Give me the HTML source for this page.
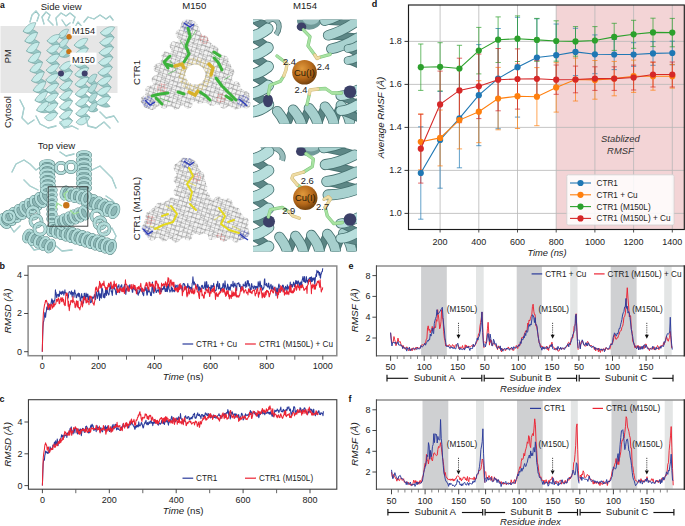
<!DOCTYPE html>
<html><head><meta charset="utf-8"><style>html,body{margin:0;padding:0;background:#fff;width:685px;height:526px;overflow:hidden}svg text{font-family:'Liberation Sans',sans-serif}</style></head>
<body><svg width="685" height="526" viewBox="0 0 685 526" style="display:block;font-family:'Liberation Sans',sans-serif">
<defs><pattern id="meshA" width="4.2" height="4.2" patternUnits="userSpaceOnUse" patternTransform="rotate(16)">
<path d="M0,0 L4.2,0 M0,0 L0,4.2" stroke="#767676" stroke-width="0.65" fill="none"/></pattern>
<pattern id="meshB" width="7.5" height="6.5" patternUnits="userSpaceOnUse" patternTransform="rotate(-34)">
<path d="M0,0 L7.5,0 M0,0 L3.75,6.5" stroke="#8a8a8a" stroke-width="0.55" fill="none"/></pattern>
<pattern id="meshY" width="3.6" height="3.6" patternUnits="userSpaceOnUse" patternTransform="rotate(20)">
<path d="M0,0 L3.6,0 M0,0 L0,3.6" stroke="#d9b63a" stroke-width="0.6" fill="none"/></pattern>
<pattern id="meshBl" width="3" height="3" patternUnits="userSpaceOnUse" patternTransform="rotate(30)">
<path d="M0,0 L3,0 M0,0 L0,3" stroke="#2936b0" stroke-width="0.7" fill="none"/></pattern>
<pattern id="meshR" width="3.4" height="3.4" patternUnits="userSpaceOnUse" patternTransform="rotate(10)">
<path d="M0,0 L3.4,0 M0,0 L0,3.4" stroke="#d04040" stroke-width="0.5" fill="none"/></pattern>
<radialGradient id="cu" cx="0.4" cy="0.35" r="0.68">
<stop offset="0" stop-color="#e0993c"/><stop offset="0.6" stop-color="#b5681a"/><stop offset="1" stop-color="#6e3e0c"/></radialGradient></defs>
<rect width="685" height="526" fill="#fff"/>
<rect x="0.5" y="26" width="117" height="67" fill="#e6e6e6"/>
<path d="M30.0,22.0 32.0,15.0 36.0,11.0 39.0,15.0 37.0,21.0" fill="none" stroke="#8fbcbb" stroke-width="1.3" stroke-linejoin="round" stroke-linecap="round"/><path d="M30.0,22.0 32.0,15.0 36.0,11.0 39.0,15.0 37.0,21.0" fill="none" stroke="#b2dbd9" stroke-width="0.8" stroke-linejoin="round" stroke-linecap="round"/>
<path d="M44.0,24.0 42.0,17.0 46.0,12.0 50.0,15.0 48.0,20.0 53.0,25.0" fill="none" stroke="#8fbcbb" stroke-width="1.3" stroke-linejoin="round" stroke-linecap="round"/><path d="M44.0,24.0 42.0,17.0 46.0,12.0 50.0,15.0 48.0,20.0 53.0,25.0" fill="none" stroke="#b2dbd9" stroke-width="0.8" stroke-linejoin="round" stroke-linecap="round"/>
<path d="M57.0,25.0 56.0,18.0 61.0,13.0 66.0,16.0 70.0,13.0 75.0,17.0 73.0,23.0" fill="none" stroke="#8fbcbb" stroke-width="1.3" stroke-linejoin="round" stroke-linecap="round"/><path d="M57.0,25.0 56.0,18.0 61.0,13.0 66.0,16.0 70.0,13.0 75.0,17.0 73.0,23.0" fill="none" stroke="#b2dbd9" stroke-width="0.8" stroke-linejoin="round" stroke-linecap="round"/>
<path d="M84.0,22.0 88.0,17.0 94.0,19.0 100.0,15.0 106.0,19.0 110.0,16.0 113.0,20.0" fill="none" stroke="#8fbcbb" stroke-width="1.3" stroke-linejoin="round" stroke-linecap="round"/><path d="M84.0,22.0 88.0,17.0 94.0,19.0 100.0,15.0 106.0,19.0 110.0,16.0 113.0,20.0" fill="none" stroke="#b2dbd9" stroke-width="0.8" stroke-linejoin="round" stroke-linecap="round"/>
<path d="M75.0,27.0 78.0,22.0 83.0,28.0" fill="none" stroke="#8fbcbb" stroke-width="1.3" stroke-linejoin="round" stroke-linecap="round"/><path d="M75.0,27.0 78.0,22.0 83.0,28.0" fill="none" stroke="#b2dbd9" stroke-width="0.8" stroke-linejoin="round" stroke-linecap="round"/>
<path d="M62.0,20.0 66.0,26.0 70.0,23.0" fill="none" stroke="#8fbcbb" stroke-width="1.3" stroke-linejoin="round" stroke-linecap="round"/><path d="M62.0,20.0 66.0,26.0 70.0,23.0" fill="none" stroke="#b2dbd9" stroke-width="0.8" stroke-linejoin="round" stroke-linecap="round"/>
<path d="M87.2,80.9C90.2,77.9 94.2,79.2 97.3,84.2C94.4,86.3 90.3,84.9 87.2,80.9Z" fill="#98c8c6" stroke="#6e9f9e" stroke-width="0.6"/>
<path d="M87.5,90.4C90.4,87.3 94.4,88.7 97.6,93.7C94.6,95.8 90.6,94.4 87.5,90.4Z" fill="#98c8c6" stroke="#6e9f9e" stroke-width="0.6"/>
<path d="M87.7,99.9C90.7,96.8 94.7,98.2 97.8,103.2C94.9,105.3 90.8,103.9 87.7,99.9Z" fill="#98c8c6" stroke="#6e9f9e" stroke-width="0.6"/>
<path d="M88.0,109.4C90.9,105.5 94.9,105.7 98.0,109.9C95.1,112.8 91.1,112.6 88.0,109.4Z" fill="#98c8c6" stroke="#6e9f9e" stroke-width="0.6"/>
<path d="M97.1,74.7C94.0,72.9 90.1,75.4 87.2,80.9C90.4,85.5 94.3,83.1 97.1,74.7Z" fill="#b5dedc" stroke="#6e9f9e" stroke-width="0.6"/>
<path d="M97.3,84.2C94.3,82.4 90.3,84.9 87.5,90.4C90.6,95.0 94.5,92.5 97.3,84.2Z" fill="#b5dedc" stroke="#6e9f9e" stroke-width="0.6"/>
<path d="M97.6,93.7C94.5,91.9 90.6,94.4 87.7,99.9C90.9,104.5 94.8,102.0 97.6,93.7Z" fill="#b5dedc" stroke="#6e9f9e" stroke-width="0.6"/>
<path d="M97.8,103.2C94.8,101.4 90.8,103.9 88.0,109.4C91.1,114.0 95.0,111.5 97.8,103.2Z" fill="#b5dedc" stroke="#6e9f9e" stroke-width="0.6"/>
<path d="M57.9,35.8C61.1,33.0 65.5,34.3 69.0,39.0C65.7,40.8 61.3,39.5 57.9,35.8Z" fill="#98c8c6" stroke="#6e9f9e" stroke-width="0.6"/>
<path d="M58.2,45.3C61.4,42.5 65.8,43.8 69.3,48.5C66.0,50.3 61.6,49.0 58.2,45.3Z" fill="#98c8c6" stroke="#6e9f9e" stroke-width="0.6"/>
<path d="M58.5,54.7C61.7,51.3 66.1,51.8 69.5,55.8C66.3,58.3 61.9,57.9 58.5,54.7Z" fill="#98c8c6" stroke="#6e9f9e" stroke-width="0.6"/>
<path d="M68.7,29.5C65.3,28.2 61.0,30.6 57.9,35.8C61.3,40.0 65.6,37.5 68.7,29.5Z" fill="#bfe6e4" stroke="#6e9f9e" stroke-width="0.6"/>
<path d="M69.0,39.0C65.6,37.6 61.3,40.1 58.2,45.3C61.6,49.5 65.9,47.0 69.0,39.0Z" fill="#bfe6e4" stroke="#6e9f9e" stroke-width="0.6"/>
<path d="M69.3,48.5C65.9,47.1 61.6,49.6 58.5,54.7C61.9,59.0 66.2,56.5 69.3,48.5Z" fill="#bfe6e4" stroke="#6e9f9e" stroke-width="0.6"/>
<path d="M23.1,31.3C26.8,27.7 32.6,28.3 37.6,32.7C33.8,35.3 28.0,34.7 23.1,31.3Z" fill="#98c8c6" stroke="#6e9f9e" stroke-width="0.6"/>
<path d="M24.8,41.1C28.5,37.6 34.2,38.1 39.3,42.5C35.4,45.1 29.7,44.6 24.8,41.1Z" fill="#98c8c6" stroke="#6e9f9e" stroke-width="0.6"/>
<path d="M26.5,51.0C30.2,47.4 35.9,48.0 40.9,52.4C37.1,55.0 31.3,54.4 26.5,51.0Z" fill="#98c8c6" stroke="#6e9f9e" stroke-width="0.6"/>
<path d="M28.2,60.9C31.8,57.3 37.6,57.8 42.6,62.3C38.8,64.8 33.0,64.3 28.2,60.9Z" fill="#98c8c6" stroke="#6e9f9e" stroke-width="0.6"/>
<path d="M29.9,70.7C33.5,67.1 39.3,67.7 44.3,72.1C40.5,74.7 34.7,74.1 29.9,70.7Z" fill="#98c8c6" stroke="#6e9f9e" stroke-width="0.6"/>
<path d="M31.5,80.6C35.2,77.0 41.0,77.6 46.0,82.0C42.2,84.6 36.4,84.0 31.5,80.6Z" fill="#98c8c6" stroke="#6e9f9e" stroke-width="0.6"/>
<path d="M33.2,90.4C36.9,86.9 42.7,87.4 47.7,91.8C43.8,94.4 38.1,93.9 33.2,90.4Z" fill="#98c8c6" stroke="#6e9f9e" stroke-width="0.6"/>
<path d="M34.9,100.3C38.6,96.7 44.3,97.3 49.3,101.7C45.5,104.3 39.7,103.7 34.9,100.3Z" fill="#98c8c6" stroke="#6e9f9e" stroke-width="0.6"/>
<path d="M36.6,110.2C40.2,106.4 45.9,106.6 50.9,110.8C47.1,113.6 41.4,113.4 36.6,110.2Z" fill="#98c8c6" stroke="#6e9f9e" stroke-width="0.6"/>
<path d="M35.9,22.8C31.5,21.8 26.4,25.2 23.1,31.3C28.1,35.2 33.2,31.8 35.9,22.8Z" fill="#c6ecea" stroke="#6e9f9e" stroke-width="0.6"/>
<path d="M37.6,32.7C33.2,31.7 28.1,35.1 24.8,41.1C29.8,45.1 34.9,41.7 37.6,32.7Z" fill="#c6ecea" stroke="#6e9f9e" stroke-width="0.6"/>
<path d="M39.3,42.5C34.8,41.6 29.7,44.9 26.5,51.0C31.4,54.9 36.5,51.6 39.3,42.5Z" fill="#c6ecea" stroke="#6e9f9e" stroke-width="0.6"/>
<path d="M40.9,52.4C36.5,51.4 31.4,54.8 28.2,60.9C33.1,64.8 38.2,61.4 40.9,52.4Z" fill="#c6ecea" stroke="#6e9f9e" stroke-width="0.6"/>
<path d="M42.6,62.3C38.2,61.3 33.1,64.7 29.9,70.7C34.8,74.7 39.9,71.3 42.6,62.3Z" fill="#c6ecea" stroke="#6e9f9e" stroke-width="0.6"/>
<path d="M44.3,72.1C39.9,71.1 34.8,74.5 31.5,80.6C36.5,84.5 41.6,81.1 44.3,72.1Z" fill="#c6ecea" stroke="#6e9f9e" stroke-width="0.6"/>
<path d="M46.0,82.0C41.6,81.0 36.5,84.4 33.2,90.4C38.2,94.4 43.3,91.0 46.0,82.0Z" fill="#c6ecea" stroke="#6e9f9e" stroke-width="0.6"/>
<path d="M47.7,91.8C43.2,90.9 38.1,94.2 34.9,100.3C39.8,104.2 44.9,100.8 47.7,91.8Z" fill="#c6ecea" stroke="#6e9f9e" stroke-width="0.6"/>
<path d="M49.3,101.7C44.9,100.7 39.8,104.1 36.6,110.2C41.5,114.1 46.6,110.7 49.3,101.7Z" fill="#c6ecea" stroke="#6e9f9e" stroke-width="0.6"/>
<path d="M47.2,40.8C51.2,38.0 56.4,39.7 60.1,45.0C56.1,46.8 51.0,45.1 47.2,40.8Z" fill="#98c8c6" stroke="#6e9f9e" stroke-width="0.6"/>
<path d="M46.9,50.6C50.9,47.8 56.0,49.5 59.7,54.8C55.8,56.6 50.6,54.9 46.9,50.6Z" fill="#98c8c6" stroke="#6e9f9e" stroke-width="0.6"/>
<path d="M46.5,60.4C50.5,57.6 55.7,59.3 59.4,64.6C55.4,66.4 50.3,64.7 46.5,60.4Z" fill="#98c8c6" stroke="#6e9f9e" stroke-width="0.6"/>
<path d="M46.2,70.2C50.2,67.4 55.3,69.1 59.0,74.4C55.1,76.2 49.9,74.5 46.2,70.2Z" fill="#98c8c6" stroke="#6e9f9e" stroke-width="0.6"/>
<path d="M45.8,80.0C49.8,77.2 55.0,78.9 58.7,84.2C54.7,86.0 49.6,84.3 45.8,80.0Z" fill="#98c8c6" stroke="#6e9f9e" stroke-width="0.6"/>
<path d="M45.5,89.8C49.5,87.0 54.6,88.7 58.4,94.0C54.4,95.8 49.2,94.1 45.5,89.8Z" fill="#98c8c6" stroke="#6e9f9e" stroke-width="0.6"/>
<path d="M45.1,99.6C49.1,96.8 54.3,98.5 58.0,103.7C54.0,105.5 48.9,103.9 45.1,99.6Z" fill="#98c8c6" stroke="#6e9f9e" stroke-width="0.6"/>
<path d="M44.8,109.4C48.8,106.6 53.9,108.3 57.7,113.5C53.7,115.3 48.6,113.7 44.8,109.4Z" fill="#98c8c6" stroke="#6e9f9e" stroke-width="0.6"/>
<path d="M60.4,35.2C56.6,33.3 51.3,35.5 47.2,40.8C51.0,45.7 56.2,43.4 60.4,35.2Z" fill="#c6ecea" stroke="#6e9f9e" stroke-width="0.6"/>
<path d="M60.1,45.0C56.2,43.1 51.0,45.3 46.9,50.6C50.6,55.4 55.9,53.2 60.1,45.0Z" fill="#c6ecea" stroke="#6e9f9e" stroke-width="0.6"/>
<path d="M59.7,54.8C55.9,52.9 50.6,55.1 46.5,60.4C50.3,65.2 55.5,63.0 59.7,54.8Z" fill="#c6ecea" stroke="#6e9f9e" stroke-width="0.6"/>
<path d="M59.4,64.6C55.6,62.7 50.3,64.9 46.2,70.2C49.9,75.0 55.2,72.8 59.4,64.6Z" fill="#c6ecea" stroke="#6e9f9e" stroke-width="0.6"/>
<path d="M59.0,74.4C55.2,72.5 49.9,74.7 45.8,80.0C49.6,84.8 54.9,82.6 59.0,74.4Z" fill="#c6ecea" stroke="#6e9f9e" stroke-width="0.6"/>
<path d="M58.7,84.2C54.9,82.2 49.6,84.5 45.5,89.8C49.2,94.6 54.5,92.4 58.7,84.2Z" fill="#c6ecea" stroke="#6e9f9e" stroke-width="0.6"/>
<path d="M58.4,94.0C54.5,92.0 49.2,94.3 45.1,99.6C48.9,104.4 54.2,102.2 58.4,94.0Z" fill="#c6ecea" stroke="#6e9f9e" stroke-width="0.6"/>
<path d="M58.0,103.7C54.2,101.8 48.9,104.1 44.8,109.4C48.5,114.2 53.8,112.0 58.0,103.7Z" fill="#c6ecea" stroke="#6e9f9e" stroke-width="0.6"/>
<path d="M57.7,113.5C53.8,111.2 48.6,112.9 44.5,117.8C48.2,123.0 53.5,121.3 57.7,113.5Z" fill="#c6ecea" stroke="#6e9f9e" stroke-width="0.6"/>
<path d="M59.5,68.0C63.4,65.1 68.6,66.5 72.5,71.7C68.6,73.6 63.4,72.1 59.5,68.0Z" fill="#98c8c6" stroke="#6e9f9e" stroke-width="0.6"/>
<path d="M59.5,77.8C63.4,74.9 68.6,76.3 72.5,81.5C68.6,83.4 63.4,81.9 59.5,77.8Z" fill="#98c8c6" stroke="#6e9f9e" stroke-width="0.6"/>
<path d="M59.5,87.6C63.4,84.7 68.6,86.1 72.5,91.3C68.6,93.2 63.4,91.7 59.5,87.6Z" fill="#98c8c6" stroke="#6e9f9e" stroke-width="0.6"/>
<path d="M59.5,97.4C63.4,94.5 68.6,95.9 72.5,101.1C68.6,103.0 63.4,101.5 59.5,97.4Z" fill="#98c8c6" stroke="#6e9f9e" stroke-width="0.6"/>
<path d="M59.5,107.2C63.4,104.3 68.6,105.7 72.5,110.9C68.6,112.8 63.4,111.3 59.5,107.2Z" fill="#98c8c6" stroke="#6e9f9e" stroke-width="0.6"/>
<path d="M59.5,117.0C63.4,114.1 68.6,115.5 72.5,120.7C68.6,122.6 63.4,121.1 59.5,117.0Z" fill="#98c8c6" stroke="#6e9f9e" stroke-width="0.6"/>
<path d="M72.5,61.9C68.6,60.1 63.4,62.6 59.5,68.0C63.4,72.7 68.6,70.3 72.5,61.9Z" fill="#c6ecea" stroke="#6e9f9e" stroke-width="0.6"/>
<path d="M72.5,71.7C68.6,69.9 63.4,72.4 59.5,77.8C63.4,82.5 68.6,80.1 72.5,71.7Z" fill="#c6ecea" stroke="#6e9f9e" stroke-width="0.6"/>
<path d="M72.5,81.5C68.6,79.7 63.4,82.2 59.5,87.6C63.4,92.3 68.6,89.9 72.5,81.5Z" fill="#c6ecea" stroke="#6e9f9e" stroke-width="0.6"/>
<path d="M72.5,91.3C68.6,89.5 63.4,92.0 59.5,97.4C63.4,102.1 68.6,99.7 72.5,91.3Z" fill="#c6ecea" stroke="#6e9f9e" stroke-width="0.6"/>
<path d="M72.5,101.1C68.6,99.3 63.4,101.8 59.5,107.2C63.4,111.9 68.6,109.5 72.5,101.1Z" fill="#c6ecea" stroke="#6e9f9e" stroke-width="0.6"/>
<path d="M72.5,110.9C68.6,109.1 63.4,111.6 59.5,117.0C63.4,121.7 68.6,119.3 72.5,110.9Z" fill="#c6ecea" stroke="#6e9f9e" stroke-width="0.6"/>
<path d="M72.5,120.7C68.6,117.8 63.4,118.7 59.5,123.0C63.4,128.8 68.6,127.9 72.5,120.7Z" fill="#c6ecea" stroke="#6e9f9e" stroke-width="0.6"/>
<path d="M74.2,45.2C78.3,42.2 83.9,43.6 88.3,48.6C84.1,50.6 78.5,49.3 74.2,45.2Z" fill="#98c8c6" stroke="#6e9f9e" stroke-width="0.6"/>
<path d="M74.4,55.0C78.5,52.0 84.2,53.4 88.5,58.4C84.3,60.4 78.7,59.1 74.4,55.0Z" fill="#98c8c6" stroke="#6e9f9e" stroke-width="0.6"/>
<path d="M74.6,64.8C78.8,61.8 84.4,63.2 88.7,68.2C84.6,70.2 78.9,68.9 74.6,64.8Z" fill="#98c8c6" stroke="#6e9f9e" stroke-width="0.6"/>
<path d="M74.9,74.6C79.0,71.6 84.6,72.9 89.0,78.0C84.8,80.0 79.2,78.7 74.9,74.6Z" fill="#98c8c6" stroke="#6e9f9e" stroke-width="0.6"/>
<path d="M75.1,84.4C79.2,81.4 84.9,82.7 89.2,87.8C85.0,89.8 79.4,88.5 75.1,84.4Z" fill="#98c8c6" stroke="#6e9f9e" stroke-width="0.6"/>
<path d="M75.3,94.2C79.5,91.2 85.1,92.5 89.4,97.6C85.3,99.6 79.6,98.3 75.3,94.2Z" fill="#98c8c6" stroke="#6e9f9e" stroke-width="0.6"/>
<path d="M75.6,104.0C79.7,101.0 85.3,102.3 89.7,107.4C85.5,109.4 79.9,108.1 75.6,104.0Z" fill="#98c8c6" stroke="#6e9f9e" stroke-width="0.6"/>
<path d="M75.8,113.8C79.9,110.8 85.6,112.1 89.9,117.2C85.7,119.2 80.1,117.9 75.8,113.8Z" fill="#98c8c6" stroke="#6e9f9e" stroke-width="0.6"/>
<path d="M88.0,38.8C83.8,37.1 78.2,39.7 74.2,45.2C78.5,49.8 84.0,47.3 88.0,38.8Z" fill="#c6ecea" stroke="#6e9f9e" stroke-width="0.6"/>
<path d="M88.3,48.6C84.0,46.9 78.5,49.5 74.4,55.0C78.7,59.6 84.3,57.1 88.3,48.6Z" fill="#c6ecea" stroke="#6e9f9e" stroke-width="0.6"/>
<path d="M88.5,58.4C84.2,56.7 78.7,59.3 74.6,64.8C78.9,69.4 84.5,66.9 88.5,58.4Z" fill="#c6ecea" stroke="#6e9f9e" stroke-width="0.6"/>
<path d="M88.7,68.2C84.5,66.5 78.9,69.1 74.9,74.6C79.2,79.2 84.7,76.7 88.7,68.2Z" fill="#c6ecea" stroke="#6e9f9e" stroke-width="0.6"/>
<path d="M89.0,78.0C84.7,76.3 79.2,78.9 75.1,84.4C79.4,89.0 85.0,86.5 89.0,78.0Z" fill="#c6ecea" stroke="#6e9f9e" stroke-width="0.6"/>
<path d="M89.2,87.8C84.9,86.1 79.4,88.7 75.3,94.2C79.6,98.8 85.2,96.3 89.2,87.8Z" fill="#c6ecea" stroke="#6e9f9e" stroke-width="0.6"/>
<path d="M89.4,97.6C85.2,95.9 79.6,98.5 75.6,104.0C79.9,108.6 85.4,106.1 89.4,97.6Z" fill="#c6ecea" stroke="#6e9f9e" stroke-width="0.6"/>
<path d="M89.7,107.4C85.4,105.7 79.9,108.3 75.8,113.8C80.1,118.4 85.7,115.9 89.7,107.4Z" fill="#c6ecea" stroke="#6e9f9e" stroke-width="0.6"/>
<path d="M89.9,117.2C85.6,115.1 80.1,117.1 76.0,122.2C80.3,127.2 85.9,125.2 89.9,117.2Z" fill="#c6ecea" stroke="#6e9f9e" stroke-width="0.6"/>
<path d="M100.4,32.8C104.8,30.1 110.3,32.0 114.1,37.4C109.8,39.0 104.3,37.2 100.4,32.8Z" fill="#98c8c6" stroke="#6e9f9e" stroke-width="0.6"/>
<path d="M99.8,42.7C104.2,40.1 109.7,41.9 113.5,47.4C109.2,49.0 103.7,47.2 99.8,42.7Z" fill="#98c8c6" stroke="#6e9f9e" stroke-width="0.6"/>
<path d="M99.2,52.7C103.6,50.1 109.1,51.9 112.9,57.4C108.6,59.0 103.1,57.2 99.2,52.7Z" fill="#98c8c6" stroke="#6e9f9e" stroke-width="0.6"/>
<path d="M98.6,62.7C103.0,60.1 108.5,61.9 112.3,67.3C108.0,69.0 102.5,67.1 98.6,62.7Z" fill="#98c8c6" stroke="#6e9f9e" stroke-width="0.6"/>
<path d="M98.0,72.7C102.4,70.0 107.9,71.9 111.7,77.3C107.4,79.0 101.9,77.1 98.0,72.7Z" fill="#98c8c6" stroke="#6e9f9e" stroke-width="0.6"/>
<path d="M97.4,82.7C101.8,80.0 107.3,81.9 111.1,87.3C106.8,89.0 101.3,87.1 97.4,82.7Z" fill="#98c8c6" stroke="#6e9f9e" stroke-width="0.6"/>
<path d="M96.8,92.7C101.2,90.0 106.7,91.9 110.5,97.3C106.2,98.9 100.7,97.1 96.8,92.7Z" fill="#98c8c6" stroke="#6e9f9e" stroke-width="0.6"/>
<path d="M96.2,102.6C100.6,99.7 106.1,101.2 110.0,106.4C105.7,108.3 100.1,106.8 96.2,102.6Z" fill="#98c8c6" stroke="#6e9f9e" stroke-width="0.6"/>
<path d="M114.7,27.4C110.7,25.5 104.9,27.6 100.4,32.8C104.3,37.7 110.0,35.6 114.7,27.4Z" fill="#c6ecea" stroke="#6e9f9e" stroke-width="0.6"/>
<path d="M114.1,37.4C110.1,35.4 104.3,37.6 99.8,42.7C103.7,47.7 109.4,45.6 114.1,37.4Z" fill="#c6ecea" stroke="#6e9f9e" stroke-width="0.6"/>
<path d="M113.5,47.4C109.5,45.4 103.7,47.6 99.2,52.7C103.1,57.7 108.8,55.5 113.5,47.4Z" fill="#c6ecea" stroke="#6e9f9e" stroke-width="0.6"/>
<path d="M112.9,57.4C108.9,55.4 103.1,57.5 98.6,62.7C102.5,67.7 108.2,65.5 112.9,57.4Z" fill="#c6ecea" stroke="#6e9f9e" stroke-width="0.6"/>
<path d="M112.3,67.3C108.3,65.4 102.5,67.5 98.0,72.7C101.9,77.6 107.6,75.5 112.3,67.3Z" fill="#c6ecea" stroke="#6e9f9e" stroke-width="0.6"/>
<path d="M111.7,77.3C107.7,75.4 101.9,77.5 97.4,82.7C101.3,87.6 107.0,85.5 111.7,77.3Z" fill="#c6ecea" stroke="#6e9f9e" stroke-width="0.6"/>
<path d="M111.1,87.3C107.0,85.3 101.3,87.5 96.8,92.7C100.7,97.6 106.4,95.5 111.1,87.3Z" fill="#c6ecea" stroke="#6e9f9e" stroke-width="0.6"/>
<path d="M110.5,97.3C106.4,95.3 100.7,97.5 96.2,102.6C100.1,107.6 105.8,105.4 110.5,97.3Z" fill="#c6ecea" stroke="#6e9f9e" stroke-width="0.6"/>
<path d="M20.0,100.0 24.0,108.0 22.0,118.0 28.0,124.0 34.0,120.0" fill="none" stroke="#8fbcbb" stroke-width="1.3" stroke-linejoin="round" stroke-linecap="round"/><path d="M20.0,100.0 24.0,108.0 22.0,118.0 28.0,124.0 34.0,120.0" fill="none" stroke="#b2dbd9" stroke-width="0.8" stroke-linejoin="round" stroke-linecap="round"/>
<path d="M36.0,116.0 40.0,124.0 48.0,128.0 56.0,126.0" fill="none" stroke="#8fbcbb" stroke-width="1.3" stroke-linejoin="round" stroke-linecap="round"/><path d="M36.0,116.0 40.0,124.0 48.0,128.0 56.0,126.0" fill="none" stroke="#b2dbd9" stroke-width="0.8" stroke-linejoin="round" stroke-linecap="round"/>
<path d="M60.0,122.0 64.0,128.0 72.0,126.0 78.0,129.0" fill="none" stroke="#8fbcbb" stroke-width="1.3" stroke-linejoin="round" stroke-linecap="round"/><path d="M60.0,122.0 64.0,128.0 72.0,126.0 78.0,129.0" fill="none" stroke="#b2dbd9" stroke-width="0.8" stroke-linejoin="round" stroke-linecap="round"/>
<path d="M86.0,118.0 88.0,126.0 96.0,128.0 104.0,122.0 110.0,128.0" fill="none" stroke="#8fbcbb" stroke-width="1.3" stroke-linejoin="round" stroke-linecap="round"/><path d="M86.0,118.0 88.0,126.0 96.0,128.0 104.0,122.0 110.0,128.0" fill="none" stroke="#b2dbd9" stroke-width="0.8" stroke-linejoin="round" stroke-linecap="round"/>
<path d="M100.0,112.0 106.0,118.0 114.0,116.0 118.0,122.0" fill="none" stroke="#8fbcbb" stroke-width="1.3" stroke-linejoin="round" stroke-linecap="round"/><path d="M100.0,112.0 106.0,118.0 114.0,116.0 118.0,122.0" fill="none" stroke="#b2dbd9" stroke-width="0.8" stroke-linejoin="round" stroke-linecap="round"/>
<circle cx="61" cy="73.6" r="3.0" fill="#3f3f6b"/>
<circle cx="84.7" cy="73.6" r="3.0" fill="#3f3f6b"/>
<circle cx="69.1" cy="36.8" r="2.7" fill="#c97516"/>
<circle cx="68.9" cy="51.6" r="2.7" fill="#c97516"/>
<rect x="70.8" y="25.8" width="25.7" height="9.6" fill="#fff"/>
<rect x="70.3" y="52.6" width="26.2" height="12" fill="#fff"/>
<text x="83.6" y="33.6" font-size="9.2" text-anchor="middle" fill="#222">M154</text>
<text x="83.4" y="62.9" font-size="9.2" text-anchor="middle" fill="#222">M150</text>
<text x="61.2" y="10.2" font-size="9.6" text-anchor="middle" fill="#222">Side view</text>
<text x="11.2" y="56.3" font-size="9.3" text-anchor="middle" fill="#222" transform="rotate(-90 11.2 56.3)">PM</text>
<text x="11.2" y="112.0" font-size="9.6" text-anchor="middle" fill="#222" transform="rotate(-90 11.2 112.0)">Cytosol</text>
<text x="0.0" y="7.5" font-size="8.5" text-anchor="start" fill="#111" font-weight="bold">a</text>
<text x="56.5" y="148.5" font-size="9.6" text-anchor="middle" fill="#222">Top view</text>
<path d="M12.0,172.0 16.0,164.0 24.0,160.0 30.0,164.0 36.0,170.0 42.0,166.0" fill="none" stroke="#8fbcbb" stroke-width="1.3" stroke-linejoin="round" stroke-linecap="round"/><path d="M12.0,172.0 16.0,164.0 24.0,160.0 30.0,164.0 36.0,170.0 42.0,166.0" fill="none" stroke="#b2dbd9" stroke-width="0.8" stroke-linejoin="round" stroke-linecap="round"/>
<path d="M92.0,170.0 100.0,166.0 106.0,172.0 112.0,178.0 116.0,188.0" fill="none" stroke="#8fbcbb" stroke-width="1.3" stroke-linejoin="round" stroke-linecap="round"/><path d="M92.0,170.0 100.0,166.0 106.0,172.0 112.0,178.0 116.0,188.0" fill="none" stroke="#b2dbd9" stroke-width="0.8" stroke-linejoin="round" stroke-linecap="round"/>
<path d="M20.0,226.0 14.0,232.0 10.0,226.0" fill="none" stroke="#8fbcbb" stroke-width="1.3" stroke-linejoin="round" stroke-linecap="round"/><path d="M20.0,226.0 14.0,232.0 10.0,226.0" fill="none" stroke="#b2dbd9" stroke-width="0.8" stroke-linejoin="round" stroke-linecap="round"/>
<path d="M104.0,232.0 112.0,228.0 116.0,236.0 112.0,246.0" fill="none" stroke="#8fbcbb" stroke-width="1.3" stroke-linejoin="round" stroke-linecap="round"/><path d="M104.0,232.0 112.0,228.0 116.0,236.0 112.0,246.0" fill="none" stroke="#b2dbd9" stroke-width="0.8" stroke-linejoin="round" stroke-linecap="round"/>
<path d="M28.0,242.0 34.0,250.0 44.0,248.0" fill="none" stroke="#8fbcbb" stroke-width="1.3" stroke-linejoin="round" stroke-linecap="round"/><path d="M28.0,242.0 34.0,250.0 44.0,248.0" fill="none" stroke="#b2dbd9" stroke-width="0.8" stroke-linejoin="round" stroke-linecap="round"/>
<path d="M56.0,246.0 62.0,251.0 72.0,250.0" fill="none" stroke="#8fbcbb" stroke-width="1.3" stroke-linejoin="round" stroke-linecap="round"/><path d="M56.0,246.0 62.0,251.0 72.0,250.0" fill="none" stroke="#b2dbd9" stroke-width="0.8" stroke-linejoin="round" stroke-linecap="round"/>
<path d="M24.0,180.0 30.0,186.0 38.0,190.0" fill="none" stroke="#8fbcbb" stroke-width="1.3" stroke-linejoin="round" stroke-linecap="round"/><path d="M24.0,180.0 30.0,186.0 38.0,190.0" fill="none" stroke="#b2dbd9" stroke-width="0.8" stroke-linejoin="round" stroke-linecap="round"/>
<path d="M106.0,196.0 112.0,200.0 117.0,206.0" fill="none" stroke="#8fbcbb" stroke-width="1.3" stroke-linejoin="round" stroke-linecap="round"/><path d="M106.0,196.0 112.0,200.0 117.0,206.0" fill="none" stroke="#b2dbd9" stroke-width="0.8" stroke-linejoin="round" stroke-linecap="round"/>
<path d="M60.0,152.0 66.0,156.0 74.0,154.0" fill="none" stroke="#8fbcbb" stroke-width="1.3" stroke-linejoin="round" stroke-linecap="round"/><path d="M60.0,152.0 66.0,156.0 74.0,154.0" fill="none" stroke="#b2dbd9" stroke-width="0.8" stroke-linejoin="round" stroke-linecap="round"/>
<ellipse cx="28.0" cy="236.0" rx="6.0" ry="3.8" transform="rotate(114.4 28.0 236.0)" fill="#8db7b6" stroke="#55807f" stroke-width="3.3"/>
<ellipse cx="28.0" cy="236.0" rx="6.0" ry="3.8" transform="rotate(114.4 28.0 236.0)" fill="none" stroke="#b3dcda" stroke-width="2.4"/>
<ellipse cx="33.5" cy="238.5" rx="6.0" ry="3.8" transform="rotate(114.4 33.5 238.5)" fill="#8db7b6" stroke="#55807f" stroke-width="3.3"/>
<ellipse cx="33.5" cy="238.5" rx="6.0" ry="3.8" transform="rotate(114.4 33.5 238.5)" fill="none" stroke="#b3dcda" stroke-width="2.4"/>
<ellipse cx="39.0" cy="241.0" rx="6.0" ry="3.8" transform="rotate(114.4 39.0 241.0)" fill="#8db7b6" stroke="#55807f" stroke-width="3.3"/>
<ellipse cx="39.0" cy="241.0" rx="6.0" ry="3.8" transform="rotate(114.4 39.0 241.0)" fill="none" stroke="#b3dcda" stroke-width="2.4"/>
<ellipse cx="44.5" cy="243.5" rx="6.0" ry="3.8" transform="rotate(114.4 44.5 243.5)" fill="#8db7b6" stroke="#55807f" stroke-width="3.3"/>
<ellipse cx="44.5" cy="243.5" rx="6.0" ry="3.8" transform="rotate(114.4 44.5 243.5)" fill="none" stroke="#b3dcda" stroke-width="2.4"/>
<ellipse cx="50.0" cy="246.0" rx="6.0" ry="3.8" transform="rotate(114.4 50.0 246.0)" fill="#8db7b6" stroke="#55807f" stroke-width="3.3"/>
<ellipse cx="50.0" cy="246.0" rx="6.0" ry="3.8" transform="rotate(114.4 50.0 246.0)" fill="none" stroke="#b3dcda" stroke-width="2.4"/>
<ellipse cx="52.0" cy="229.0" rx="6.4" ry="4.0" transform="rotate(107.0 52.0 229.0)" fill="#8db7b6" stroke="#55807f" stroke-width="3.3"/>
<ellipse cx="52.0" cy="229.0" rx="6.4" ry="4.0" transform="rotate(107.0 52.0 229.0)" fill="none" stroke="#b3dcda" stroke-width="2.4"/>
<ellipse cx="56.9" cy="230.5" rx="6.4" ry="4.0" transform="rotate(107.0 56.9 230.5)" fill="#8db7b6" stroke="#55807f" stroke-width="3.3"/>
<ellipse cx="56.9" cy="230.5" rx="6.4" ry="4.0" transform="rotate(107.0 56.9 230.5)" fill="none" stroke="#b3dcda" stroke-width="2.4"/>
<ellipse cx="61.8" cy="232.0" rx="6.4" ry="4.0" transform="rotate(107.0 61.8 232.0)" fill="#8db7b6" stroke="#55807f" stroke-width="3.3"/>
<ellipse cx="61.8" cy="232.0" rx="6.4" ry="4.0" transform="rotate(107.0 61.8 232.0)" fill="none" stroke="#b3dcda" stroke-width="2.4"/>
<ellipse cx="66.8" cy="233.5" rx="6.4" ry="4.0" transform="rotate(107.0 66.8 233.5)" fill="#8db7b6" stroke="#55807f" stroke-width="3.3"/>
<ellipse cx="66.8" cy="233.5" rx="6.4" ry="4.0" transform="rotate(107.0 66.8 233.5)" fill="none" stroke="#b3dcda" stroke-width="2.4"/>
<ellipse cx="71.7" cy="235.0" rx="6.4" ry="4.0" transform="rotate(107.0 71.7 235.0)" fill="#8db7b6" stroke="#55807f" stroke-width="3.3"/>
<ellipse cx="71.7" cy="235.0" rx="6.4" ry="4.0" transform="rotate(107.0 71.7 235.0)" fill="none" stroke="#b3dcda" stroke-width="2.4"/>
<ellipse cx="76.6" cy="236.5" rx="6.4" ry="4.0" transform="rotate(107.0 76.6 236.5)" fill="#8db7b6" stroke="#55807f" stroke-width="3.3"/>
<ellipse cx="76.6" cy="236.5" rx="6.4" ry="4.0" transform="rotate(107.0 76.6 236.5)" fill="none" stroke="#b3dcda" stroke-width="2.4"/>
<ellipse cx="81.5" cy="238.0" rx="6.4" ry="4.0" transform="rotate(107.0 81.5 238.0)" fill="#8db7b6" stroke="#55807f" stroke-width="3.3"/>
<ellipse cx="81.5" cy="238.0" rx="6.4" ry="4.0" transform="rotate(107.0 81.5 238.0)" fill="none" stroke="#b3dcda" stroke-width="2.4"/>
<ellipse cx="86.4" cy="239.5" rx="6.4" ry="4.0" transform="rotate(107.0 86.4 239.5)" fill="#8db7b6" stroke="#55807f" stroke-width="3.3"/>
<ellipse cx="86.4" cy="239.5" rx="6.4" ry="4.0" transform="rotate(107.0 86.4 239.5)" fill="none" stroke="#b3dcda" stroke-width="2.4"/>
<ellipse cx="91.3" cy="241.0" rx="6.4" ry="4.0" transform="rotate(107.0 91.3 241.0)" fill="#8db7b6" stroke="#55807f" stroke-width="3.3"/>
<ellipse cx="91.3" cy="241.0" rx="6.4" ry="4.0" transform="rotate(107.0 91.3 241.0)" fill="none" stroke="#b3dcda" stroke-width="2.4"/>
<ellipse cx="96.2" cy="242.5" rx="6.4" ry="4.0" transform="rotate(107.0 96.2 242.5)" fill="#8db7b6" stroke="#55807f" stroke-width="3.3"/>
<ellipse cx="96.2" cy="242.5" rx="6.4" ry="4.0" transform="rotate(107.0 96.2 242.5)" fill="none" stroke="#b3dcda" stroke-width="2.4"/>
<ellipse cx="101.2" cy="244.0" rx="6.4" ry="4.0" transform="rotate(107.0 101.2 244.0)" fill="#8db7b6" stroke="#55807f" stroke-width="3.3"/>
<ellipse cx="101.2" cy="244.0" rx="6.4" ry="4.0" transform="rotate(107.0 101.2 244.0)" fill="none" stroke="#b3dcda" stroke-width="2.4"/>
<ellipse cx="106.1" cy="245.5" rx="6.4" ry="4.0" transform="rotate(107.0 106.1 245.5)" fill="#8db7b6" stroke="#55807f" stroke-width="3.3"/>
<ellipse cx="106.1" cy="245.5" rx="6.4" ry="4.0" transform="rotate(107.0 106.1 245.5)" fill="none" stroke="#b3dcda" stroke-width="2.4"/>
<ellipse cx="111.0" cy="247.0" rx="6.4" ry="4.0" transform="rotate(107.0 111.0 247.0)" fill="#8db7b6" stroke="#55807f" stroke-width="3.3"/>
<ellipse cx="111.0" cy="247.0" rx="6.4" ry="4.0" transform="rotate(107.0 111.0 247.0)" fill="none" stroke="#b3dcda" stroke-width="2.4"/>
<ellipse cx="5.0" cy="221.0" rx="6.8" ry="4.3" transform="rotate(59.7 5.0 221.0)" fill="#8db7b6" stroke="#55807f" stroke-width="3.3"/>
<ellipse cx="5.0" cy="221.0" rx="6.8" ry="4.3" transform="rotate(59.7 5.0 221.0)" fill="none" stroke="#b3dcda" stroke-width="2.4"/>
<ellipse cx="10.1" cy="218.0" rx="6.8" ry="4.3" transform="rotate(59.7 10.1 218.0)" fill="#8db7b6" stroke="#55807f" stroke-width="3.3"/>
<ellipse cx="10.1" cy="218.0" rx="6.8" ry="4.3" transform="rotate(59.7 10.1 218.0)" fill="none" stroke="#b3dcda" stroke-width="2.4"/>
<ellipse cx="15.2" cy="215.0" rx="6.8" ry="4.3" transform="rotate(59.7 15.2 215.0)" fill="#8db7b6" stroke="#55807f" stroke-width="3.3"/>
<ellipse cx="15.2" cy="215.0" rx="6.8" ry="4.3" transform="rotate(59.7 15.2 215.0)" fill="none" stroke="#b3dcda" stroke-width="2.4"/>
<ellipse cx="20.4" cy="212.0" rx="6.8" ry="4.3" transform="rotate(59.7 20.4 212.0)" fill="#8db7b6" stroke="#55807f" stroke-width="3.3"/>
<ellipse cx="20.4" cy="212.0" rx="6.8" ry="4.3" transform="rotate(59.7 20.4 212.0)" fill="none" stroke="#b3dcda" stroke-width="2.4"/>
<ellipse cx="25.5" cy="209.0" rx="6.8" ry="4.3" transform="rotate(59.7 25.5 209.0)" fill="#8db7b6" stroke="#55807f" stroke-width="3.3"/>
<ellipse cx="25.5" cy="209.0" rx="6.8" ry="4.3" transform="rotate(59.7 25.5 209.0)" fill="none" stroke="#b3dcda" stroke-width="2.4"/>
<ellipse cx="30.6" cy="206.0" rx="6.8" ry="4.3" transform="rotate(59.7 30.6 206.0)" fill="#8db7b6" stroke="#55807f" stroke-width="3.3"/>
<ellipse cx="30.6" cy="206.0" rx="6.8" ry="4.3" transform="rotate(59.7 30.6 206.0)" fill="none" stroke="#b3dcda" stroke-width="2.4"/>
<ellipse cx="35.8" cy="203.0" rx="6.8" ry="4.3" transform="rotate(59.7 35.8 203.0)" fill="#8db7b6" stroke="#55807f" stroke-width="3.3"/>
<ellipse cx="35.8" cy="203.0" rx="6.8" ry="4.3" transform="rotate(59.7 35.8 203.0)" fill="none" stroke="#b3dcda" stroke-width="2.4"/>
<ellipse cx="40.9" cy="200.0" rx="6.8" ry="4.3" transform="rotate(59.7 40.9 200.0)" fill="#8db7b6" stroke="#55807f" stroke-width="3.3"/>
<ellipse cx="40.9" cy="200.0" rx="6.8" ry="4.3" transform="rotate(59.7 40.9 200.0)" fill="none" stroke="#b3dcda" stroke-width="2.4"/>
<ellipse cx="46.0" cy="197.0" rx="6.8" ry="4.3" transform="rotate(59.7 46.0 197.0)" fill="#8db7b6" stroke="#55807f" stroke-width="3.3"/>
<ellipse cx="46.0" cy="197.0" rx="6.8" ry="4.3" transform="rotate(59.7 46.0 197.0)" fill="none" stroke="#b3dcda" stroke-width="2.4"/>
<ellipse cx="87.0" cy="200.0" rx="6.6" ry="4.2" transform="rotate(112.2 87.0 200.0)" fill="#8db7b6" stroke="#55807f" stroke-width="3.3"/>
<ellipse cx="87.0" cy="200.0" rx="6.6" ry="4.2" transform="rotate(112.2 87.0 200.0)" fill="none" stroke="#b3dcda" stroke-width="2.4"/>
<ellipse cx="92.4" cy="202.2" rx="6.6" ry="4.2" transform="rotate(112.2 92.4 202.2)" fill="#8db7b6" stroke="#55807f" stroke-width="3.3"/>
<ellipse cx="92.4" cy="202.2" rx="6.6" ry="4.2" transform="rotate(112.2 92.4 202.2)" fill="none" stroke="#b3dcda" stroke-width="2.4"/>
<ellipse cx="97.8" cy="204.4" rx="6.6" ry="4.2" transform="rotate(112.2 97.8 204.4)" fill="#8db7b6" stroke="#55807f" stroke-width="3.3"/>
<ellipse cx="97.8" cy="204.4" rx="6.6" ry="4.2" transform="rotate(112.2 97.8 204.4)" fill="none" stroke="#b3dcda" stroke-width="2.4"/>
<ellipse cx="103.2" cy="206.6" rx="6.6" ry="4.2" transform="rotate(112.2 103.2 206.6)" fill="#8db7b6" stroke="#55807f" stroke-width="3.3"/>
<ellipse cx="103.2" cy="206.6" rx="6.6" ry="4.2" transform="rotate(112.2 103.2 206.6)" fill="none" stroke="#b3dcda" stroke-width="2.4"/>
<ellipse cx="108.6" cy="208.8" rx="6.6" ry="4.2" transform="rotate(112.2 108.6 208.8)" fill="#8db7b6" stroke="#55807f" stroke-width="3.3"/>
<ellipse cx="108.6" cy="208.8" rx="6.6" ry="4.2" transform="rotate(112.2 108.6 208.8)" fill="none" stroke="#b3dcda" stroke-width="2.4"/>
<ellipse cx="114.0" cy="211.0" rx="6.6" ry="4.2" transform="rotate(112.2 114.0 211.0)" fill="#8db7b6" stroke="#55807f" stroke-width="3.3"/>
<ellipse cx="114.0" cy="211.0" rx="6.6" ry="4.2" transform="rotate(112.2 114.0 211.0)" fill="none" stroke="#b3dcda" stroke-width="2.4"/>
<circle cx="9" cy="217" r="5.5" fill="none" stroke="#55807f" stroke-width="3.6"/><circle cx="9" cy="217" r="5.5" fill="none" stroke="#b3dcda" stroke-width="2.6"/>
<circle cx="33" cy="213" r="5.6" fill="none" stroke="#55807f" stroke-width="3.6"/><circle cx="33" cy="213" r="5.6" fill="none" stroke="#b3dcda" stroke-width="2.6"/>
<circle cx="36" cy="221" r="5.6" fill="none" stroke="#55807f" stroke-width="3.6"/><circle cx="36" cy="221" r="5.6" fill="none" stroke="#b3dcda" stroke-width="2.6"/>
<circle cx="40" cy="229" r="5.6" fill="none" stroke="#55807f" stroke-width="3.6"/><circle cx="40" cy="229" r="5.6" fill="none" stroke="#b3dcda" stroke-width="2.6"/>
<circle cx="97" cy="216" r="5.6" fill="none" stroke="#55807f" stroke-width="3.6"/><circle cx="97" cy="216" r="5.6" fill="none" stroke="#b3dcda" stroke-width="2.6"/>
<circle cx="100" cy="223" r="5.6" fill="none" stroke="#55807f" stroke-width="3.6"/><circle cx="100" cy="223" r="5.6" fill="none" stroke="#b3dcda" stroke-width="2.6"/>
<circle cx="104" cy="229" r="5.6" fill="none" stroke="#55807f" stroke-width="3.6"/><circle cx="104" cy="229" r="5.6" fill="none" stroke="#b3dcda" stroke-width="2.6"/>
<ellipse cx="84.0" cy="155.0" rx="6.4" ry="3.2" transform="rotate(180.0 84.0 155.0)" fill="#8db7b6" stroke="#55807f" stroke-width="3.3"/>
<ellipse cx="84.0" cy="155.0" rx="6.4" ry="3.2" transform="rotate(180.0 84.0 155.0)" fill="none" stroke="#b3dcda" stroke-width="2.4"/>
<ellipse cx="84.0" cy="159.7" rx="6.4" ry="3.2" transform="rotate(180.0 84.0 159.7)" fill="#8db7b6" stroke="#55807f" stroke-width="3.3"/>
<ellipse cx="84.0" cy="159.7" rx="6.4" ry="3.2" transform="rotate(180.0 84.0 159.7)" fill="none" stroke="#b3dcda" stroke-width="2.4"/>
<ellipse cx="84.0" cy="164.4" rx="6.4" ry="3.2" transform="rotate(180.0 84.0 164.4)" fill="#8db7b6" stroke="#55807f" stroke-width="3.3"/>
<ellipse cx="84.0" cy="164.4" rx="6.4" ry="3.2" transform="rotate(180.0 84.0 164.4)" fill="none" stroke="#b3dcda" stroke-width="2.4"/>
<ellipse cx="84.0" cy="169.1" rx="6.4" ry="3.2" transform="rotate(180.0 84.0 169.1)" fill="#8db7b6" stroke="#55807f" stroke-width="3.3"/>
<ellipse cx="84.0" cy="169.1" rx="6.4" ry="3.2" transform="rotate(180.0 84.0 169.1)" fill="none" stroke="#b3dcda" stroke-width="2.4"/>
<ellipse cx="84.0" cy="173.9" rx="6.4" ry="3.2" transform="rotate(180.0 84.0 173.9)" fill="#8db7b6" stroke="#55807f" stroke-width="3.3"/>
<ellipse cx="84.0" cy="173.9" rx="6.4" ry="3.2" transform="rotate(180.0 84.0 173.9)" fill="none" stroke="#b3dcda" stroke-width="2.4"/>
<ellipse cx="84.0" cy="178.6" rx="6.4" ry="3.2" transform="rotate(180.0 84.0 178.6)" fill="#8db7b6" stroke="#55807f" stroke-width="3.3"/>
<ellipse cx="84.0" cy="178.6" rx="6.4" ry="3.2" transform="rotate(180.0 84.0 178.6)" fill="none" stroke="#b3dcda" stroke-width="2.4"/>
<ellipse cx="84.0" cy="183.3" rx="6.4" ry="3.2" transform="rotate(180.0 84.0 183.3)" fill="#8db7b6" stroke="#55807f" stroke-width="3.3"/>
<ellipse cx="84.0" cy="183.3" rx="6.4" ry="3.2" transform="rotate(180.0 84.0 183.3)" fill="none" stroke="#b3dcda" stroke-width="2.4"/>
<ellipse cx="84.0" cy="188.0" rx="6.4" ry="3.2" transform="rotate(180.0 84.0 188.0)" fill="#8db7b6" stroke="#55807f" stroke-width="3.3"/>
<ellipse cx="84.0" cy="188.0" rx="6.4" ry="3.2" transform="rotate(180.0 84.0 188.0)" fill="none" stroke="#b3dcda" stroke-width="2.4"/>
<ellipse cx="47.0" cy="164.0" rx="6.4" ry="3.2" transform="rotate(177.8 47.0 164.0)" fill="#8db7b6" stroke="#55807f" stroke-width="3.3"/>
<ellipse cx="47.0" cy="164.0" rx="6.4" ry="3.2" transform="rotate(177.8 47.0 164.0)" fill="none" stroke="#b3dcda" stroke-width="2.4"/>
<ellipse cx="47.2" cy="168.3" rx="6.4" ry="3.2" transform="rotate(177.8 47.2 168.3)" fill="#8db7b6" stroke="#55807f" stroke-width="3.3"/>
<ellipse cx="47.2" cy="168.3" rx="6.4" ry="3.2" transform="rotate(177.8 47.2 168.3)" fill="none" stroke="#b3dcda" stroke-width="2.4"/>
<ellipse cx="47.3" cy="172.7" rx="6.4" ry="3.2" transform="rotate(177.8 47.3 172.7)" fill="#8db7b6" stroke="#55807f" stroke-width="3.3"/>
<ellipse cx="47.3" cy="172.7" rx="6.4" ry="3.2" transform="rotate(177.8 47.3 172.7)" fill="none" stroke="#b3dcda" stroke-width="2.4"/>
<ellipse cx="47.5" cy="177.0" rx="6.4" ry="3.2" transform="rotate(177.8 47.5 177.0)" fill="#8db7b6" stroke="#55807f" stroke-width="3.3"/>
<ellipse cx="47.5" cy="177.0" rx="6.4" ry="3.2" transform="rotate(177.8 47.5 177.0)" fill="none" stroke="#b3dcda" stroke-width="2.4"/>
<ellipse cx="47.7" cy="181.3" rx="6.4" ry="3.2" transform="rotate(177.8 47.7 181.3)" fill="#8db7b6" stroke="#55807f" stroke-width="3.3"/>
<ellipse cx="47.7" cy="181.3" rx="6.4" ry="3.2" transform="rotate(177.8 47.7 181.3)" fill="none" stroke="#b3dcda" stroke-width="2.4"/>
<ellipse cx="47.8" cy="185.7" rx="6.4" ry="3.2" transform="rotate(177.8 47.8 185.7)" fill="#8db7b6" stroke="#55807f" stroke-width="3.3"/>
<ellipse cx="47.8" cy="185.7" rx="6.4" ry="3.2" transform="rotate(177.8 47.8 185.7)" fill="none" stroke="#b3dcda" stroke-width="2.4"/>
<ellipse cx="48.0" cy="190.0" rx="6.4" ry="3.2" transform="rotate(177.8 48.0 190.0)" fill="#8db7b6" stroke="#55807f" stroke-width="3.3"/>
<ellipse cx="48.0" cy="190.0" rx="6.4" ry="3.2" transform="rotate(177.8 48.0 190.0)" fill="none" stroke="#b3dcda" stroke-width="2.4"/>
<circle cx="61" cy="168" r="5.2" fill="none" stroke="#55807f" stroke-width="3.6"/><circle cx="61" cy="168" r="5.2" fill="none" stroke="#b3dcda" stroke-width="2.6"/>
<circle cx="71" cy="167" r="5.2" fill="none" stroke="#55807f" stroke-width="3.6"/><circle cx="71" cy="167" r="5.2" fill="none" stroke="#b3dcda" stroke-width="2.6"/>
<ellipse cx="52.0" cy="190.0" rx="4.0" ry="2.4" transform="rotate(180.0 52.0 190.0)" fill="#8db7b6" stroke="#55807f" stroke-width="3.3"/>
<ellipse cx="52.0" cy="190.0" rx="4.0" ry="2.4" transform="rotate(180.0 52.0 190.0)" fill="none" stroke="#b3dcda" stroke-width="2.4"/>
<ellipse cx="52.0" cy="194.8" rx="4.0" ry="2.4" transform="rotate(180.0 52.0 194.8)" fill="#8db7b6" stroke="#55807f" stroke-width="3.3"/>
<ellipse cx="52.0" cy="194.8" rx="4.0" ry="2.4" transform="rotate(180.0 52.0 194.8)" fill="none" stroke="#b3dcda" stroke-width="2.4"/>
<ellipse cx="52.0" cy="199.7" rx="4.0" ry="2.4" transform="rotate(180.0 52.0 199.7)" fill="#8db7b6" stroke="#55807f" stroke-width="3.3"/>
<ellipse cx="52.0" cy="199.7" rx="4.0" ry="2.4" transform="rotate(180.0 52.0 199.7)" fill="none" stroke="#b3dcda" stroke-width="2.4"/>
<ellipse cx="52.0" cy="204.5" rx="4.0" ry="2.4" transform="rotate(180.0 52.0 204.5)" fill="#8db7b6" stroke="#55807f" stroke-width="3.3"/>
<ellipse cx="52.0" cy="204.5" rx="4.0" ry="2.4" transform="rotate(180.0 52.0 204.5)" fill="none" stroke="#b3dcda" stroke-width="2.4"/>
<ellipse cx="52.0" cy="209.3" rx="4.0" ry="2.4" transform="rotate(180.0 52.0 209.3)" fill="#8db7b6" stroke="#55807f" stroke-width="3.3"/>
<ellipse cx="52.0" cy="209.3" rx="4.0" ry="2.4" transform="rotate(180.0 52.0 209.3)" fill="none" stroke="#b3dcda" stroke-width="2.4"/>
<ellipse cx="52.0" cy="214.2" rx="4.0" ry="2.4" transform="rotate(180.0 52.0 214.2)" fill="#8db7b6" stroke="#55807f" stroke-width="3.3"/>
<ellipse cx="52.0" cy="214.2" rx="4.0" ry="2.4" transform="rotate(180.0 52.0 214.2)" fill="none" stroke="#b3dcda" stroke-width="2.4"/>
<ellipse cx="52.0" cy="219.0" rx="4.0" ry="2.4" transform="rotate(180.0 52.0 219.0)" fill="#8db7b6" stroke="#55807f" stroke-width="3.3"/>
<ellipse cx="52.0" cy="219.0" rx="4.0" ry="2.4" transform="rotate(180.0 52.0 219.0)" fill="none" stroke="#b3dcda" stroke-width="2.4"/>
<ellipse cx="65.0" cy="193.0" rx="6.0" ry="3.6" transform="rotate(103.4 65.0 193.0)" fill="#8db7b6" stroke="#55807f" stroke-width="3.3"/>
<ellipse cx="65.0" cy="193.0" rx="6.0" ry="3.6" transform="rotate(103.4 65.0 193.0)" fill="none" stroke="#b3dcda" stroke-width="2.4"/>
<ellipse cx="70.2" cy="194.2" rx="6.0" ry="3.6" transform="rotate(103.4 70.2 194.2)" fill="#8db7b6" stroke="#55807f" stroke-width="3.3"/>
<ellipse cx="70.2" cy="194.2" rx="6.0" ry="3.6" transform="rotate(103.4 70.2 194.2)" fill="none" stroke="#b3dcda" stroke-width="2.4"/>
<ellipse cx="75.5" cy="195.5" rx="6.0" ry="3.6" transform="rotate(103.4 75.5 195.5)" fill="#8db7b6" stroke="#55807f" stroke-width="3.3"/>
<ellipse cx="75.5" cy="195.5" rx="6.0" ry="3.6" transform="rotate(103.4 75.5 195.5)" fill="none" stroke="#b3dcda" stroke-width="2.4"/>
<ellipse cx="80.8" cy="196.8" rx="6.0" ry="3.6" transform="rotate(103.4 80.8 196.8)" fill="#8db7b6" stroke="#55807f" stroke-width="3.3"/>
<ellipse cx="80.8" cy="196.8" rx="6.0" ry="3.6" transform="rotate(103.4 80.8 196.8)" fill="none" stroke="#b3dcda" stroke-width="2.4"/>
<ellipse cx="86.0" cy="198.0" rx="6.0" ry="3.6" transform="rotate(103.4 86.0 198.0)" fill="#8db7b6" stroke="#55807f" stroke-width="3.3"/>
<ellipse cx="86.0" cy="198.0" rx="6.0" ry="3.6" transform="rotate(103.4 86.0 198.0)" fill="none" stroke="#b3dcda" stroke-width="2.4"/>
<ellipse cx="60.0" cy="223.0" rx="6.0" ry="3.6" transform="rotate(67.4 60.0 223.0)" fill="#8db7b6" stroke="#55807f" stroke-width="3.3"/>
<ellipse cx="60.0" cy="223.0" rx="6.0" ry="3.6" transform="rotate(67.4 60.0 223.0)" fill="none" stroke="#b3dcda" stroke-width="2.4"/>
<ellipse cx="64.8" cy="221.0" rx="6.0" ry="3.6" transform="rotate(67.4 64.8 221.0)" fill="#8db7b6" stroke="#55807f" stroke-width="3.3"/>
<ellipse cx="64.8" cy="221.0" rx="6.0" ry="3.6" transform="rotate(67.4 64.8 221.0)" fill="none" stroke="#b3dcda" stroke-width="2.4"/>
<ellipse cx="69.6" cy="219.0" rx="6.0" ry="3.6" transform="rotate(67.4 69.6 219.0)" fill="#8db7b6" stroke="#55807f" stroke-width="3.3"/>
<ellipse cx="69.6" cy="219.0" rx="6.0" ry="3.6" transform="rotate(67.4 69.6 219.0)" fill="none" stroke="#b3dcda" stroke-width="2.4"/>
<ellipse cx="74.4" cy="217.0" rx="6.0" ry="3.6" transform="rotate(67.4 74.4 217.0)" fill="#8db7b6" stroke="#55807f" stroke-width="3.3"/>
<ellipse cx="74.4" cy="217.0" rx="6.0" ry="3.6" transform="rotate(67.4 74.4 217.0)" fill="none" stroke="#b3dcda" stroke-width="2.4"/>
<ellipse cx="79.2" cy="215.0" rx="6.0" ry="3.6" transform="rotate(67.4 79.2 215.0)" fill="#8db7b6" stroke="#55807f" stroke-width="3.3"/>
<ellipse cx="79.2" cy="215.0" rx="6.0" ry="3.6" transform="rotate(67.4 79.2 215.0)" fill="none" stroke="#b3dcda" stroke-width="2.4"/>
<ellipse cx="84.0" cy="213.0" rx="6.0" ry="3.6" transform="rotate(67.4 84.0 213.0)" fill="#8db7b6" stroke="#55807f" stroke-width="3.3"/>
<ellipse cx="84.0" cy="213.0" rx="6.0" ry="3.6" transform="rotate(67.4 84.0 213.0)" fill="none" stroke="#b3dcda" stroke-width="2.4"/>
<g stroke="#9ee098" stroke-width="1.3" fill="none" stroke-linejoin="round"><path d="M66,200 L64,194 L68,191"/><path d="M62,206 L57,203 L56,209"/><path d="M70,210 L74,214 L79,212"/></g>
<circle cx="66.3" cy="205.3" r="3.2" fill="#c87418"/>
<rect x="48.2" y="186.8" width="39.6" height="39.4" fill="none" stroke="#333" stroke-width="0.9"/>
<text x="194.3" y="8.7" font-size="9.6" text-anchor="middle" fill="#222">M150</text>
<text x="305.0" y="8.7" font-size="9.6" text-anchor="middle" fill="#222">M154</text>
<text x="140.0" y="72.5" font-size="9.6" text-anchor="middle" fill="#222" transform="rotate(-90 140.0 72.5)">CTR1</text>
<text x="140.0" y="208.5" font-size="9.6" text-anchor="middle" fill="#222" transform="rotate(-90 140.0 208.5)">CTR1 (M150L)</text>
<clipPath id="tri1"><path d="M188,20 C194,19 199,24 199,30 L203,36 C208,40 214,45 218,52 L226,58 C232,64 234,72 232,80 L240,88 C248,92 252,100 248,106 C242,110 232,108 226,106 L214,104 C206,104 200,100 194,102 L180,106 C170,108 160,104 152,108 C146,110 140,106 143,100 L146,92 C150,86 156,84 156,78 L158,64 C162,58 168,56 172,50 L178,40 C180,34 180,26 182,22 Z"/><circle cx="186" cy="24" r="4.5"/><circle cx="196" cy="30" r="4"/><circle cx="204" cy="40" r="4.5"/><circle cx="214" cy="50" r="4.5"/><circle cx="224" cy="60" r="4.5"/><circle cx="230" cy="72" r="4.5"/><circle cx="236" cy="86" r="4.5"/><circle cx="245" cy="96" r="5"/><circle cx="246" cy="104" r="4.5"/><circle cx="236" cy="105" r="4.5"/><circle cx="224" cy="104" r="4.5"/><circle cx="212" cy="102" r="4"/><circle cx="200" cy="100" r="4"/><circle cx="188" cy="104" r="4.5"/><circle cx="176" cy="105" r="4.5"/><circle cx="164" cy="104" r="4.5"/><circle cx="152" cy="105" r="5"/><circle cx="145" cy="100" r="4.5"/><circle cx="150" cy="90" r="4.5"/><circle cx="156" cy="80" r="4.5"/><circle cx="158" cy="68" r="4.5"/><circle cx="166" cy="56" r="4.5"/><circle cx="174" cy="46" r="4.5"/><circle cx="180" cy="34" r="4.5"/></clipPath>
<g fill="#f3f3f3"><path d="M188,20 C194,19 199,24 199,30 L203,36 C208,40 214,45 218,52 L226,58 C232,64 234,72 232,80 L240,88 C248,92 252,100 248,106 C242,110 232,108 226,106 L214,104 C206,104 200,100 194,102 L180,106 C170,108 160,104 152,108 C146,110 140,106 143,100 L146,92 C150,86 156,84 156,78 L158,64 C162,58 168,56 172,50 L178,40 C180,34 180,26 182,22 Z"/><circle cx="186" cy="24" r="4.5"/><circle cx="196" cy="30" r="4"/><circle cx="204" cy="40" r="4.5"/><circle cx="214" cy="50" r="4.5"/><circle cx="224" cy="60" r="4.5"/><circle cx="230" cy="72" r="4.5"/><circle cx="236" cy="86" r="4.5"/><circle cx="245" cy="96" r="5"/><circle cx="246" cy="104" r="4.5"/><circle cx="236" cy="105" r="4.5"/><circle cx="224" cy="104" r="4.5"/><circle cx="212" cy="102" r="4"/><circle cx="200" cy="100" r="4"/><circle cx="188" cy="104" r="4.5"/><circle cx="176" cy="105" r="4.5"/><circle cx="164" cy="104" r="4.5"/><circle cx="152" cy="105" r="5"/><circle cx="145" cy="100" r="4.5"/><circle cx="150" cy="90" r="4.5"/><circle cx="156" cy="80" r="4.5"/><circle cx="158" cy="68" r="4.5"/><circle cx="166" cy="56" r="4.5"/><circle cx="174" cy="46" r="4.5"/><circle cx="180" cy="34" r="4.5"/></g>
<g clip-path="url(#tri1)"><rect x="140" y="18" width="112" height="92" fill="url(#meshA)"/><rect x="140" y="18" width="112" height="92" fill="url(#meshB)"/>
<circle cx="195.3" cy="74.6" r="17" fill="url(#meshY)"/>
<circle cx="188" cy="26" r="6" fill="url(#meshBl)"/><circle cx="148" cy="102" r="6" fill="url(#meshBl)"/><circle cx="243" cy="101" r="6.5" fill="url(#meshBl)"/>
<circle cx="205" cy="38" r="6" fill="url(#meshR)"/><circle cx="162" cy="88" r="5" fill="url(#meshR)"/><circle cx="221" cy="98" r="5" fill="url(#meshR)"/>
</g>
<circle cx="195.3" cy="74.6" r="10" fill="#fff"/>
<g stroke="#3cb33c" stroke-width="3.0" fill="none" stroke-linecap="round" stroke-linejoin="round"><path d="M188,28 L190,36 L186,46 L189,54 L184,62"/><path d="M214,58 L218,62 L222,70"/><path d="M216,78 L222,86 L228,92 L236,100"/><path d="M152,96 L160,94 L168,93"/><path d="M178,92 L184,94"/><path d="M166,64 L172,66"/><path d="M200,92 L206,96 L210,100"/><path d="M168,68 L164,62 L170,56"/><path d="M214,52 L220,56"/><path d="M226,96 L232,100"/><path d="M156,98 L162,104"/></g>
<g stroke="#3cb33c" stroke-width="0.6" fill="none" opacity="0.9"><path d="M170,60 L176,70 L168,74 M210,52 L220,60 M224,80 L230,76 M160,98 L170,102 M180,40 L186,50 M196,30 L190,40"/></g>
<g stroke="#d8b22c" stroke-width="3.4" fill="none" stroke-linecap="round"><path d="M175,66 L182,64 L184,68"/><path d="M209,64 L213,68 L211,75"/><path d="M189,92 L195,95 L198,91"/></g>
<g stroke="#2b3bb8" stroke-width="1.4" fill="none"><path d="M184,23 L190,27 L194,24"/><path d="M145,100 L150,105 L155,102"/><path d="M239,99 L244,103 L247,106"/></g>
<clipPath id="tri2"><path d="M180,160 C186,156 196,158 198,166 L202,174 C206,180 208,188 206,196 L216,200 C224,198 230,198 232,204 L240,212 C246,218 250,226 248,234 C246,240 238,242 232,240 L222,238 C214,238 208,234 200,232 L190,236 C182,240 170,240 160,238 L150,238 C144,236 142,228 144,222 L148,214 C152,206 162,202 170,200 L178,198 C178,190 174,184 176,176 L176,168 C176,164 178,162 180,160 Z"/><circle cx="184" cy="162" r="4.5"/><circle cx="194" cy="166" r="4"/><circle cx="200" cy="176" r="4.5"/><circle cx="203" cy="188" r="4.5"/><circle cx="206" cy="196" r="4"/><circle cx="218" cy="201" r="4.5"/><circle cx="228" cy="203" r="4.5"/><circle cx="236" cy="212" r="4.5"/><circle cx="244" cy="222" r="5"/><circle cx="245" cy="233" r="4.5"/><circle cx="236" cy="238" r="4.5"/><circle cx="224" cy="237" r="4.5"/><circle cx="212" cy="236" r="4"/><circle cx="200" cy="231" r="4"/><circle cx="188" cy="236" r="4.5"/><circle cx="176" cy="238" r="4.5"/><circle cx="164" cy="237" r="4.5"/><circle cx="152" cy="236" r="4.5"/><circle cx="146" cy="228" r="4.5"/><circle cx="150" cy="216" r="4.5"/><circle cx="160" cy="207" r="4.5"/><circle cx="172" cy="202" r="4.5"/><circle cx="178" cy="192" r="4.5"/><circle cx="178" cy="180" r="4.5"/><circle cx="178" cy="168" r="4.5"/><circle cx="190" cy="212" r="6"/><circle cx="210" cy="214" r="6"/><circle cx="200" cy="200" r="6"/></clipPath>
<g fill="#f3f3f3"><path d="M180,160 C186,156 196,158 198,166 L202,174 C206,180 208,188 206,196 L216,200 C224,198 230,198 232,204 L240,212 C246,218 250,226 248,234 C246,240 238,242 232,240 L222,238 C214,238 208,234 200,232 L190,236 C182,240 170,240 160,238 L150,238 C144,236 142,228 144,222 L148,214 C152,206 162,202 170,200 L178,198 C178,190 174,184 176,176 L176,168 C176,164 178,162 180,160 Z"/><circle cx="184" cy="162" r="4.5"/><circle cx="194" cy="166" r="4"/><circle cx="200" cy="176" r="4.5"/><circle cx="203" cy="188" r="4.5"/><circle cx="206" cy="196" r="4"/><circle cx="218" cy="201" r="4.5"/><circle cx="228" cy="203" r="4.5"/><circle cx="236" cy="212" r="4.5"/><circle cx="244" cy="222" r="5"/><circle cx="245" cy="233" r="4.5"/><circle cx="236" cy="238" r="4.5"/><circle cx="224" cy="237" r="4.5"/><circle cx="212" cy="236" r="4"/><circle cx="200" cy="231" r="4"/><circle cx="188" cy="236" r="4.5"/><circle cx="176" cy="238" r="4.5"/><circle cx="164" cy="237" r="4.5"/><circle cx="152" cy="236" r="4.5"/><circle cx="146" cy="228" r="4.5"/><circle cx="150" cy="216" r="4.5"/><circle cx="160" cy="207" r="4.5"/><circle cx="172" cy="202" r="4.5"/><circle cx="178" cy="192" r="4.5"/><circle cx="178" cy="180" r="4.5"/><circle cx="178" cy="168" r="4.5"/><circle cx="190" cy="212" r="6"/><circle cx="210" cy="214" r="6"/><circle cx="200" cy="200" r="6"/></g>
<g clip-path="url(#tri2)"><rect x="140" y="155" width="112" height="90" fill="url(#meshA)"/><rect x="140" y="155" width="112" height="90" fill="url(#meshB)"/>
<circle cx="187" cy="163" r="6" fill="url(#meshBl)"/><circle cx="146" cy="232" r="6" fill="url(#meshBl)"/><circle cx="244" cy="236" r="6" fill="url(#meshBl)"/>
<circle cx="196" cy="178" r="5" fill="url(#meshR)"/><circle cx="150" cy="220" r="5" fill="url(#meshR)"/><circle cx="220" cy="238" r="5" fill="url(#meshR)"/>
</g>
<g stroke="#e4d81c" stroke-width="2.0" fill="none" stroke-linecap="round" stroke-linejoin="round"><path d="M189,168 L193,176 L187,184 L192,192 L190,200"/><path d="M171,206 L177,214 L173,222 L163,225 L155,229"/><path d="M219,208 L225,216 L221,224 L229,230 L239,233"/><path d="M190,204 L196,210"/><path d="M168,214 L162,216"/><path d="M228,222 L234,220"/></g>
<g stroke="#e4d81c" stroke-width="0.6" fill="none"><path d="M184,180 L196,186 M176,212 L166,206 M214,220 L226,212 M160,230 L150,226 M232,226 L240,230"/></g>
<g stroke="#2b3bb8" stroke-width="1.4" fill="none"><path d="M184,161 L190,165 L194,162"/><path d="M143,229 L148,234 L153,231"/><path d="M240,234 L245,238 L248,240"/></g>
<clipPath id="m154clip19"><rect x="253" y="19.7" width="104" height="104"/></clipPath>
<g clip-path="url(#m154clip19)">
<path d="M266,22.7 C274,13.7 284,23.7 276,34.7" stroke="#46706f" stroke-width="5.5" fill="none"/><path d="M266,22.7 C274,13.7 284,23.7 276,34.7" stroke="#98bcbb" stroke-width="4" fill="none"/>
<path d="M250.6,17.4 Q259.1,22.0 267.7,28.6" stroke="#46706f" stroke-width="9.10" fill="none" stroke-linecap="round"/>
<path d="M250.6,17.4 Q259.1,22.0 267.7,28.6" stroke="#5c8686" stroke-width="7.50" fill="none" stroke-linecap="round"/>
<path d="M250.8,36.4 Q259.3,41.0 267.9,47.6" stroke="#46706f" stroke-width="9.10" fill="none" stroke-linecap="round"/>
<path d="M250.8,36.4 Q259.3,41.0 267.9,47.6" stroke="#5c8686" stroke-width="7.50" fill="none" stroke-linecap="round"/>
<path d="M250.9,55.4 Q259.5,60.0 268.1,66.6" stroke="#46706f" stroke-width="9.10" fill="none" stroke-linecap="round"/>
<path d="M250.9,55.4 Q259.5,60.0 268.1,66.6" stroke="#5c8686" stroke-width="7.50" fill="none" stroke-linecap="round"/>
<path d="M251.1,74.4 Q259.7,79.0 268.2,85.6" stroke="#46706f" stroke-width="9.10" fill="none" stroke-linecap="round"/>
<path d="M251.1,74.4 Q259.7,79.0 268.2,85.6" stroke="#5c8686" stroke-width="7.50" fill="none" stroke-linecap="round"/>
<path d="M251.3,93.4 Q259.9,98.0 268.4,104.6" stroke="#46706f" stroke-width="9.10" fill="none" stroke-linecap="round"/>
<path d="M251.3,93.4 Q259.9,98.0 268.4,104.6" stroke="#5c8686" stroke-width="7.50" fill="none" stroke-linecap="round"/>
<path d="M267.5,9.6 Q258.2,16.9 250.6,17.4" stroke="#46706f" stroke-width="11.60" fill="none" stroke-linecap="round"/>
<path d="M267.5,9.6 Q258.2,16.9 250.6,17.4" stroke="#b7dedc" stroke-width="10.00" fill="none" stroke-linecap="round"/>
<path d="M267.7,28.6 Q258.4,35.9 250.8,36.4" stroke="#46706f" stroke-width="11.60" fill="none" stroke-linecap="round"/>
<path d="M267.7,28.6 Q258.4,35.9 250.8,36.4" stroke="#b7dedc" stroke-width="10.00" fill="none" stroke-linecap="round"/>
<path d="M267.9,47.6 Q258.6,54.9 250.9,55.4" stroke="#46706f" stroke-width="11.60" fill="none" stroke-linecap="round"/>
<path d="M267.9,47.6 Q258.6,54.9 250.9,55.4" stroke="#b7dedc" stroke-width="10.00" fill="none" stroke-linecap="round"/>
<path d="M268.1,66.6 Q258.8,73.9 251.1,74.4" stroke="#46706f" stroke-width="11.60" fill="none" stroke-linecap="round"/>
<path d="M268.1,66.6 Q258.8,73.9 251.1,74.4" stroke="#b7dedc" stroke-width="10.00" fill="none" stroke-linecap="round"/>
<path d="M268.2,85.6 Q259.0,92.9 251.3,93.4" stroke="#46706f" stroke-width="11.60" fill="none" stroke-linecap="round"/>
<path d="M268.2,85.6 Q259.0,92.9 251.3,93.4" stroke="#b7dedc" stroke-width="10.00" fill="none" stroke-linecap="round"/>
<path d="M268.4,104.6 Q259.1,111.6 251.5,111.8" stroke="#46706f" stroke-width="11.60" fill="none" stroke-linecap="round"/>
<path d="M268.4,104.6 Q259.1,111.6 251.5,111.8" stroke="#b7dedc" stroke-width="10.00" fill="none" stroke-linecap="round"/>
<ellipse cx="268" cy="100.7" rx="5" ry="6.5" fill="#3c4068"/>
<ellipse cx="309" cy="20.7" rx="12" ry="9" fill="#6f9998"/>
<ellipse cx="311" cy="18.7" rx="8.5" ry="6" fill="#9cc3c2"/>
<ellipse cx="301.5" cy="26.7" rx="4.8" ry="4.3" fill="#3c4068"/>
<path d="M324.7,20.7 Q339.2,21.2 354.1,23.1" stroke="#46706f" stroke-width="8.35" fill="none" stroke-linecap="round"/>
<path d="M324.7,20.7 Q339.2,21.2 354.1,23.1" stroke="#5d8786" stroke-width="6.75" fill="none" stroke-linecap="round"/>
<path d="M328.2,35.3 Q342.7,35.8 357.5,37.7" stroke="#46706f" stroke-width="8.35" fill="none" stroke-linecap="round"/>
<path d="M328.2,35.3 Q342.7,35.8 357.5,37.7" stroke="#5d8786" stroke-width="6.75" fill="none" stroke-linecap="round"/>
<path d="M350.6,8.5 Q336.9,17.6 324.7,20.7" stroke="#46706f" stroke-width="10.60" fill="none" stroke-linecap="round"/>
<path d="M350.6,8.5 Q336.9,17.6 324.7,20.7" stroke="#a9d2d0" stroke-width="9.00" fill="none" stroke-linecap="round"/>
<path d="M354.1,23.1 Q340.4,32.2 328.2,35.3" stroke="#46706f" stroke-width="10.60" fill="none" stroke-linecap="round"/>
<path d="M354.1,23.1 Q340.4,32.2 328.2,35.3" stroke="#a9d2d0" stroke-width="9.00" fill="none" stroke-linecap="round"/>
<path d="M357.5,37.7 Q343.7,46.3 331.4,48.9" stroke="#46706f" stroke-width="10.60" fill="none" stroke-linecap="round"/>
<path d="M357.5,37.7 Q343.7,46.3 331.4,48.9" stroke="#a9d2d0" stroke-width="9.00" fill="none" stroke-linecap="round"/>
<path d="M348.0,48.5 Q354.0,51.5 360.0,55.7" stroke="#46706f" stroke-width="6.85" fill="none" stroke-linecap="round"/>
<path d="M348.0,48.5 Q354.0,51.5 360.0,55.7" stroke="#5d8786" stroke-width="5.25" fill="none" stroke-linecap="round"/>
<path d="M348.0,60.5 Q354.0,62.5 360.0,65.7" stroke="#46706f" stroke-width="6.85" fill="none" stroke-linecap="round"/>
<path d="M348.0,60.5 Q354.0,62.5 360.0,65.7" stroke="#5d8786" stroke-width="5.25" fill="none" stroke-linecap="round"/>
<path d="M360.0,43.7 Q353.4,48.3 348.0,48.5" stroke="#46706f" stroke-width="8.60" fill="none" stroke-linecap="round"/>
<path d="M360.0,43.7 Q353.4,48.3 348.0,48.5" stroke="#a9d2d0" stroke-width="7.00" fill="none" stroke-linecap="round"/>
<path d="M360.0,55.7 Q353.4,60.3 348.0,60.5" stroke="#46706f" stroke-width="8.60" fill="none" stroke-linecap="round"/>
<path d="M360.0,55.7 Q353.4,60.3 348.0,60.5" stroke="#a9d2d0" stroke-width="7.00" fill="none" stroke-linecap="round"/>
<path d="M286.0,127.5 Q288.8,118.7 293.1,109.7" stroke="#46706f" stroke-width="8.35" fill="none" stroke-linecap="round"/>
<path d="M286.0,127.5 Q288.8,118.7 293.1,109.7" stroke="#5a8483" stroke-width="6.75" fill="none" stroke-linecap="round"/>
<path d="M301.9,126.0 Q304.7,117.2 309.0,108.2" stroke="#46706f" stroke-width="8.35" fill="none" stroke-linecap="round"/>
<path d="M301.9,126.0 Q304.7,117.2 309.0,108.2" stroke="#5a8483" stroke-width="6.75" fill="none" stroke-linecap="round"/>
<path d="M317.8,124.4 Q320.6,115.6 325.0,106.7" stroke="#46706f" stroke-width="8.35" fill="none" stroke-linecap="round"/>
<path d="M317.8,124.4 Q320.6,115.6 325.0,106.7" stroke="#5a8483" stroke-width="6.75" fill="none" stroke-linecap="round"/>
<path d="M333.8,122.9 Q336.5,114.1 340.9,105.2" stroke="#46706f" stroke-width="8.35" fill="none" stroke-linecap="round"/>
<path d="M333.8,122.9 Q336.5,114.1 340.9,105.2" stroke="#5a8483" stroke-width="6.75" fill="none" stroke-linecap="round"/>
<path d="M349.7,121.4 Q352.5,112.6 356.8,103.7" stroke="#46706f" stroke-width="8.35" fill="none" stroke-linecap="round"/>
<path d="M349.7,121.4 Q352.5,112.6 356.8,103.7" stroke="#5a8483" stroke-width="6.75" fill="none" stroke-linecap="round"/>
<path d="M277.2,111.2 Q284.5,119.9 286.0,127.5" stroke="#46706f" stroke-width="10.60" fill="none" stroke-linecap="round"/>
<path d="M277.2,111.2 Q284.5,119.9 286.0,127.5" stroke="#a6cfcd" stroke-width="9.00" fill="none" stroke-linecap="round"/>
<path d="M293.1,109.7 Q300.5,118.4 301.9,126.0" stroke="#46706f" stroke-width="10.60" fill="none" stroke-linecap="round"/>
<path d="M293.1,109.7 Q300.5,118.4 301.9,126.0" stroke="#a6cfcd" stroke-width="9.00" fill="none" stroke-linecap="round"/>
<path d="M309.0,108.2 Q316.4,116.9 317.8,124.4" stroke="#46706f" stroke-width="10.60" fill="none" stroke-linecap="round"/>
<path d="M309.0,108.2 Q316.4,116.9 317.8,124.4" stroke="#a6cfcd" stroke-width="9.00" fill="none" stroke-linecap="round"/>
<path d="M325.0,106.7 Q332.3,115.4 333.8,122.9" stroke="#46706f" stroke-width="10.60" fill="none" stroke-linecap="round"/>
<path d="M325.0,106.7 Q332.3,115.4 333.8,122.9" stroke="#a6cfcd" stroke-width="9.00" fill="none" stroke-linecap="round"/>
<path d="M340.9,105.2 Q348.2,113.9 349.7,121.4" stroke="#46706f" stroke-width="10.60" fill="none" stroke-linecap="round"/>
<path d="M340.9,105.2 Q348.2,113.9 349.7,121.4" stroke="#a6cfcd" stroke-width="9.00" fill="none" stroke-linecap="round"/>
<path d="M356.8,103.7 Q362.8,112.5 362.8,120.2" stroke="#46706f" stroke-width="10.60" fill="none" stroke-linecap="round"/>
<path d="M356.8,103.7 Q362.8,112.5 362.8,120.2" stroke="#a6cfcd" stroke-width="9.00" fill="none" stroke-linecap="round"/>
<path d="M340.5,95.7 Q349.0,99.5 357.5,104.7" stroke="#46706f" stroke-width="7.97" fill="none" stroke-linecap="round"/>
<path d="M340.5,95.7 Q349.0,99.5 357.5,104.7" stroke="#5c8686" stroke-width="6.38" fill="none" stroke-linecap="round"/>
<path d="M340.5,110.7 Q349.0,113.5 357.5,117.7" stroke="#46706f" stroke-width="7.97" fill="none" stroke-linecap="round"/>
<path d="M340.5,110.7 Q349.0,113.5 357.5,117.7" stroke="#5c8686" stroke-width="6.38" fill="none" stroke-linecap="round"/>
<path d="M357.5,89.7 Q348.1,95.4 340.5,95.7" stroke="#46706f" stroke-width="10.10" fill="none" stroke-linecap="round"/>
<path d="M357.5,89.7 Q348.1,95.4 340.5,95.7" stroke="#b7dedc" stroke-width="8.50" fill="none" stroke-linecap="round"/>
<path d="M357.5,104.7 Q348.1,110.4 340.5,110.7" stroke="#46706f" stroke-width="10.10" fill="none" stroke-linecap="round"/>
<path d="M357.5,104.7 Q348.1,110.4 340.5,110.7" stroke="#b7dedc" stroke-width="8.50" fill="none" stroke-linecap="round"/>
<circle cx="350" cy="91.7" r="6.3" fill="#3c4068"/>
</g>
<g stroke="#7cc47a" stroke-width="3.3" fill="none" stroke-linecap="round" stroke-linejoin="round"><path d="M303.4,29.8 L310,36.7 L308,45.8 L314.8,55"/><path d="M319,57.5 L330.2,54.3"/><path d="M268.5,94 L270,85.3 L280.5,81.2 L283.7,76"/><path d="M341.5,93 L332,93 L325.5,88.5 L318,89"/><path d="M309.4,94 L307,104.5"/><path d="M285,62 L277,56"/></g>
<g stroke="#a8e2a2" stroke-width="2.3" fill="none" stroke-linecap="round" stroke-linejoin="round"><path d="M303.4,29.8 L310,36.7 L308,45.8 L314.8,55"/><path d="M319,57.5 L330.2,54.3"/><path d="M268.5,94 L270,85.3 L280.5,81.2 L283.7,76"/><path d="M341.5,93 L332,93 L325.5,88.5 L318,89"/><path d="M309.4,94 L307,104.5"/><path d="M285,62 L277,56"/></g>
<g stroke="#cdb877" stroke-width="3.3" fill="none" stroke-linecap="round" stroke-linejoin="round"><path d="M314.8,55 L317,58.5 L319,57.5"/><path d="M283.7,76 L286,70 L287,64 L285,62"/><path d="M318,89 L310,90 L309.4,94"/></g>
<g stroke="#efdca4" stroke-width="2.3" fill="none" stroke-linecap="round" stroke-linejoin="round"><path d="M314.8,55 L317,58.5 L319,57.5"/><path d="M283.7,76 L286,70 L287,64 L285,62"/><path d="M318,89 L310,90 L309.4,94"/></g>
<circle cx="304.5" cy="72.2" r="12.3" fill="url(#cu)"/>
<text x="304.5" y="75.6" font-size="9.4" text-anchor="middle" fill="#2a1a06">Cu(I)</text>
<text x="289.5" y="64.5" font-size="9.4" text-anchor="middle" fill="#222">2.4</text>
<text x="323.2" y="70.2" font-size="9.4" text-anchor="middle" fill="#222">2.4</text>
<text x="301.0" y="93.2" font-size="9.4" text-anchor="middle" fill="#222">2.4</text>
<clipPath id="m154clip147"><rect x="253" y="147.5" width="104" height="104"/></clipPath>
<g clip-path="url(#m154clip147)">
<path d="M262,149.5 C270,143.5 286,149.5 282,160.5" stroke="#46706f" stroke-width="6" fill="none"/><path d="M262,149.5 C270,143.5 286,149.5 282,160.5" stroke="#98bcbb" stroke-width="4.5" fill="none"/>
<path d="M251.5,159.1 Q260.0,163.8 268.5,170.5" stroke="#46706f" stroke-width="9.10" fill="none" stroke-linecap="round"/>
<path d="M251.5,159.1 Q260.0,163.8 268.5,170.5" stroke="#5c8686" stroke-width="7.50" fill="none" stroke-linecap="round"/>
<path d="M251.5,178.1 Q260.0,182.8 268.5,189.5" stroke="#46706f" stroke-width="9.10" fill="none" stroke-linecap="round"/>
<path d="M251.5,178.1 Q260.0,182.8 268.5,189.5" stroke="#5c8686" stroke-width="7.50" fill="none" stroke-linecap="round"/>
<path d="M251.5,197.1 Q260.0,201.8 268.5,208.5" stroke="#46706f" stroke-width="9.10" fill="none" stroke-linecap="round"/>
<path d="M251.5,197.1 Q260.0,201.8 268.5,208.5" stroke="#5c8686" stroke-width="7.50" fill="none" stroke-linecap="round"/>
<path d="M251.5,216.1 Q260.0,220.8 268.5,227.5" stroke="#46706f" stroke-width="9.10" fill="none" stroke-linecap="round"/>
<path d="M251.5,216.1 Q260.0,220.8 268.5,227.5" stroke="#5c8686" stroke-width="7.50" fill="none" stroke-linecap="round"/>
<path d="M251.5,235.1 Q260.0,239.8 268.5,246.5" stroke="#46706f" stroke-width="9.10" fill="none" stroke-linecap="round"/>
<path d="M251.5,235.1 Q260.0,239.8 268.5,246.5" stroke="#5c8686" stroke-width="7.50" fill="none" stroke-linecap="round"/>
<path d="M268.5,151.5 Q259.1,158.7 251.5,159.1" stroke="#46706f" stroke-width="11.60" fill="none" stroke-linecap="round"/>
<path d="M268.5,151.5 Q259.1,158.7 251.5,159.1" stroke="#b7dedc" stroke-width="10.00" fill="none" stroke-linecap="round"/>
<path d="M268.5,170.5 Q259.1,177.7 251.5,178.1" stroke="#46706f" stroke-width="11.60" fill="none" stroke-linecap="round"/>
<path d="M268.5,170.5 Q259.1,177.7 251.5,178.1" stroke="#b7dedc" stroke-width="10.00" fill="none" stroke-linecap="round"/>
<path d="M268.5,189.5 Q259.1,196.7 251.5,197.1" stroke="#46706f" stroke-width="11.60" fill="none" stroke-linecap="round"/>
<path d="M268.5,189.5 Q259.1,196.7 251.5,197.1" stroke="#b7dedc" stroke-width="10.00" fill="none" stroke-linecap="round"/>
<path d="M268.5,208.5 Q259.1,215.7 251.5,216.1" stroke="#46706f" stroke-width="11.60" fill="none" stroke-linecap="round"/>
<path d="M268.5,208.5 Q259.1,215.7 251.5,216.1" stroke="#b7dedc" stroke-width="10.00" fill="none" stroke-linecap="round"/>
<path d="M268.5,227.5 Q259.1,234.7 251.5,235.1" stroke="#46706f" stroke-width="11.60" fill="none" stroke-linecap="round"/>
<path d="M268.5,227.5 Q259.1,234.7 251.5,235.1" stroke="#b7dedc" stroke-width="10.00" fill="none" stroke-linecap="round"/>
<path d="M268.5,246.5 Q259.1,252.4 251.5,251.5" stroke="#46706f" stroke-width="11.60" fill="none" stroke-linecap="round"/>
<path d="M268.5,246.5 Q259.1,252.4 251.5,251.5" stroke="#b7dedc" stroke-width="10.00" fill="none" stroke-linecap="round"/>
<circle cx="269" cy="221.5" r="6" fill="#3c4068"/>
<ellipse cx="309" cy="148.5" rx="12" ry="7.5" fill="#6f9998"/>
<ellipse cx="311" cy="146.5" rx="8.5" ry="5" fill="#9cc3c2"/>
<ellipse cx="301" cy="151.5" rx="5" ry="4.5" fill="#3c4068"/>
<path d="M323.7,147.7 Q339.0,150.5 354.5,155.0" stroke="#46706f" stroke-width="8.72" fill="none" stroke-linecap="round"/>
<path d="M323.7,147.7 Q339.0,150.5 354.5,155.0" stroke="#5d8786" stroke-width="7.12" fill="none" stroke-linecap="round"/>
<path d="M325.3,164.6 Q340.6,167.4 356.1,172.0" stroke="#46706f" stroke-width="8.72" fill="none" stroke-linecap="round"/>
<path d="M325.3,164.6 Q340.6,167.4 356.1,172.0" stroke="#5d8786" stroke-width="7.12" fill="none" stroke-linecap="round"/>
<path d="M326.8,181.5 Q342.2,184.4 357.6,188.9" stroke="#46706f" stroke-width="8.72" fill="none" stroke-linecap="round"/>
<path d="M326.8,181.5 Q342.2,184.4 357.6,188.9" stroke="#5d8786" stroke-width="7.12" fill="none" stroke-linecap="round"/>
<path d="M352.9,138.1 Q337.1,146.1 323.7,147.7" stroke="#46706f" stroke-width="11.10" fill="none" stroke-linecap="round"/>
<path d="M352.9,138.1 Q337.1,146.1 323.7,147.7" stroke="#a9d2d0" stroke-width="9.50" fill="none" stroke-linecap="round"/>
<path d="M354.5,155.0 Q338.7,163.0 325.3,164.6" stroke="#46706f" stroke-width="11.10" fill="none" stroke-linecap="round"/>
<path d="M354.5,155.0 Q338.7,163.0 325.3,164.6" stroke="#a9d2d0" stroke-width="9.50" fill="none" stroke-linecap="round"/>
<path d="M356.1,172.0 Q340.2,179.9 326.8,181.5" stroke="#46706f" stroke-width="11.10" fill="none" stroke-linecap="round"/>
<path d="M356.1,172.0 Q340.2,179.9 326.8,181.5" stroke="#a9d2d0" stroke-width="9.50" fill="none" stroke-linecap="round"/>
<path d="M357.6,188.9 Q341.6,195.1 328.1,194.9" stroke="#46706f" stroke-width="11.10" fill="none" stroke-linecap="round"/>
<path d="M357.6,188.9 Q341.6,195.1 328.1,194.9" stroke="#a9d2d0" stroke-width="9.50" fill="none" stroke-linecap="round"/>
<path d="M287.7,253.5 Q290.8,244.8 295.5,236.0" stroke="#46706f" stroke-width="8.35" fill="none" stroke-linecap="round"/>
<path d="M287.7,253.5 Q290.8,244.8 295.5,236.0" stroke="#5a8483" stroke-width="6.75" fill="none" stroke-linecap="round"/>
<path d="M303.7,252.6 Q306.8,243.9 311.4,235.1" stroke="#46706f" stroke-width="8.35" fill="none" stroke-linecap="round"/>
<path d="M303.7,252.6 Q306.8,243.9 311.4,235.1" stroke="#5a8483" stroke-width="6.75" fill="none" stroke-linecap="round"/>
<path d="M319.6,251.6 Q322.7,242.9 327.4,234.1" stroke="#46706f" stroke-width="8.35" fill="none" stroke-linecap="round"/>
<path d="M319.6,251.6 Q322.7,242.9 327.4,234.1" stroke="#5a8483" stroke-width="6.75" fill="none" stroke-linecap="round"/>
<path d="M335.6,250.6 Q338.7,241.9 343.4,233.1" stroke="#46706f" stroke-width="8.35" fill="none" stroke-linecap="round"/>
<path d="M335.6,250.6 Q338.7,241.9 343.4,233.1" stroke="#5a8483" stroke-width="6.75" fill="none" stroke-linecap="round"/>
<path d="M351.6,249.7 Q354.7,240.9 359.3,232.1" stroke="#46706f" stroke-width="8.35" fill="none" stroke-linecap="round"/>
<path d="M351.6,249.7 Q354.7,240.9 359.3,232.1" stroke="#5a8483" stroke-width="6.75" fill="none" stroke-linecap="round"/>
<path d="M279.5,237.0 Q286.5,246.0 287.7,253.5" stroke="#46706f" stroke-width="10.60" fill="none" stroke-linecap="round"/>
<path d="M279.5,237.0 Q286.5,246.0 287.7,253.5" stroke="#a6cfcd" stroke-width="9.00" fill="none" stroke-linecap="round"/>
<path d="M295.5,236.0 Q302.5,245.0 303.7,252.6" stroke="#46706f" stroke-width="10.60" fill="none" stroke-linecap="round"/>
<path d="M295.5,236.0 Q302.5,245.0 303.7,252.6" stroke="#a6cfcd" stroke-width="9.00" fill="none" stroke-linecap="round"/>
<path d="M311.4,235.1 Q318.5,244.0 319.6,251.6" stroke="#46706f" stroke-width="10.60" fill="none" stroke-linecap="round"/>
<path d="M311.4,235.1 Q318.5,244.0 319.6,251.6" stroke="#a6cfcd" stroke-width="9.00" fill="none" stroke-linecap="round"/>
<path d="M327.4,234.1 Q334.4,243.0 335.6,250.6" stroke="#46706f" stroke-width="10.60" fill="none" stroke-linecap="round"/>
<path d="M327.4,234.1 Q334.4,243.0 335.6,250.6" stroke="#a6cfcd" stroke-width="9.00" fill="none" stroke-linecap="round"/>
<path d="M343.4,233.1 Q350.4,242.1 351.6,249.7" stroke="#46706f" stroke-width="10.60" fill="none" stroke-linecap="round"/>
<path d="M343.4,233.1 Q350.4,242.1 351.6,249.7" stroke="#a6cfcd" stroke-width="9.00" fill="none" stroke-linecap="round"/>
<path d="M359.3,232.1 Q363.9,241.2 362.5,249.0" stroke="#46706f" stroke-width="10.60" fill="none" stroke-linecap="round"/>
<path d="M359.3,232.1 Q363.9,241.2 362.5,249.0" stroke="#a6cfcd" stroke-width="9.00" fill="none" stroke-linecap="round"/>
<path d="M340.5,223.5 Q349.0,227.2 357.5,232.5" stroke="#46706f" stroke-width="7.97" fill="none" stroke-linecap="round"/>
<path d="M340.5,223.5 Q349.0,227.2 357.5,232.5" stroke="#5c8686" stroke-width="6.38" fill="none" stroke-linecap="round"/>
<path d="M340.5,238.5 Q349.0,239.2 357.5,241.5" stroke="#46706f" stroke-width="7.97" fill="none" stroke-linecap="round"/>
<path d="M340.5,238.5 Q349.0,239.2 357.5,241.5" stroke="#5c8686" stroke-width="6.38" fill="none" stroke-linecap="round"/>
<path d="M357.5,217.5 Q348.1,223.2 340.5,223.5" stroke="#46706f" stroke-width="10.10" fill="none" stroke-linecap="round"/>
<path d="M357.5,217.5 Q348.1,223.2 340.5,223.5" stroke="#b7dedc" stroke-width="8.50" fill="none" stroke-linecap="round"/>
<path d="M357.5,232.5 Q348.1,238.2 340.5,238.5" stroke="#46706f" stroke-width="10.10" fill="none" stroke-linecap="round"/>
<path d="M357.5,232.5 Q348.1,238.2 340.5,238.5" stroke="#b7dedc" stroke-width="8.50" fill="none" stroke-linecap="round"/>
<circle cx="350" cy="219.5" r="6.3" fill="#3c4068"/>
</g>
<g stroke="#7cc47a" stroke-width="3.3" fill="none" stroke-linecap="round" stroke-linejoin="round"><path d="M305.9,153.7 L313.4,159 L312.3,166.6 L303.7,172"/><path d="M297.3,184.9 L300.5,187"/><path d="M268.3,217 L270.4,209.6 L282.2,207.4 L288.7,211.7"/><path d="M342.4,222.5 L333.8,223.6 L327.3,216 L325.2,207.4"/></g>
<g stroke="#a8e2a2" stroke-width="2.3" fill="none" stroke-linecap="round" stroke-linejoin="round"><path d="M305.9,153.7 L313.4,159 L312.3,166.6 L303.7,172"/><path d="M297.3,184.9 L300.5,187"/><path d="M268.3,217 L270.4,209.6 L282.2,207.4 L288.7,211.7"/><path d="M342.4,222.5 L333.8,223.6 L327.3,216 L325.2,207.4"/></g>
<g stroke="#cdb877" stroke-width="3.3" fill="none" stroke-linecap="round" stroke-linejoin="round"><path d="M303.7,172 L293,175.2 L291.9,178.4 L297.3,184.9"/><path d="M288.7,211.7 L293,216 L299.4,218.2"/><path d="M325.2,207.4 L330.6,198.9 L328.4,196.7 L324,199.3"/></g>
<g stroke="#efdca4" stroke-width="2.3" fill="none" stroke-linecap="round" stroke-linejoin="round"><path d="M303.7,172 L293,175.2 L291.9,178.4 L297.3,184.9"/><path d="M288.7,211.7 L293,216 L299.4,218.2"/><path d="M325.2,207.4 L330.6,198.9 L328.4,196.7 L324,199.3"/></g>
<circle cx="305.3" cy="197.8" r="12.2" fill="url(#cu)"/>
<text x="305.3" y="201.2" font-size="9.4" text-anchor="middle" fill="#2a1a06">Cu(I)</text>
<text x="307.2" y="183.6" font-size="9.4" text-anchor="middle" fill="#222">2.6</text>
<text x="288.8" y="213.6" font-size="9.4" text-anchor="middle" fill="#222">2.9</text>
<text x="322.6" y="209.6" font-size="9.4" text-anchor="middle" fill="#222">2.7</text>
<rect x="556.2" y="5.0" width="128.1" height="224.5" fill="#f3d4d6"/>
<line x1="440.1" y1="5.0" x2="440.1" y2="229.5" stroke="#b8b8b8" stroke-width="0.8"/>
<line x1="478.8" y1="5.0" x2="478.8" y2="229.5" stroke="#b8b8b8" stroke-width="0.8"/>
<line x1="517.5" y1="5.0" x2="517.5" y2="229.5" stroke="#b8b8b8" stroke-width="0.8"/>
<line x1="556.2" y1="5.0" x2="556.2" y2="229.5" stroke="#b8b8b8" stroke-width="0.8"/>
<line x1="594.9" y1="5.0" x2="594.9" y2="229.5" stroke="#b8b8b8" stroke-width="0.8"/>
<line x1="633.6" y1="5.0" x2="633.6" y2="229.5" stroke="#b8b8b8" stroke-width="0.8"/>
<line x1="672.3" y1="5.0" x2="672.3" y2="229.5" stroke="#b8b8b8" stroke-width="0.8"/>
<line x1="408.5" y1="213.4" x2="684.3" y2="213.4" stroke="#b8b8b8" stroke-width="0.8"/>
<line x1="408.5" y1="170.4" x2="684.3" y2="170.4" stroke="#b8b8b8" stroke-width="0.8"/>
<line x1="408.5" y1="127.4" x2="684.3" y2="127.4" stroke="#b8b8b8" stroke-width="0.8"/>
<line x1="408.5" y1="84.4" x2="684.3" y2="84.4" stroke="#b8b8b8" stroke-width="0.8"/>
<line x1="408.5" y1="41.4" x2="684.3" y2="41.4" stroke="#b8b8b8" stroke-width="0.8"/>
<g stroke="#1f77b4" stroke-opacity="0.7" stroke-width="1"><line x1="420.8" y1="126.8" x2="420.8" y2="219.2"/><line x1="418.1" y1="126.8" x2="423.4" y2="126.8"/><line x1="418.1" y1="219.2" x2="423.4" y2="219.2"/></g>
<g stroke="#1f77b4" stroke-opacity="0.7" stroke-width="1"><line x1="440.1" y1="91.5" x2="440.1" y2="188.2"/><line x1="437.5" y1="91.5" x2="442.7" y2="91.5"/><line x1="437.5" y1="188.2" x2="442.7" y2="188.2"/></g>
<g stroke="#1f77b4" stroke-opacity="0.7" stroke-width="1"><line x1="459.4" y1="68.9" x2="459.4" y2="167.8"/><line x1="456.8" y1="68.9" x2="462.1" y2="68.9"/><line x1="456.8" y1="167.8" x2="462.1" y2="167.8"/></g>
<g stroke="#1f77b4" stroke-opacity="0.7" stroke-width="1"><line x1="478.8" y1="44.6" x2="478.8" y2="145.7"/><line x1="476.2" y1="44.6" x2="481.4" y2="44.6"/><line x1="476.2" y1="145.7" x2="481.4" y2="145.7"/></g>
<g stroke="#1f77b4" stroke-opacity="0.7" stroke-width="1"><line x1="498.1" y1="28.5" x2="498.1" y2="128.7"/><line x1="495.5" y1="28.5" x2="500.8" y2="28.5"/><line x1="495.5" y1="128.7" x2="500.8" y2="128.7"/></g>
<g stroke="#1f77b4" stroke-opacity="0.7" stroke-width="1"><line x1="517.5" y1="17.3" x2="517.5" y2="117.1"/><line x1="514.9" y1="17.3" x2="520.1" y2="17.3"/><line x1="514.9" y1="117.1" x2="520.1" y2="117.1"/></g>
<g stroke="#1f77b4" stroke-opacity="0.7" stroke-width="1"><line x1="536.9" y1="18.8" x2="536.9" y2="96.2"/><line x1="534.2" y1="18.8" x2="539.5" y2="18.8"/><line x1="534.2" y1="96.2" x2="539.5" y2="96.2"/></g>
<g stroke="#1f77b4" stroke-opacity="0.7" stroke-width="1"><line x1="556.2" y1="24.0" x2="556.2" y2="86.3"/><line x1="553.6" y1="24.0" x2="558.8" y2="24.0"/><line x1="553.6" y1="86.3" x2="558.8" y2="86.3"/></g>
<g stroke="#1f77b4" stroke-opacity="0.7" stroke-width="1"><line x1="575.5" y1="28.3" x2="575.5" y2="75.6"/><line x1="572.9" y1="28.3" x2="578.1" y2="28.3"/><line x1="572.9" y1="75.6" x2="578.1" y2="75.6"/></g>
<g stroke="#1f77b4" stroke-opacity="0.7" stroke-width="1"><line x1="594.9" y1="34.9" x2="594.9" y2="73.7"/><line x1="592.3" y1="34.9" x2="597.5" y2="34.9"/><line x1="592.3" y1="73.7" x2="597.5" y2="73.7"/></g>
<g stroke="#1f77b4" stroke-opacity="0.7" stroke-width="1"><line x1="614.2" y1="39.5" x2="614.2" y2="69.6"/><line x1="611.6" y1="39.5" x2="616.9" y2="39.5"/><line x1="611.6" y1="69.6" x2="616.9" y2="69.6"/></g>
<g stroke="#1f77b4" stroke-opacity="0.7" stroke-width="1"><line x1="633.6" y1="42.7" x2="633.6" y2="66.3"/><line x1="631.0" y1="42.7" x2="636.2" y2="42.7"/><line x1="631.0" y1="66.3" x2="636.2" y2="66.3"/></g>
<g stroke="#1f77b4" stroke-opacity="0.7" stroke-width="1"><line x1="653.0" y1="41.6" x2="653.0" y2="65.3"/><line x1="650.4" y1="41.6" x2="655.6" y2="41.6"/><line x1="650.4" y1="65.3" x2="655.6" y2="65.3"/></g>
<g stroke="#1f77b4" stroke-opacity="0.7" stroke-width="1"><line x1="672.3" y1="41.2" x2="672.3" y2="64.8"/><line x1="669.7" y1="41.2" x2="674.9" y2="41.2"/><line x1="669.7" y1="64.8" x2="674.9" y2="64.8"/></g>
<g stroke="#ff7f0e" stroke-opacity="0.7" stroke-width="1"><line x1="420.8" y1="113.9" x2="420.8" y2="169.8"/><line x1="418.1" y1="113.9" x2="423.4" y2="113.9"/><line x1="418.1" y1="169.8" x2="423.4" y2="169.8"/></g>
<g stroke="#ff7f0e" stroke-opacity="0.7" stroke-width="1"><line x1="440.1" y1="110.0" x2="440.1" y2="165.9"/><line x1="437.5" y1="110.0" x2="442.7" y2="110.0"/><line x1="437.5" y1="165.9" x2="442.7" y2="165.9"/></g>
<g stroke="#ff7f0e" stroke-opacity="0.7" stroke-width="1"><line x1="459.4" y1="91.3" x2="459.4" y2="148.9"/><line x1="456.8" y1="91.3" x2="462.1" y2="91.3"/><line x1="456.8" y1="148.9" x2="462.1" y2="148.9"/></g>
<g stroke="#ff7f0e" stroke-opacity="0.7" stroke-width="1"><line x1="478.8" y1="80.7" x2="478.8" y2="142.7"/><line x1="476.2" y1="80.7" x2="481.4" y2="80.7"/><line x1="476.2" y1="142.7" x2="481.4" y2="142.7"/></g>
<g stroke="#ff7f0e" stroke-opacity="0.7" stroke-width="1"><line x1="498.1" y1="67.4" x2="498.1" y2="129.8"/><line x1="495.5" y1="67.4" x2="500.8" y2="67.4"/><line x1="495.5" y1="129.8" x2="500.8" y2="129.8"/></g>
<g stroke="#ff7f0e" stroke-opacity="0.7" stroke-width="1"><line x1="517.5" y1="64.0" x2="517.5" y2="128.5"/><line x1="514.9" y1="64.0" x2="520.1" y2="64.0"/><line x1="514.9" y1="128.5" x2="520.1" y2="128.5"/></g>
<g stroke="#ff7f0e" stroke-opacity="0.7" stroke-width="1"><line x1="536.9" y1="67.6" x2="536.9" y2="125.7"/><line x1="534.2" y1="67.6" x2="539.5" y2="67.6"/><line x1="534.2" y1="125.7" x2="539.5" y2="125.7"/></g>
<g stroke="#ff7f0e" stroke-opacity="0.7" stroke-width="1"><line x1="556.2" y1="62.7" x2="556.2" y2="112.1"/><line x1="553.6" y1="62.7" x2="558.8" y2="62.7"/><line x1="553.6" y1="112.1" x2="558.8" y2="112.1"/></g>
<g stroke="#ff7f0e" stroke-opacity="0.7" stroke-width="1"><line x1="575.5" y1="58.0" x2="575.5" y2="101.0"/><line x1="572.9" y1="58.0" x2="578.1" y2="58.0"/><line x1="572.9" y1="101.0" x2="578.1" y2="101.0"/></g>
<g stroke="#ff7f0e" stroke-opacity="0.7" stroke-width="1"><line x1="594.9" y1="60.5" x2="594.9" y2="99.2"/><line x1="592.3" y1="60.5" x2="597.5" y2="60.5"/><line x1="592.3" y1="99.2" x2="597.5" y2="99.2"/></g>
<g stroke="#ff7f0e" stroke-opacity="0.7" stroke-width="1"><line x1="614.2" y1="61.4" x2="614.2" y2="95.8"/><line x1="611.6" y1="61.4" x2="616.9" y2="61.4"/><line x1="611.6" y1="95.8" x2="616.9" y2="95.8"/></g>
<g stroke="#ff7f0e" stroke-opacity="0.7" stroke-width="1"><line x1="633.6" y1="60.1" x2="633.6" y2="92.4"/><line x1="631.0" y1="60.1" x2="636.2" y2="60.1"/><line x1="631.0" y1="92.4" x2="636.2" y2="92.4"/></g>
<g stroke="#ff7f0e" stroke-opacity="0.7" stroke-width="1"><line x1="653.0" y1="62.3" x2="653.0" y2="90.2"/><line x1="650.4" y1="62.3" x2="655.6" y2="62.3"/><line x1="650.4" y1="90.2" x2="655.6" y2="90.2"/></g>
<g stroke="#ff7f0e" stroke-opacity="0.7" stroke-width="1"><line x1="672.3" y1="64.4" x2="672.3" y2="88.1"/><line x1="669.7" y1="64.4" x2="674.9" y2="64.4"/><line x1="669.7" y1="88.1" x2="674.9" y2="88.1"/></g>
<g stroke="#2ca02c" stroke-opacity="0.7" stroke-width="1"><line x1="420.8" y1="44.0" x2="420.8" y2="90.4"/><line x1="418.1" y1="44.0" x2="423.4" y2="44.0"/><line x1="418.1" y1="90.4" x2="423.4" y2="90.4"/></g>
<g stroke="#2ca02c" stroke-opacity="0.7" stroke-width="1"><line x1="440.1" y1="42.7" x2="440.1" y2="90.9"/><line x1="437.5" y1="42.7" x2="442.7" y2="42.7"/><line x1="437.5" y1="90.9" x2="442.7" y2="90.9"/></g>
<g stroke="#2ca02c" stroke-opacity="0.7" stroke-width="1"><line x1="459.4" y1="45.3" x2="459.4" y2="91.7"/><line x1="456.8" y1="45.3" x2="462.1" y2="45.3"/><line x1="456.8" y1="91.7" x2="462.1" y2="91.7"/></g>
<g stroke="#2ca02c" stroke-opacity="0.7" stroke-width="1"><line x1="478.8" y1="27.4" x2="478.8" y2="73.9"/><line x1="476.2" y1="27.4" x2="481.4" y2="27.4"/><line x1="476.2" y1="73.9" x2="481.4" y2="73.9"/></g>
<g stroke="#2ca02c" stroke-opacity="0.7" stroke-width="1"><line x1="498.1" y1="16.9" x2="498.1" y2="62.5"/><line x1="495.5" y1="16.9" x2="500.8" y2="16.9"/><line x1="495.5" y1="62.5" x2="500.8" y2="62.5"/></g>
<g stroke="#2ca02c" stroke-opacity="0.7" stroke-width="1"><line x1="517.5" y1="15.9" x2="517.5" y2="61.5"/><line x1="514.9" y1="15.9" x2="520.1" y2="15.9"/><line x1="514.9" y1="61.5" x2="520.1" y2="61.5"/></g>
<g stroke="#2ca02c" stroke-opacity="0.7" stroke-width="1"><line x1="536.9" y1="18.4" x2="536.9" y2="61.4"/><line x1="534.2" y1="18.4" x2="539.5" y2="18.4"/><line x1="534.2" y1="61.4" x2="539.5" y2="61.4"/></g>
<g stroke="#2ca02c" stroke-opacity="0.7" stroke-width="1"><line x1="556.2" y1="20.8" x2="556.2" y2="61.2"/><line x1="553.6" y1="20.8" x2="558.8" y2="20.8"/><line x1="553.6" y1="61.2" x2="558.8" y2="61.2"/></g>
<g stroke="#2ca02c" stroke-opacity="0.7" stroke-width="1"><line x1="575.5" y1="26.6" x2="575.5" y2="56.2"/><line x1="572.9" y1="26.6" x2="578.1" y2="26.6"/><line x1="572.9" y1="56.2" x2="578.1" y2="56.2"/></g>
<g stroke="#2ca02c" stroke-opacity="0.7" stroke-width="1"><line x1="594.9" y1="26.6" x2="594.9" y2="54.5"/><line x1="592.3" y1="26.6" x2="597.5" y2="26.6"/><line x1="592.3" y1="54.5" x2="597.5" y2="54.5"/></g>
<g stroke="#2ca02c" stroke-opacity="0.7" stroke-width="1"><line x1="614.2" y1="23.3" x2="614.2" y2="50.4"/><line x1="611.6" y1="23.3" x2="616.9" y2="23.3"/><line x1="611.6" y1="50.4" x2="616.9" y2="50.4"/></g>
<g stroke="#2ca02c" stroke-opacity="0.7" stroke-width="1"><line x1="633.6" y1="20.3" x2="633.6" y2="48.3"/><line x1="631.0" y1="20.3" x2="636.2" y2="20.3"/><line x1="631.0" y1="48.3" x2="636.2" y2="48.3"/></g>
<g stroke="#2ca02c" stroke-opacity="0.7" stroke-width="1"><line x1="653.0" y1="18.2" x2="653.0" y2="46.6"/><line x1="650.4" y1="18.2" x2="655.6" y2="18.2"/><line x1="650.4" y1="46.6" x2="655.6" y2="46.6"/></g>
<g stroke="#2ca02c" stroke-opacity="0.7" stroke-width="1"><line x1="672.3" y1="18.4" x2="672.3" y2="46.8"/><line x1="669.7" y1="18.4" x2="674.9" y2="18.4"/><line x1="669.7" y1="46.8" x2="674.9" y2="46.8"/></g>
<g stroke="#d62728" stroke-opacity="0.7" stroke-width="1"><line x1="420.8" y1="114.3" x2="420.8" y2="183.1"/><line x1="418.1" y1="114.3" x2="423.4" y2="114.3"/><line x1="418.1" y1="183.1" x2="423.4" y2="183.1"/></g>
<g stroke="#d62728" stroke-opacity="0.7" stroke-width="1"><line x1="440.1" y1="71.1" x2="440.1" y2="137.7"/><line x1="437.5" y1="71.1" x2="442.7" y2="71.1"/><line x1="437.5" y1="137.7" x2="442.7" y2="137.7"/></g>
<g stroke="#d62728" stroke-opacity="0.7" stroke-width="1"><line x1="459.4" y1="58.2" x2="459.4" y2="122.7"/><line x1="456.8" y1="58.2" x2="462.1" y2="58.2"/><line x1="456.8" y1="122.7" x2="462.1" y2="122.7"/></g>
<g stroke="#d62728" stroke-opacity="0.7" stroke-width="1"><line x1="478.8" y1="54.1" x2="478.8" y2="118.6"/><line x1="476.2" y1="54.1" x2="481.4" y2="54.1"/><line x1="476.2" y1="118.6" x2="481.4" y2="118.6"/></g>
<g stroke="#d62728" stroke-opacity="0.7" stroke-width="1"><line x1="498.1" y1="48.5" x2="498.1" y2="110.8"/><line x1="495.5" y1="48.5" x2="500.8" y2="48.5"/><line x1="495.5" y1="110.8" x2="500.8" y2="110.8"/></g>
<g stroke="#d62728" stroke-opacity="0.7" stroke-width="1"><line x1="517.5" y1="48.9" x2="517.5" y2="109.1"/><line x1="514.9" y1="48.9" x2="520.1" y2="48.9"/><line x1="514.9" y1="109.1" x2="520.1" y2="109.1"/></g>
<g stroke="#d62728" stroke-opacity="0.7" stroke-width="1"><line x1="536.9" y1="60.5" x2="536.9" y2="97.1"/><line x1="534.2" y1="60.5" x2="539.5" y2="60.5"/><line x1="534.2" y1="97.1" x2="539.5" y2="97.1"/></g>
<g stroke="#d62728" stroke-opacity="0.7" stroke-width="1"><line x1="556.2" y1="65.0" x2="556.2" y2="94.3"/><line x1="553.6" y1="65.0" x2="558.8" y2="65.0"/><line x1="553.6" y1="94.3" x2="558.8" y2="94.3"/></g>
<g stroke="#d62728" stroke-opacity="0.7" stroke-width="1"><line x1="575.5" y1="66.1" x2="575.5" y2="92.8"/><line x1="572.9" y1="66.1" x2="578.1" y2="66.1"/><line x1="572.9" y1="92.8" x2="578.1" y2="92.8"/></g>
<g stroke="#d62728" stroke-opacity="0.7" stroke-width="1"><line x1="594.9" y1="66.8" x2="594.9" y2="90.4"/><line x1="592.3" y1="66.8" x2="597.5" y2="66.8"/><line x1="592.3" y1="90.4" x2="597.5" y2="90.4"/></g>
<g stroke="#d62728" stroke-opacity="0.7" stroke-width="1"><line x1="614.2" y1="66.8" x2="614.2" y2="90.4"/><line x1="611.6" y1="66.8" x2="616.9" y2="66.8"/><line x1="611.6" y1="90.4" x2="616.9" y2="90.4"/></g>
<g stroke="#d62728" stroke-opacity="0.7" stroke-width="1"><line x1="633.6" y1="65.1" x2="633.6" y2="90.0"/><line x1="631.0" y1="65.1" x2="636.2" y2="65.1"/><line x1="631.0" y1="90.0" x2="636.2" y2="90.0"/></g>
<g stroke="#d62728" stroke-opacity="0.7" stroke-width="1"><line x1="653.0" y1="62.0" x2="653.0" y2="87.0"/><line x1="650.4" y1="62.0" x2="655.6" y2="62.0"/><line x1="650.4" y1="87.0" x2="655.6" y2="87.0"/></g>
<g stroke="#d62728" stroke-opacity="0.7" stroke-width="1"><line x1="672.3" y1="62.0" x2="672.3" y2="87.0"/><line x1="669.7" y1="62.0" x2="674.9" y2="62.0"/><line x1="669.7" y1="87.0" x2="674.9" y2="87.0"/></g>
<polyline points="420.8,173.0 440.1,139.9 459.4,118.4 478.8,95.2 498.1,78.6 517.5,67.2 536.9,57.5 556.2,55.2 575.5,51.9 594.9,54.3 614.2,54.5 633.6,54.5 653.0,53.4 672.3,53.0" fill="none" stroke="#1f77b4" stroke-width="1.1"/>
<circle cx="420.8" cy="173.0" r="3.1" fill="#1f77b4"/>
<circle cx="440.1" cy="139.9" r="3.1" fill="#1f77b4"/>
<circle cx="459.4" cy="118.4" r="3.1" fill="#1f77b4"/>
<circle cx="478.8" cy="95.2" r="3.1" fill="#1f77b4"/>
<circle cx="498.1" cy="78.6" r="3.1" fill="#1f77b4"/>
<circle cx="517.5" cy="67.2" r="3.1" fill="#1f77b4"/>
<circle cx="536.9" cy="57.5" r="3.1" fill="#1f77b4"/>
<circle cx="556.2" cy="55.2" r="3.1" fill="#1f77b4"/>
<circle cx="575.5" cy="51.9" r="3.1" fill="#1f77b4"/>
<circle cx="594.9" cy="54.3" r="3.1" fill="#1f77b4"/>
<circle cx="614.2" cy="54.5" r="3.1" fill="#1f77b4"/>
<circle cx="633.6" cy="54.5" r="3.1" fill="#1f77b4"/>
<circle cx="653.0" cy="53.4" r="3.1" fill="#1f77b4"/>
<circle cx="672.3" cy="53.0" r="3.1" fill="#1f77b4"/>
<polyline points="420.8,141.8 440.1,137.9 459.4,120.1 478.8,111.7 498.1,98.6 517.5,96.2 536.9,96.7 556.2,87.4 575.5,79.5 594.9,79.9 614.2,78.6 633.6,76.2 653.0,76.2 672.3,76.2" fill="none" stroke="#ff7f0e" stroke-width="1.1"/>
<circle cx="420.8" cy="141.8" r="3.1" fill="#ff7f0e"/>
<circle cx="440.1" cy="137.9" r="3.1" fill="#ff7f0e"/>
<circle cx="459.4" cy="120.1" r="3.1" fill="#ff7f0e"/>
<circle cx="478.8" cy="111.7" r="3.1" fill="#ff7f0e"/>
<circle cx="498.1" cy="98.6" r="3.1" fill="#ff7f0e"/>
<circle cx="517.5" cy="96.2" r="3.1" fill="#ff7f0e"/>
<circle cx="536.9" cy="96.7" r="3.1" fill="#ff7f0e"/>
<circle cx="556.2" cy="87.4" r="3.1" fill="#ff7f0e"/>
<circle cx="575.5" cy="79.5" r="3.1" fill="#ff7f0e"/>
<circle cx="594.9" cy="79.9" r="3.1" fill="#ff7f0e"/>
<circle cx="614.2" cy="78.6" r="3.1" fill="#ff7f0e"/>
<circle cx="633.6" cy="76.2" r="3.1" fill="#ff7f0e"/>
<circle cx="653.0" cy="76.2" r="3.1" fill="#ff7f0e"/>
<circle cx="672.3" cy="76.2" r="3.1" fill="#ff7f0e"/>
<polyline points="420.8,67.2 440.1,66.8 459.4,68.5 478.8,50.6 498.1,39.7 517.5,38.7 536.9,39.9 556.2,41.0 575.5,41.4 594.9,40.5 614.2,36.9 633.6,34.3 653.0,32.4 672.3,32.6" fill="none" stroke="#2ca02c" stroke-width="1.1"/>
<circle cx="420.8" cy="67.2" r="3.1" fill="#2ca02c"/>
<circle cx="440.1" cy="66.8" r="3.1" fill="#2ca02c"/>
<circle cx="459.4" cy="68.5" r="3.1" fill="#2ca02c"/>
<circle cx="478.8" cy="50.6" r="3.1" fill="#2ca02c"/>
<circle cx="498.1" cy="39.7" r="3.1" fill="#2ca02c"/>
<circle cx="517.5" cy="38.7" r="3.1" fill="#2ca02c"/>
<circle cx="536.9" cy="39.9" r="3.1" fill="#2ca02c"/>
<circle cx="556.2" cy="41.0" r="3.1" fill="#2ca02c"/>
<circle cx="575.5" cy="41.4" r="3.1" fill="#2ca02c"/>
<circle cx="594.9" cy="40.5" r="3.1" fill="#2ca02c"/>
<circle cx="614.2" cy="36.9" r="3.1" fill="#2ca02c"/>
<circle cx="633.6" cy="34.3" r="3.1" fill="#2ca02c"/>
<circle cx="653.0" cy="32.4" r="3.1" fill="#2ca02c"/>
<circle cx="672.3" cy="32.6" r="3.1" fill="#2ca02c"/>
<polyline points="420.8,148.7 440.1,104.4 459.4,90.4 478.8,86.3 498.1,79.7 517.5,79.0 536.9,78.8 556.2,79.7 575.5,79.5 594.9,78.6 614.2,78.6 633.6,77.5 653.0,74.5 672.3,74.5" fill="none" stroke="#d62728" stroke-width="1.1"/>
<circle cx="420.8" cy="148.7" r="3.1" fill="#d62728"/>
<circle cx="440.1" cy="104.4" r="3.1" fill="#d62728"/>
<circle cx="459.4" cy="90.4" r="3.1" fill="#d62728"/>
<circle cx="478.8" cy="86.3" r="3.1" fill="#d62728"/>
<circle cx="498.1" cy="79.7" r="3.1" fill="#d62728"/>
<circle cx="517.5" cy="79.0" r="3.1" fill="#d62728"/>
<circle cx="536.9" cy="78.8" r="3.1" fill="#d62728"/>
<circle cx="556.2" cy="79.7" r="3.1" fill="#d62728"/>
<circle cx="575.5" cy="79.5" r="3.1" fill="#d62728"/>
<circle cx="594.9" cy="78.6" r="3.1" fill="#d62728"/>
<circle cx="614.2" cy="78.6" r="3.1" fill="#d62728"/>
<circle cx="633.6" cy="77.5" r="3.1" fill="#d62728"/>
<circle cx="653.0" cy="74.5" r="3.1" fill="#d62728"/>
<circle cx="672.3" cy="74.5" r="3.1" fill="#d62728"/>
<rect x="408.5" y="5.0" width="275.79999999999995" height="224.5" fill="none" stroke="#1a1a1a" stroke-width="1.15"/>
<line x1="404.5" y1="213.4" x2="408.5" y2="213.4" stroke="#222" stroke-width="0.9"/>
<text x="401.7" y="216.0" font-size="9" text-anchor="end" fill="#222">1.0</text>
<line x1="404.5" y1="170.4" x2="408.5" y2="170.4" stroke="#222" stroke-width="0.9"/>
<text x="401.7" y="173.0" font-size="9" text-anchor="end" fill="#222">1.2</text>
<line x1="404.5" y1="127.4" x2="408.5" y2="127.4" stroke="#222" stroke-width="0.9"/>
<text x="401.7" y="130.0" font-size="9" text-anchor="end" fill="#222">1.4</text>
<line x1="404.5" y1="84.4" x2="408.5" y2="84.4" stroke="#222" stroke-width="0.9"/>
<text x="401.7" y="87.0" font-size="9" text-anchor="end" fill="#222">1.6</text>
<line x1="404.5" y1="41.4" x2="408.5" y2="41.4" stroke="#222" stroke-width="0.9"/>
<text x="401.7" y="44.0" font-size="9" text-anchor="end" fill="#222">1.8</text>
<line x1="440.1" y1="229.5" x2="440.1" y2="232.5" stroke="#222" stroke-width="0.8"/>
<text x="440.1" y="244.7" font-size="9" text-anchor="middle" fill="#222">200</text>
<line x1="478.8" y1="229.5" x2="478.8" y2="232.5" stroke="#222" stroke-width="0.8"/>
<text x="478.8" y="244.7" font-size="9" text-anchor="middle" fill="#222">400</text>
<line x1="517.5" y1="229.5" x2="517.5" y2="232.5" stroke="#222" stroke-width="0.8"/>
<text x="517.5" y="244.7" font-size="9" text-anchor="middle" fill="#222">600</text>
<line x1="556.2" y1="229.5" x2="556.2" y2="232.5" stroke="#222" stroke-width="0.8"/>
<text x="556.2" y="244.7" font-size="9" text-anchor="middle" fill="#222">800</text>
<line x1="594.9" y1="229.5" x2="594.9" y2="232.5" stroke="#222" stroke-width="0.8"/>
<text x="594.9" y="244.7" font-size="9" text-anchor="middle" fill="#222">1000</text>
<line x1="633.6" y1="229.5" x2="633.6" y2="232.5" stroke="#222" stroke-width="0.8"/>
<text x="633.6" y="244.7" font-size="9" text-anchor="middle" fill="#222">1200</text>
<line x1="672.3" y1="229.5" x2="672.3" y2="232.5" stroke="#222" stroke-width="0.8"/>
<text x="672.3" y="244.7" font-size="9" text-anchor="middle" fill="#222">1400</text>
<text x="547.0" y="255.8" font-size="9.3" text-anchor="middle" fill="#222" font-style="italic">Time (ns)</text>
<text x="383.6" y="117.6" font-size="9.7" text-anchor="middle" fill="#222" font-style="italic" transform="rotate(-90 383.6 117.6)">Average RMSF (Å)</text>
<text x="620.4" y="141.8" font-size="9.4" text-anchor="middle" fill="#333" font-style="italic">Stablized</text>
<text x="620.4" y="153.6" font-size="9.4" text-anchor="middle" fill="#333" font-style="italic">RMSF</text>
<rect x="566.8" y="174.8" width="107.2" height="50.2" rx="1.5" fill="#fff" fill-opacity="0.85" stroke="#d0d0d0" stroke-width="0.8"/>
<line x1="570" y1="183.0" x2="591" y2="183.0" stroke="#1f77b4" stroke-width="1.1"/>
<circle cx="580.5" cy="183.0" r="3.1" fill="#1f77b4"/>
<text x="596.5" y="185.9" font-size="8.2" text-anchor="start" fill="#222">CTR1</text>
<line x1="570" y1="194.8" x2="591" y2="194.8" stroke="#ff7f0e" stroke-width="1.1"/>
<circle cx="580.5" cy="194.8" r="3.1" fill="#ff7f0e"/>
<text x="596.5" y="197.7" font-size="8.2" text-anchor="start" fill="#222">CTR1 + Cu</text>
<line x1="570" y1="206.6" x2="591" y2="206.6" stroke="#2ca02c" stroke-width="1.1"/>
<circle cx="580.5" cy="206.6" r="3.1" fill="#2ca02c"/>
<text x="596.5" y="209.5" font-size="8.2" text-anchor="start" fill="#222">CTR1 (M150L)</text>
<line x1="570" y1="218.4" x2="591" y2="218.4" stroke="#d62728" stroke-width="1.1"/>
<circle cx="580.5" cy="218.4" r="3.1" fill="#d62728"/>
<text x="596.5" y="221.3" font-size="8.2" text-anchor="start" fill="#222">CTR1 (M150L) + Cu</text>
<text x="371.8" y="7.2" font-size="9" text-anchor="start" fill="#111" font-weight="bold">d</text>
<clipPath id="clipb"><rect x="28.1" y="266" width="308.7" height="89.69999999999999"/></clipPath>
<g clip-path="url(#clipb)">
<polyline points="42.30,351.70 42.66,336.80 43.03,326.68 43.39,322.13 43.76,321.25 44.12,318.84 44.49,315.90 44.85,312.51 45.22,315.73 45.58,317.34 45.95,313.25 46.31,311.43 46.68,307.78 47.04,306.91 47.41,308.65 47.77,309.60 48.13,303.17 48.50,306.11 48.86,308.35 49.23,309.90 49.59,307.48 49.96,305.78 50.32,305.69 50.69,304.62 51.05,303.09 51.42,301.09 51.78,298.87 52.15,299.50 52.51,304.11 52.87,300.42 53.24,303.14 53.60,301.35 53.97,303.16 54.33,300.38 54.70,300.50 55.06,298.12 55.43,289.83 55.79,293.24 56.16,292.78 56.52,297.39 56.89,297.19 57.25,294.79 57.62,295.20 57.98,294.22 58.34,294.22 58.71,296.63 59.07,294.12 59.44,296.10 59.80,290.96 60.17,293.84 60.53,292.55 60.90,293.47 61.26,291.75 61.63,294.46 61.99,292.14 62.36,293.55 62.72,291.08 63.09,291.31 63.45,292.53 63.81,295.25 64.18,293.07 64.54,292.66 64.91,289.82 65.27,293.13 65.64,292.71 66.00,292.67 66.37,293.22 66.73,293.74 67.10,294.11 67.46,296.15 67.83,298.19 68.19,297.85 68.55,295.48 68.92,292.25 69.28,291.92 69.65,291.64 70.01,292.20 70.38,292.71 70.74,294.12 71.11,293.50 71.47,290.90 71.84,294.44 72.20,297.06 72.57,292.30 72.93,293.87 73.30,293.01 73.66,292.81 74.02,297.34 74.39,291.43 74.75,290.00 75.12,292.97 75.48,293.15 75.85,294.69 76.21,297.79 76.58,297.59 76.94,296.39 77.31,294.10 77.67,293.91 78.04,295.32 78.40,293.07 78.76,296.80 79.13,295.13 79.49,293.58 79.86,296.03 80.22,300.71 80.59,301.04 80.95,298.60 81.32,296.73 81.68,293.50 82.05,297.83 82.41,297.75 82.78,296.29 83.14,297.47 83.51,303.19 83.87,298.83 84.23,293.26 84.60,293.54 84.96,298.15 85.33,299.35 85.69,298.56 86.06,293.04 86.42,294.62 86.79,296.63 87.15,294.39 87.52,297.09 87.88,294.05 88.25,298.42 88.61,300.19 88.98,298.40 89.34,295.95 89.70,296.56 90.07,297.64 90.43,302.78 90.80,302.69 91.16,302.28 91.53,301.78 91.89,298.84 92.26,299.35 92.62,296.91 92.99,297.19 93.35,298.15 93.72,297.48 94.08,296.30 94.44,294.61 94.81,296.70 95.17,297.06 95.54,299.70 95.90,294.18 96.27,291.70 96.63,294.11 97.00,295.93 97.36,298.50 97.73,296.48 98.09,295.32 98.46,290.13 98.82,291.89 99.19,295.04 99.55,300.36 99.91,294.11 100.28,293.70 100.64,297.54 101.01,295.28 101.37,298.18 101.74,287.88 102.10,288.07 102.47,289.34 102.83,291.61 103.20,297.17 103.56,295.26 103.93,297.50 104.29,293.61 104.66,297.86 105.02,297.08 105.38,291.74 105.75,288.02 106.11,292.56 106.48,295.56 106.84,291.45 107.21,289.41 107.57,292.54 107.94,293.38 108.30,293.73 108.67,294.98 109.03,294.38 109.40,289.59 109.76,288.42 110.12,284.64 110.49,287.60 110.85,289.13 111.22,291.77 111.58,291.06 111.95,293.37 112.31,295.53 112.68,290.87 113.04,286.78 113.41,286.06 113.77,284.50 114.14,286.13 114.50,289.11 114.87,288.69 115.23,289.48 115.59,291.59 115.96,293.96 116.32,294.65 116.69,291.60 117.05,289.69 117.42,290.16 117.78,286.02 118.15,286.79 118.51,286.24 118.88,284.49 119.24,288.27 119.61,292.79 119.97,288.79 120.34,290.07 120.70,286.12 121.06,286.36 121.43,284.93 121.79,284.75 122.16,291.17 122.52,287.95 122.89,289.51 123.25,290.47 123.62,290.19 123.98,287.28 124.35,285.55 124.71,284.37 125.08,289.89 125.44,290.18 125.80,294.41 126.17,291.29 126.53,288.13 126.90,289.77 127.26,288.31 127.63,287.66 127.99,285.59 128.36,288.80 128.72,290.45 129.09,291.17 129.45,285.81 129.82,284.69 130.18,286.95 130.55,287.32 130.91,287.80 131.27,287.88 131.64,288.91 132.00,289.75 132.37,292.33 132.73,292.25 133.10,286.99 133.46,286.96 133.83,288.07 134.19,289.30 134.56,289.33 134.92,288.71 135.29,290.67 135.65,289.74 136.02,289.18 136.38,291.18 136.74,292.29 137.11,293.34 137.47,294.02 137.84,289.90 138.20,295.30 138.57,293.21 138.93,292.97 139.30,292.88 139.66,291.21 140.03,288.02 140.39,288.85 140.76,289.77 141.12,291.33 141.48,291.01 141.85,288.48 142.21,290.22 142.58,292.82 142.94,294.41 143.31,294.85 143.67,295.74 144.04,290.49 144.40,289.58 144.77,290.50 145.13,287.08 145.50,290.23 145.86,288.59 146.23,287.67 146.59,292.60 146.95,295.11 147.32,294.93 147.68,290.65 148.05,287.63 148.41,291.91 148.78,288.85 149.14,290.58 149.51,291.44 149.87,292.21 150.24,292.07 150.60,295.40 150.97,295.18 151.33,295.59 151.70,291.83 152.06,286.27 152.42,282.00 152.79,286.88 153.15,292.48 153.52,292.25 153.88,293.34 154.25,287.17 154.61,287.31 154.98,290.34 155.34,288.02 155.71,287.77 156.07,292.58 156.44,292.46 156.80,291.72 157.16,290.74 157.53,289.97 157.89,290.65 158.26,289.77 158.62,291.09 158.99,292.44 159.35,287.58 159.72,287.78 160.08,287.68 160.45,292.29 160.81,291.31 161.18,288.55 161.54,292.00 161.91,288.23 162.27,289.75 162.63,288.68 163.00,289.37 163.36,288.89 163.73,286.39 164.09,288.81 164.46,285.50 164.82,289.21 165.19,291.40 165.55,288.72 165.92,291.44 166.28,291.20 166.65,288.14 167.01,285.90 167.37,291.61 167.74,289.23 168.10,284.87 168.47,284.26 168.83,287.24 169.20,289.54 169.56,289.98 169.93,292.16 170.29,291.20 170.66,290.53 171.02,290.09 171.39,286.82 171.75,288.41 172.12,292.01 172.48,288.05 172.84,290.92 173.21,290.92 173.57,290.19 173.94,290.29 174.30,291.84 174.67,290.88 175.03,284.81 175.40,288.17 175.76,288.75 176.13,286.15 176.49,285.70 176.86,285.43 177.22,285.02 177.59,291.27 177.95,291.83 178.31,289.81 178.68,287.92 179.04,285.12 179.41,285.58 179.77,287.40 180.14,287.64 180.50,288.30 180.87,287.56 181.23,286.17 181.60,287.77 181.96,289.63 182.33,290.62 182.69,286.61 183.05,284.15 183.42,283.55 183.78,283.53 184.15,283.55 184.51,285.44 184.88,284.83 185.24,288.42 185.61,288.24 185.97,289.34 186.34,286.51 186.70,288.06 187.07,287.72 187.43,286.35 187.80,283.45 188.16,286.89 188.52,288.95 188.89,285.93 189.25,288.82 189.62,286.68 189.98,287.93 190.35,287.48 190.71,291.17 191.08,287.19 191.44,287.97 191.81,289.25 192.17,283.06 192.54,283.08 192.90,276.66 193.27,280.54 193.63,284.20 193.99,284.97 194.36,281.90 194.72,284.10 195.09,284.09 195.45,283.91 195.82,287.08 196.18,286.27 196.55,287.29 196.91,289.49 197.28,285.72 197.64,284.30 198.01,284.92 198.37,287.47 198.73,291.25 199.10,287.41 199.46,286.83 199.83,290.21 200.19,288.20 200.56,290.55 200.92,288.32 201.29,286.83 201.65,285.62 202.02,285.34 202.38,285.32 202.75,288.34 203.11,288.12 203.48,288.33 203.84,287.81 204.20,286.41 204.57,284.93 204.93,281.87 205.30,289.99 205.66,287.26 206.03,287.29 206.39,281.64 206.76,281.91 207.12,287.99 207.49,286.34 207.85,287.64 208.22,284.84 208.58,288.15 208.95,287.63 209.31,287.46 209.67,287.31 210.04,288.36 210.40,291.78 210.77,288.21 211.13,285.17 211.50,286.08 211.86,288.69 212.23,287.19 212.59,285.60 212.96,286.49 213.32,286.55 213.69,283.31 214.05,287.47 214.41,288.25 214.78,291.72 215.14,290.68 215.51,290.23 215.87,290.51 216.24,290.02 216.60,284.05 216.97,285.63 217.33,286.21 217.70,281.19 218.06,283.85 218.43,289.00 218.79,286.67 219.16,288.56 219.52,283.59 219.88,287.70 220.25,288.22 220.61,290.82 220.98,288.20 221.34,289.43 221.71,287.85 222.07,287.77 222.44,288.25 222.80,284.92 223.17,283.25 223.53,284.41 223.90,287.18 224.26,288.95 224.62,286.75 224.99,280.82 225.35,284.40 225.72,286.95 226.08,288.04 226.45,289.51 226.81,289.97 227.18,288.46 227.54,283.96 227.91,285.01 228.27,286.71 228.64,290.11 229.00,287.63 229.37,286.95 229.73,289.38 230.09,290.28 230.46,288.35 230.82,284.98 231.19,284.19 231.55,284.78 231.92,286.29 232.28,285.59 232.65,286.01 233.01,281.22 233.38,286.42 233.74,287.28 234.11,283.97 234.47,285.84 234.84,282.92 235.20,284.83 235.56,285.37 235.93,286.83 236.29,289.89 236.66,290.50 237.02,283.51 237.39,283.62 237.75,283.79 238.12,283.08 238.48,283.62 238.85,282.84 239.21,285.38 239.58,286.54 239.94,284.34 240.30,286.29 240.67,289.49 241.03,288.55 241.40,288.80 241.76,286.25 242.13,288.03 242.49,289.68 242.86,288.83 243.22,284.07 243.59,285.34 243.95,285.49 244.32,285.90 244.68,285.43 245.05,283.74 245.41,281.81 245.77,287.80 246.14,283.89 246.50,285.05 246.87,286.35 247.23,280.75 247.60,283.83 247.96,280.51 248.33,281.07 248.69,285.92 249.06,284.86 249.42,283.74 249.79,285.15 250.15,290.88 250.52,289.19 250.88,287.99 251.24,289.47 251.61,283.48 251.97,285.21 252.34,286.41 252.70,286.78 253.07,288.09 253.43,288.73 253.80,287.05 254.16,285.71 254.53,286.92 254.89,286.57 255.26,289.37 255.62,286.39 255.98,287.82 256.35,286.32 256.71,288.14 257.08,288.15 257.44,286.49 257.81,288.92 258.17,281.70 258.54,283.84 258.90,284.99 259.27,287.08 259.63,282.79 260.00,281.12 260.36,282.78 260.73,287.43 261.09,287.77 261.45,285.38 261.82,286.76 262.18,289.00 262.55,290.12 262.91,289.73 263.28,287.74 263.64,288.26 264.01,286.99 264.37,280.00 264.74,278.84 265.10,284.70 265.47,284.47 265.83,284.94 266.20,285.69 266.56,283.35 266.92,285.39 267.29,286.44 267.65,287.12 268.02,286.86 268.38,283.60 268.75,283.17 269.11,287.84 269.48,288.16 269.84,289.17 270.21,286.01 270.57,285.83 270.94,284.25 271.30,285.67 271.66,290.66 272.03,287.78 272.39,286.89 272.76,285.84 273.12,289.50 273.49,288.20 273.85,289.34 274.22,289.95 274.58,287.91 274.95,286.93 275.31,289.33 275.68,292.45 276.04,295.79 276.41,293.14 276.77,287.97 277.13,288.12 277.50,293.26 277.86,292.69 278.23,289.49 278.59,285.07 278.96,284.05 279.32,285.41 279.69,286.52 280.05,289.99 280.42,290.37 280.78,290.31 281.15,291.22 281.51,289.73 281.88,290.02 282.24,288.46 282.60,285.15 282.97,285.06 283.33,285.74 283.70,287.57 284.06,291.39 284.43,290.06 284.79,287.87 285.16,290.31 285.52,286.32 285.89,287.95 286.25,287.12 286.62,288.29 286.98,290.98 287.34,284.69 287.71,288.93 288.07,286.26 288.44,288.28 288.80,287.36 289.17,289.35 289.53,289.29 289.90,286.11 290.26,282.07 290.63,286.36 290.99,286.45 291.36,284.25 291.72,286.68 292.09,284.72 292.45,287.08 292.81,284.98 293.18,284.22 293.54,281.97 293.91,282.70 294.27,286.54 294.64,284.11 295.00,286.86 295.37,283.91 295.73,280.61 296.10,280.98 296.46,283.71 296.83,280.99 297.19,281.90 297.55,285.51 297.92,285.19 298.28,280.88 298.65,282.60 299.01,282.39 299.38,283.27 299.74,286.71 300.11,285.65 300.47,283.05 300.84,282.01 301.20,282.28 301.57,286.83 301.93,281.33 302.30,279.64 302.66,278.02 303.02,276.49 303.39,279.67 303.75,281.57 304.12,280.36 304.48,276.57 304.85,282.32 305.21,281.79 305.58,282.58 305.94,279.99 306.31,276.55 306.67,278.81 307.04,282.04 307.40,280.64 307.77,280.64 308.13,283.47 308.49,279.25 308.86,280.31 309.22,278.01 309.59,281.38 309.95,277.47 310.32,281.28 310.68,277.40 311.05,281.96 311.41,276.87 311.78,278.27 312.14,281.59 312.51,280.15 312.87,278.05 313.23,279.96 313.60,279.71 313.96,277.76 314.33,277.71 314.69,284.25 315.06,281.41 315.42,277.95 315.79,276.44 316.15,273.98 316.52,276.57 316.88,270.36 317.25,271.20 317.61,272.66 317.98,271.54 318.34,271.21 318.70,272.89 319.07,275.23 319.43,272.51 319.80,272.40 320.16,277.53 320.53,278.16 320.89,274.75 321.26,273.75 321.62,272.73 321.99,271.26 322.35,271.54 322.72,268.27" fill="none" stroke="#2b3b9b" stroke-width="1.05" stroke-linejoin="round"/>
<polyline points="42.30,351.70 42.66,333.08 43.03,319.99 43.39,313.37 43.76,309.70 44.12,307.49 44.49,305.00 44.85,303.88 45.22,302.50 45.58,300.44 45.95,301.60 46.31,300.17 46.68,301.15 47.04,302.49 47.41,304.01 47.77,306.68 48.13,309.57 48.50,307.35 48.86,306.50 49.23,304.91 49.59,304.14 49.96,307.72 50.32,308.20 50.69,309.49 51.05,304.65 51.42,304.85 51.78,304.24 52.15,306.34 52.51,308.17 52.87,307.27 53.24,305.52 53.60,303.14 53.97,306.69 54.33,303.80 54.70,305.15 55.06,304.88 55.43,304.15 55.79,303.90 56.16,301.47 56.52,299.18 56.89,299.32 57.25,301.48 57.62,300.15 57.98,299.53 58.34,297.97 58.71,298.58 59.07,303.43 59.44,303.70 59.80,302.90 60.17,299.19 60.53,299.87 60.90,297.58 61.26,297.89 61.63,301.61 61.99,300.38 62.36,298.46 62.72,297.80 63.09,302.04 63.45,299.42 63.81,300.53 64.18,304.74 64.54,303.02 64.91,305.67 65.27,305.44 65.64,298.77 66.00,293.01 66.37,293.65 66.73,295.58 67.10,293.05 67.46,295.67 67.83,300.30 68.19,306.31 68.55,301.17 68.92,306.42 69.28,310.62 69.65,307.39 70.01,304.10 70.38,304.81 70.74,300.58 71.11,301.31 71.47,301.03 71.84,300.40 72.20,302.69 72.57,301.97 72.93,296.47 73.30,301.84 73.66,301.92 74.02,301.16 74.39,303.50 74.75,303.54 75.12,307.76 75.48,306.82 75.85,305.26 76.21,301.93 76.58,300.76 76.94,304.03 77.31,307.08 77.67,301.43 78.04,301.02 78.40,307.82 78.76,307.43 79.13,308.16 79.49,307.61 79.86,309.89 80.22,307.64 80.59,306.56 80.95,305.15 81.32,301.09 81.68,300.89 82.05,304.18 82.41,306.91 82.78,305.11 83.14,299.86 83.51,297.57 83.87,300.02 84.23,296.72 84.60,297.03 84.96,299.96 85.33,298.95 85.69,299.79 86.06,302.88 86.42,302.82 86.79,301.41 87.15,297.92 87.52,302.11 87.88,301.14 88.25,301.28 88.61,301.62 88.98,304.79 89.34,300.30 89.70,298.06 90.07,296.20 90.43,297.86 90.80,296.08 91.16,297.45 91.53,296.91 91.89,299.87 92.26,299.88 92.62,301.16 92.99,303.54 93.35,303.10 93.72,304.51 94.08,305.11 94.44,302.61 94.81,300.93 95.17,292.71 95.54,288.57 95.90,287.49 96.27,286.92 96.63,290.00 97.00,287.96 97.36,291.65 97.73,291.29 98.09,290.58 98.46,289.77 98.82,286.14 99.19,288.27 99.55,281.19 99.91,284.77 100.28,283.00 100.64,288.02 101.01,284.14 101.37,287.62 101.74,286.02 102.10,285.83 102.47,283.75 102.83,283.34 103.20,283.77 103.56,285.43 103.93,281.09 104.29,285.05 104.66,285.94 105.02,287.69 105.38,287.14 105.75,289.70 106.11,289.70 106.48,287.51 106.84,289.20 107.21,287.41 107.57,289.17 107.94,285.07 108.30,286.93 108.67,283.17 109.03,284.47 109.40,286.72 109.76,285.17 110.12,283.89 110.49,282.38 110.85,281.99 111.22,283.07 111.58,288.80 111.95,286.44 112.31,287.85 112.68,287.30 113.04,284.87 113.41,288.61 113.77,285.36 114.14,281.07 114.50,283.53 114.87,286.93 115.23,284.41 115.59,286.13 115.96,284.82 116.32,283.65 116.69,289.99 117.05,288.57 117.42,292.48 117.78,292.38 118.15,289.06 118.51,291.90 118.88,292.14 119.24,291.61 119.61,289.41 119.97,288.22 120.34,287.40 120.70,289.35 121.06,290.91 121.43,288.75 121.79,290.84 122.16,291.70 122.52,288.33 122.89,290.35 123.25,291.61 123.62,287.12 123.98,287.78 124.35,293.55 124.71,292.71 125.08,285.51 125.44,279.66 125.80,284.53 126.17,284.44 126.53,284.28 126.90,285.23 127.26,291.00 127.63,286.81 127.99,286.49 128.36,287.59 128.72,291.56 129.09,291.05 129.45,289.47 129.82,288.99 130.18,287.53 130.55,288.29 130.91,285.19 131.27,284.55 131.64,288.63 132.00,289.27 132.37,287.11 132.73,288.50 133.10,284.35 133.46,287.15 133.83,286.62 134.19,285.49 134.56,289.29 134.92,285.29 135.29,286.95 135.65,289.07 136.02,290.11 136.38,293.16 136.74,293.89 137.11,287.16 137.47,287.88 137.84,288.65 138.20,287.88 138.57,286.58 138.93,289.37 139.30,289.34 139.66,288.16 140.03,285.75 140.39,286.47 140.76,283.36 141.12,286.51 141.48,288.41 141.85,292.02 142.21,290.50 142.58,288.06 142.94,289.09 143.31,289.43 143.67,291.38 144.04,291.27 144.40,290.77 144.77,289.53 145.13,285.91 145.50,285.40 145.86,284.03 146.23,282.59 146.59,285.85 146.95,282.90 147.32,284.53 147.68,288.64 148.05,288.81 148.41,287.51 148.78,290.36 149.14,282.13 149.51,283.77 149.87,282.23 150.24,286.49 150.60,285.27 150.97,284.16 151.33,286.04 151.70,284.35 152.06,284.37 152.42,283.51 152.79,287.07 153.15,284.63 153.52,285.47 153.88,287.36 154.25,291.71 154.61,288.97 154.98,288.10 155.34,280.91 155.71,286.28 156.07,282.32 156.44,280.99 156.80,282.48 157.16,283.69 157.53,283.73 157.89,288.73 158.26,284.11 158.62,286.18 158.99,288.31 159.35,287.61 159.72,294.15 160.08,293.94 160.45,293.19 160.81,293.65 161.18,288.41 161.54,283.14 161.91,284.33 162.27,285.63 162.63,284.55 163.00,285.95 163.36,284.94 163.73,283.63 164.09,284.43 164.46,285.17 164.82,284.21 165.19,283.64 165.55,281.69 165.92,286.03 166.28,287.10 166.65,285.95 167.01,282.83 167.37,285.57 167.74,280.60 168.10,277.43 168.47,281.12 168.83,278.55 169.20,285.33 169.56,283.84 169.93,286.91 170.29,281.84 170.66,279.94 171.02,279.89 171.39,282.64 171.75,285.45 172.12,283.07 172.48,284.26 172.84,281.97 173.21,286.53 173.57,283.85 173.94,282.36 174.30,288.68 174.67,289.55 175.03,288.73 175.40,288.20 175.76,290.88 176.13,288.04 176.49,289.62 176.86,287.94 177.22,291.61 177.59,291.97 177.95,287.64 178.31,291.61 178.68,289.56 179.04,285.00 179.41,284.46 179.77,289.63 180.14,283.55 180.50,287.56 180.87,286.01 181.23,285.31 181.60,288.29 181.96,287.56 182.33,295.77 182.69,292.83 183.05,291.12 183.42,291.54 183.78,290.59 184.15,287.78 184.51,286.70 184.88,290.06 185.24,288.24 185.61,286.38 185.97,288.10 186.34,288.29 186.70,295.44 187.07,296.85 187.43,292.73 187.80,295.34 188.16,290.82 188.52,287.79 188.89,291.63 189.25,294.00 189.62,292.80 189.98,291.16 190.35,288.87 190.71,290.35 191.08,290.44 191.44,293.06 191.81,291.21 192.17,292.91 192.54,289.37 192.90,288.36 193.27,293.68 193.63,291.42 193.99,293.89 194.36,290.01 194.72,293.05 195.09,288.87 195.45,287.28 195.82,284.30 196.18,286.85 196.55,288.83 196.91,286.93 197.28,292.05 197.64,291.69 198.01,292.21 198.37,291.83 198.73,295.44 199.10,297.50 199.46,298.61 199.83,291.29 200.19,292.12 200.56,290.16 200.92,291.05 201.29,291.79 201.65,288.35 202.02,295.62 202.38,294.07 202.75,294.70 203.11,295.37 203.48,297.43 203.84,298.28 204.20,297.88 204.57,292.00 204.93,293.50 205.30,293.70 205.66,293.09 206.03,290.82 206.39,288.67 206.76,289.69 207.12,290.68 207.49,289.90 207.85,292.79 208.22,291.74 208.58,287.56 208.95,291.29 209.31,293.68 209.67,296.57 210.04,294.08 210.40,291.43 210.77,292.72 211.13,293.13 211.50,289.61 211.86,290.70 212.23,289.61 212.59,291.70 212.96,288.64 213.32,288.08 213.69,290.42 214.05,292.71 214.41,286.10 214.78,291.75 215.14,294.31 215.51,299.38 215.87,294.06 216.24,292.96 216.60,292.79 216.97,296.29 217.33,294.23 217.70,295.21 218.06,296.65 218.43,295.09 218.79,292.96 219.16,293.04 219.52,293.97 219.88,291.40 220.25,291.34 220.61,292.83 220.98,291.26 221.34,291.17 221.71,289.62 222.07,289.08 222.44,289.04 222.80,292.32 223.17,289.26 223.53,288.53 223.90,291.98 224.26,289.31 224.62,290.84 224.99,294.31 225.35,293.69 225.72,296.47 226.08,291.92 226.45,295.56 226.81,290.67 227.18,293.98 227.54,293.87 227.91,290.44 228.27,291.06 228.64,296.35 229.00,295.34 229.37,299.05 229.73,294.82 230.09,296.94 230.46,295.76 230.82,295.34 231.19,298.58 231.55,295.73 231.92,290.81 232.28,295.03 232.65,296.38 233.01,294.78 233.38,291.97 233.74,295.76 234.11,295.08 234.47,294.40 234.84,292.42 235.20,296.10 235.56,289.92 235.93,287.87 236.29,295.00 236.66,297.09 237.02,295.21 237.39,296.64 237.75,296.99 238.12,295.79 238.48,296.91 238.85,297.09 239.21,295.07 239.58,295.48 239.94,293.73 240.30,291.08 240.67,289.51 241.03,291.14 241.40,287.07 241.76,290.94 242.13,289.65 242.49,286.67 242.86,289.05 243.22,288.63 243.59,291.50 243.95,293.08 244.32,291.93 244.68,290.76 245.05,290.48 245.41,289.62 245.77,290.04 246.14,291.26 246.50,293.17 246.87,292.91 247.23,292.40 247.60,292.31 247.96,294.90 248.33,290.47 248.69,288.69 249.06,289.92 249.42,292.27 249.79,289.62 250.15,291.54 250.52,292.55 250.88,291.03 251.24,293.07 251.61,292.45 251.97,293.65 252.34,291.60 252.70,291.03 253.07,290.06 253.43,290.26 253.80,290.64 254.16,290.71 254.53,289.76 254.89,293.56 255.26,295.99 255.62,294.20 255.98,293.10 256.35,293.55 256.71,289.56 257.08,290.07 257.44,288.44 257.81,290.45 258.17,295.02 258.54,297.31 258.90,292.55 259.27,292.68 259.63,294.04 260.00,290.45 260.36,287.63 260.73,289.44 261.09,288.20 261.45,291.45 261.82,294.62 262.18,297.93 262.55,292.98 262.91,296.88 263.28,296.09 263.64,294.57 264.01,292.59 264.37,297.53 264.74,296.08 265.10,296.76 265.47,291.64 265.83,293.07 266.20,294.92 266.56,290.16 266.92,291.48 267.29,290.58 267.65,291.23 268.02,292.69 268.38,291.22 268.75,293.99 269.11,296.95 269.48,296.65 269.84,293.38 270.21,294.15 270.57,291.03 270.94,290.28 271.30,291.10 271.66,289.34 272.03,290.17 272.39,290.71 272.76,292.38 273.12,292.78 273.49,292.88 273.85,290.20 274.22,287.57 274.58,287.42 274.95,289.33 275.31,291.14 275.68,291.12 276.04,293.07 276.41,292.68 276.77,293.22 277.13,292.76 277.50,298.11 277.86,295.08 278.23,291.96 278.59,294.52 278.96,288.97 279.32,290.05 279.69,292.26 280.05,288.60 280.42,292.42 280.78,285.52 281.15,290.25 281.51,288.63 281.88,286.62 282.24,287.35 282.60,289.04 282.97,291.87 283.33,291.91 283.70,291.03 284.06,288.74 284.43,295.23 284.79,291.68 285.16,294.04 285.52,293.98 285.89,292.69 286.25,293.29 286.62,290.60 286.98,294.59 287.34,291.52 287.71,293.53 288.07,292.95 288.44,291.95 288.80,294.61 289.17,291.55 289.53,285.90 289.90,289.70 290.26,292.16 290.63,287.62 290.99,284.94 291.36,292.47 291.72,292.17 292.09,293.06 292.45,291.16 292.81,290.82 293.18,292.81 293.54,292.41 293.91,288.49 294.27,291.39 294.64,290.03 295.00,288.31 295.37,284.76 295.73,286.03 296.10,287.04 296.46,290.33 296.83,289.04 297.19,285.73 297.55,286.12 297.92,284.41 298.28,287.56 298.65,286.06 299.01,287.73 299.38,289.58 299.74,290.26 300.11,286.18 300.47,285.54 300.84,286.99 301.20,287.84 301.57,285.65 301.93,287.49 302.30,284.58 302.66,285.02 303.02,287.27 303.39,287.43 303.75,289.52 304.12,290.56 304.48,289.65 304.85,289.10 305.21,288.46 305.58,289.02 305.94,289.03 306.31,286.59 306.67,289.28 307.04,293.43 307.40,285.31 307.77,285.01 308.13,284.61 308.49,282.00 308.86,280.73 309.22,279.44 309.59,280.00 309.95,280.74 310.32,281.81 310.68,283.82 311.05,284.84 311.41,293.68 311.78,285.57 312.14,285.76 312.51,287.98 312.87,283.96 313.23,286.43 313.60,285.09 313.96,287.40 314.33,289.30 314.69,284.82 315.06,284.95 315.42,289.10 315.79,285.87 316.15,283.70 316.52,285.48 316.88,284.01 317.25,281.88 317.61,281.29 317.98,282.38 318.34,282.68 318.70,280.87 319.07,283.45 319.43,286.00 319.80,287.37 320.16,279.75 320.53,286.21 320.89,287.05 321.26,292.05 321.62,290.30 321.99,289.87 322.35,289.51 322.72,287.36" fill="none" stroke="#ec2434" stroke-width="1.05" stroke-linejoin="round"/>
</g>
<rect x="28.1" y="266" width="308.7" height="89.69999999999999" fill="none" stroke="#8a8a8a" stroke-width="1.5"/>
<line x1="24.1" y1="351.7" x2="28.1" y2="351.7" stroke="#333" stroke-width="0.9"/>
<text x="22.1" y="354.6" font-size="9" text-anchor="end" fill="#222">0</text>
<line x1="24.1" y1="313.5" x2="28.1" y2="313.5" stroke="#333" stroke-width="0.9"/>
<text x="22.1" y="316.4" font-size="9" text-anchor="end" fill="#222">2</text>
<line x1="24.1" y1="275.3" x2="28.1" y2="275.3" stroke="#333" stroke-width="0.9"/>
<text x="22.1" y="278.2" font-size="9" text-anchor="end" fill="#222">4</text>
<line x1="42.3" y1="355.7" x2="42.3" y2="359.7" stroke="#333" stroke-width="0.9"/>
<text x="42.3" y="368.9" font-size="9" text-anchor="middle" fill="#222">0</text>
<line x1="98.4" y1="355.7" x2="98.4" y2="359.7" stroke="#333" stroke-width="0.9"/>
<text x="98.4" y="368.9" font-size="9" text-anchor="middle" fill="#222">200</text>
<line x1="154.5" y1="355.7" x2="154.5" y2="359.7" stroke="#333" stroke-width="0.9"/>
<text x="154.5" y="368.9" font-size="9" text-anchor="middle" fill="#222">400</text>
<line x1="210.6" y1="355.7" x2="210.6" y2="359.7" stroke="#333" stroke-width="0.9"/>
<text x="210.6" y="368.9" font-size="9" text-anchor="middle" fill="#222">600</text>
<line x1="266.7" y1="355.7" x2="266.7" y2="359.7" stroke="#333" stroke-width="0.9"/>
<text x="266.7" y="368.9" font-size="9" text-anchor="middle" fill="#222">800</text>
<line x1="322.8" y1="355.7" x2="322.8" y2="359.7" stroke="#333" stroke-width="0.9"/>
<text x="322.8" y="368.9" font-size="9" text-anchor="middle" fill="#222">1000</text>
<line x1="70.3" y1="355.7" x2="70.3" y2="359.7" stroke="#555" stroke-width="0.9"/>
<line x1="126.5" y1="355.7" x2="126.5" y2="359.7" stroke="#555" stroke-width="0.9"/>
<line x1="182.6" y1="355.7" x2="182.6" y2="359.7" stroke="#555" stroke-width="0.9"/>
<line x1="238.7" y1="355.7" x2="238.7" y2="359.7" stroke="#555" stroke-width="0.9"/>
<line x1="294.8" y1="355.7" x2="294.8" y2="359.7" stroke="#555" stroke-width="0.9"/>
<text x="162.7" y="379.7" font-size="9.7" fill="#222"><tspan font-style="italic">Time</tspan> (ns)</text>
<text x="11.4" y="310.9" font-size="9.8" text-anchor="middle" fill="#222" font-style="italic" transform="rotate(-90 11.4 310.9)">RMSD (Å)</text>
<line x1="182.5" y1="344" x2="193.2" y2="344" stroke="#2b3b9b" stroke-width="1.2"/>
<text x="196.0" y="346.9" font-size="8.2" text-anchor="start" fill="#222">CTR1 + Cu</text>
<line x1="245" y1="344" x2="256" y2="344" stroke="#ec2434" stroke-width="1.2"/>
<text x="259.0" y="346.9" font-size="8.2" text-anchor="start" fill="#222">CTR1 (M150L) + Cu</text>
<text x="-0.4" y="268.7" font-size="9" text-anchor="start" fill="#111" font-weight="bold">b</text>
<clipPath id="clipc"><rect x="28.45" y="399.7" width="308.35" height="89.5"/></clipPath>
<g clip-path="url(#clipc)">
<polyline points="42.40,485.60 42.80,473.20 43.20,463.76 43.60,460.27 44.01,458.90 44.41,460.20 44.81,455.36 45.21,453.99 45.61,451.09 46.01,452.53 46.41,451.75 46.82,452.31 47.22,453.16 47.62,452.04 48.02,453.57 48.42,452.75 48.82,450.53 49.22,450.29 49.63,450.78 50.03,446.74 50.43,447.97 50.83,449.46 51.23,448.88 51.63,449.53 52.03,449.50 52.43,449.28 52.84,445.09 53.24,445.96 53.64,445.93 54.04,444.90 54.44,442.02 54.84,443.93 55.24,445.29 55.65,440.83 56.05,444.63 56.45,444.57 56.85,442.67 57.25,438.93 57.65,441.97 58.05,445.63 58.46,442.32 58.86,442.32 59.26,441.89 59.66,440.10 60.06,439.36 60.46,438.66 60.86,439.24 61.27,436.57 61.67,434.66 62.07,435.83 62.47,436.97 62.87,435.63 63.27,435.25 63.67,437.35 64.08,437.37 64.48,434.85 64.88,435.30 65.28,435.77 65.68,435.03 66.08,434.93 66.48,434.71 66.89,437.55 67.29,432.99 67.69,433.06 68.09,434.69 68.49,432.43 68.89,432.25 69.29,432.53 69.70,431.00 70.10,428.23 70.50,429.49 70.90,428.41 71.30,426.89 71.70,431.11 72.10,432.35 72.51,430.84 72.91,433.96 73.31,433.16 73.71,430.21 74.11,429.06 74.51,429.15 74.91,433.05 75.31,428.19 75.72,428.54 76.12,428.36 76.52,428.69 76.92,432.34 77.32,433.69 77.72,433.99 78.12,429.13 78.53,431.04 78.93,431.03 79.33,431.02 79.73,429.67 80.13,429.08 80.53,429.12 80.93,431.55 81.34,435.72 81.74,432.52 82.14,430.73 82.54,428.27 82.94,429.14 83.34,430.35 83.74,429.30 84.15,431.88 84.55,432.32 84.95,432.45 85.35,430.44 85.75,426.53 86.15,426.66 86.55,426.10 86.96,427.22 87.36,427.69 87.76,429.05 88.16,429.44 88.56,433.02 88.96,432.83 89.36,432.84 89.77,429.44 90.17,427.99 90.57,426.47 90.97,425.03 91.37,427.24 91.77,426.15 92.17,424.15 92.58,426.24 92.98,425.57 93.38,427.23 93.78,430.36 94.18,429.17 94.58,430.07 94.98,429.04 95.38,429.44 95.79,428.39 96.19,431.77 96.59,426.75 96.99,425.39 97.39,427.43 97.79,429.34 98.19,428.85 98.60,427.53 99.00,427.27 99.40,427.18 99.80,430.90 100.20,431.43 100.60,427.76 101.00,427.68 101.41,430.44 101.81,430.78 102.21,431.87 102.61,431.74 103.01,428.17 103.41,428.62 103.81,426.69 104.22,427.22 104.62,430.21 105.02,430.33 105.42,425.65 105.82,428.24 106.22,429.99 106.62,427.18 107.03,427.63 107.43,428.00 107.83,425.81 108.23,429.93 108.63,428.47 109.03,430.12 109.43,431.49 109.84,431.18 110.24,427.81 110.64,428.19 111.04,431.10 111.44,431.35 111.84,427.17 112.24,425.86 112.64,428.62 113.05,424.26 113.45,426.58 113.85,429.06 114.25,428.55 114.65,426.52 115.05,424.39 115.45,424.23 115.86,426.49 116.26,427.81 116.66,429.90 117.06,428.67 117.46,428.87 117.86,427.58 118.26,429.36 118.67,429.00 119.07,429.39 119.47,430.08 119.87,430.36 120.27,430.21 120.67,430.37 121.07,427.57 121.48,426.91 121.88,428.86 122.28,426.82 122.68,426.14 123.08,423.86 123.48,425.39 123.88,426.15 124.29,427.28 124.69,426.49 125.09,425.47 125.49,425.45 125.89,426.11 126.29,425.09 126.69,425.33 127.10,425.18 127.50,427.01 127.90,426.05 128.30,427.50 128.70,427.97 129.10,426.54 129.50,422.65 129.91,422.49 130.31,424.00 130.71,425.04 131.11,423.64 131.51,422.28 131.91,421.84 132.31,423.89 132.71,424.29 133.12,425.31 133.52,425.73 133.92,426.85 134.32,426.40 134.72,429.26 135.12,429.12 135.52,426.38 135.93,427.20 136.33,425.20 136.73,427.16 137.13,426.62 137.53,425.09 137.93,426.63 138.33,426.86 138.74,421.77 139.14,424.34 139.54,425.64 139.94,426.06 140.34,425.26 140.74,424.94 141.14,423.12 141.55,422.50 141.95,424.12 142.35,424.83 142.75,426.89 143.15,428.02 143.55,427.33 143.95,424.58 144.36,424.17 144.76,422.83 145.16,421.91 145.56,423.22 145.96,420.17 146.36,422.89 146.76,424.39 147.17,424.80 147.57,422.43 147.97,423.30 148.37,424.69 148.77,423.45 149.17,421.67 149.57,422.78 149.98,423.54 150.38,421.72 150.78,420.95 151.18,420.61 151.58,423.19 151.98,422.75 152.38,422.38 152.78,425.68 153.19,422.44 153.59,422.58 153.99,423.34 154.39,419.47 154.79,420.95 155.19,423.07 155.59,423.05 156.00,421.99 156.40,421.01 156.80,421.90 157.20,423.62 157.60,424.17 158.00,424.61 158.40,425.17 158.81,423.74 159.21,423.76 159.61,422.84 160.01,423.78 160.41,424.28 160.81,423.38 161.21,423.17 161.62,420.59 162.02,422.60 162.42,421.77 162.82,421.71 163.22,423.71 163.62,421.37 164.02,421.07 164.43,424.56 164.83,421.89 165.23,419.97 165.63,421.80 166.03,418.63 166.43,419.51 166.83,422.03 167.24,420.47 167.64,421.16 168.04,423.05 168.44,425.27 168.84,422.47 169.24,422.62 169.64,420.44 170.05,419.77 170.45,420.89 170.85,421.46 171.25,418.01 171.65,416.36 172.05,417.08 172.45,419.22 172.85,421.30 173.26,421.36 173.66,418.05 174.06,418.34 174.46,419.68 174.86,421.86 175.26,420.68 175.66,421.78 176.07,420.87 176.47,419.22 176.87,417.85 177.27,418.66 177.67,419.83 178.07,419.49 178.47,416.75 178.88,417.68 179.28,421.01 179.68,417.88 180.08,418.41 180.48,413.44 180.88,417.33 181.28,418.66 181.69,419.64 182.09,419.03 182.49,420.26 182.89,422.31 183.29,423.96 183.69,421.81 184.09,421.30 184.50,421.10 184.90,416.57 185.30,416.39 185.70,415.76 186.10,417.96 186.50,417.71 186.90,418.35 187.31,418.59 187.71,417.12 188.11,416.56 188.51,416.70 188.91,416.96 189.31,419.61 189.71,419.73 190.12,417.92 190.52,418.17 190.92,418.90 191.32,417.37 191.72,418.61 192.12,418.77 192.52,416.27 192.92,416.97 193.33,414.38 193.73,414.48 194.13,414.01 194.53,413.20 194.93,418.05 195.33,417.05 195.73,418.45 196.14,417.75 196.54,416.86 196.94,414.27 197.34,415.07 197.74,412.76 198.14,415.12 198.54,415.55 198.95,415.54 199.35,414.17 199.75,415.10 200.15,416.49 200.55,416.74 200.95,418.60 201.35,415.25 201.76,414.42 202.16,414.52 202.56,414.84 202.96,416.42 203.36,416.91 203.76,415.21 204.16,416.94 204.57,417.81 204.97,414.45 205.37,412.82 205.77,414.05 206.17,414.29 206.57,414.98 206.97,413.35 207.38,415.55 207.78,415.82 208.18,415.31 208.58,413.54 208.98,415.38 209.38,415.54 209.78,416.77 210.19,417.60 210.59,417.99 210.99,416.97 211.39,415.15 211.79,416.75 212.19,417.38 212.59,417.36 212.99,416.11 213.40,414.90 213.80,417.40 214.20,416.06 214.60,417.52 215.00,415.49 215.40,417.14 215.80,418.13 216.21,418.01 216.61,416.88 217.01,417.79 217.41,416.29 217.81,415.62 218.21,415.36 218.61,414.91 219.02,413.69 219.42,415.63 219.82,415.40 220.22,415.31 220.62,418.48 221.02,416.14 221.42,416.79 221.83,417.01 222.23,416.67 222.63,415.60 223.03,414.67 223.43,413.94 223.83,415.43 224.23,413.93 224.64,413.60 225.04,414.70 225.44,414.64 225.84,413.27 226.24,413.15 226.64,412.65 227.04,413.32 227.45,411.98 227.85,409.56 228.25,411.14 228.65,415.19 229.05,411.88 229.45,413.87 229.85,416.16 230.26,418.93 230.66,415.89 231.06,413.33 231.46,412.22 231.86,413.90 232.26,411.84 232.66,413.27 233.06,414.82 233.47,414.57 233.87,414.24 234.27,414.36 234.67,413.89 235.07,417.80 235.47,413.79 235.87,415.21 236.28,414.01 236.68,415.74 237.08,415.10 237.48,415.34 237.88,417.72 238.28,415.81 238.68,414.48 239.09,416.62 239.49,419.27 239.89,418.32 240.29,418.17 240.69,416.61 241.09,416.06 241.49,413.21 241.90,413.35 242.30,414.88 242.70,415.00 243.10,419.93 243.50,419.19 243.90,418.82 244.30,417.33 244.71,415.88 245.11,415.31 245.51,413.85 245.91,415.69 246.31,415.01 246.71,415.34 247.11,415.26 247.52,414.71 247.92,415.37 248.32,414.90 248.72,415.04 249.12,413.41 249.52,414.38 249.92,414.18 250.33,410.42 250.73,411.66 251.13,412.43 251.53,411.91 251.93,414.93 252.33,413.70 252.73,413.00 253.14,413.13 253.54,412.32 253.94,412.20 254.34,411.48 254.74,414.00 255.14,413.54 255.54,414.85 255.94,412.65 256.35,413.28 256.75,415.85 257.15,414.88 257.55,416.15 257.95,413.61 258.35,414.42 258.75,417.74 259.16,416.52 259.56,413.66 259.96,413.30 260.36,414.61 260.76,413.21 261.16,412.59 261.56,410.84 261.97,410.83 262.37,411.65 262.77,413.86 263.17,413.24 263.57,412.87 263.97,413.11 264.37,412.56 264.78,414.80 265.18,413.11 265.58,413.13 265.98,412.55 266.38,412.96 266.78,413.45 267.18,412.79 267.59,411.60 267.99,412.72 268.39,412.23 268.79,413.68 269.19,412.51 269.59,412.53 269.99,414.56 270.40,411.68 270.80,413.46 271.20,412.79 271.60,414.63 272.00,416.18 272.40,413.15 272.80,414.86 273.21,416.75 273.61,414.73 274.01,415.80 274.41,414.18 274.81,410.13 275.21,411.58 275.61,411.10 276.01,410.50 276.42,410.68 276.82,411.26 277.22,408.92 277.62,410.18 278.02,410.07 278.42,410.33 278.82,412.60 279.23,411.14 279.63,410.76 280.03,409.58 280.43,408.85 280.83,407.05 281.23,411.54 281.63,411.61 282.04,411.45 282.44,411.92 282.84,410.08 283.24,409.87 283.64,409.36 284.04,411.83 284.44,411.94 284.85,410.53 285.25,410.36 285.65,410.46 286.05,409.68 286.45,409.48 286.85,410.70 287.25,407.10 287.66,409.03 288.06,407.96 288.46,407.55 288.86,406.82 289.26,408.92 289.66,410.68 290.06,409.36 290.47,409.02 290.87,413.02 291.27,415.47 291.67,413.49 292.07,412.30 292.47,411.56 292.87,410.17 293.28,411.69 293.68,406.82 294.08,407.17 294.48,406.77 294.88,408.24 295.28,412.71 295.68,411.35 296.08,411.96 296.49,410.76 296.89,410.99 297.29,409.85 297.69,411.70 298.09,411.80 298.49,411.26 298.89,412.17 299.30,412.14 299.70,410.44 300.10,407.51 300.50,409.40 300.90,408.70 301.30,411.42 301.70,411.70 302.11,410.59 302.51,409.64 302.91,411.66 303.31,410.11 303.71,410.04 304.11,408.16 304.51,407.80 304.92,408.22 305.32,409.90 305.72,409.69 306.12,411.33 306.52,412.09 306.92,414.06 307.32,414.18 307.73,414.18 308.13,412.33 308.53,411.08 308.93,412.70 309.33,411.55 309.73,410.18 310.13,408.70 310.54,409.65 310.94,409.68 311.34,410.68 311.74,409.19 312.14,412.38 312.54,411.21 312.94,414.68 313.35,410.15 313.75,409.16 314.15,413.46 314.55,413.19 314.95,414.49 315.35,415.74 315.75,414.29 316.15,414.35 316.56,411.42 316.96,412.45 317.36,413.93 317.76,413.11 318.16,411.98 318.56,410.82 318.96,410.78 319.37,413.94 319.77,414.52 320.17,413.85 320.57,414.59 320.97,412.54 321.37,413.25 321.77,413.24 322.18,413.75 322.58,413.41 322.98,415.70 323.38,411.26" fill="none" stroke="#2b3b9b" stroke-width="1.05" stroke-linejoin="round"/>
<polyline points="42.40,485.60 42.80,470.34 43.20,458.68 43.60,454.22 44.01,451.69 44.41,449.37 44.81,445.56 45.21,444.27 45.61,442.87 46.01,444.32 46.41,445.11 46.82,446.19 47.22,450.29 47.62,447.96 48.02,447.29 48.42,447.00 48.82,450.72 49.22,452.70 49.63,452.23 50.03,451.29 50.43,449.50 50.83,449.25 51.23,448.16 51.63,449.69 52.03,448.82 52.43,448.27 52.84,449.38 53.24,445.55 53.64,445.46 54.04,444.08 54.44,446.35 54.84,447.48 55.24,447.14 55.65,446.34 56.05,444.43 56.45,443.94 56.85,444.69 57.25,445.74 57.65,445.29 58.05,441.81 58.46,443.40 58.86,442.14 59.26,440.96 59.66,443.47 60.06,441.79 60.46,438.51 60.86,442.45 61.27,441.21 61.67,439.98 62.07,440.37 62.47,438.03 62.87,437.60 63.27,439.59 63.67,436.34 64.08,434.76 64.48,433.24 64.88,431.38 65.28,432.10 65.68,432.64 66.08,435.29 66.48,433.15 66.89,434.08 67.29,434.13 67.69,435.43 68.09,435.41 68.49,434.50 68.89,430.72 69.29,434.49 69.70,435.23 70.10,432.49 70.50,428.87 70.90,428.43 71.30,432.40 71.70,435.33 72.10,431.62 72.51,431.53 72.91,432.44 73.31,429.30 73.71,427.59 74.11,428.45 74.51,428.80 74.91,428.72 75.31,426.72 75.72,427.50 76.12,428.14 76.52,428.47 76.92,432.42 77.32,429.47 77.72,428.65 78.12,429.05 78.53,433.70 78.93,433.75 79.33,431.20 79.73,434.48 80.13,433.25 80.53,430.51 80.93,433.19 81.34,429.40 81.74,429.33 82.14,430.50 82.54,430.23 82.94,429.50 83.34,430.04 83.74,428.49 84.15,430.86 84.55,431.58 84.95,429.37 85.35,430.02 85.75,431.91 86.15,429.63 86.55,427.56 86.96,429.84 87.36,432.60 87.76,431.77 88.16,431.36 88.56,431.39 88.96,428.40 89.36,431.14 89.77,428.48 90.17,431.55 90.57,432.22 90.97,430.05 91.37,428.08 91.77,427.53 92.17,428.14 92.58,428.77 92.98,429.07 93.38,428.48 93.78,429.48 94.18,429.18 94.58,428.51 94.98,429.16 95.38,428.14 95.79,427.97 96.19,425.35 96.59,426.98 96.99,429.10 97.39,430.05 97.79,429.89 98.19,428.16 98.60,429.49 99.00,428.88 99.40,426.03 99.80,432.30 100.20,432.90 100.60,430.80 101.00,429.47 101.41,429.07 101.81,430.04 102.21,428.61 102.61,428.54 103.01,429.90 103.41,425.41 103.81,426.78 104.22,429.05 104.62,429.38 105.02,429.75 105.42,429.65 105.82,434.25 106.22,432.62 106.62,429.18 107.03,431.25 107.43,430.36 107.83,428.11 108.23,427.15 108.63,425.55 109.03,430.33 109.43,430.33 109.84,430.25 110.24,428.48 110.64,426.74 111.04,432.44 111.44,428.65 111.84,431.15 112.24,428.64 112.64,431.15 113.05,429.45 113.45,426.78 113.85,427.76 114.25,427.61 114.65,426.44 115.05,426.97 115.45,427.59 115.86,425.03 116.26,424.56 116.66,426.63 117.06,422.32 117.46,426.93 117.86,425.59 118.26,426.95 118.67,426.89 119.07,425.82 119.47,426.10 119.87,425.47 120.27,428.90 120.67,430.55 121.07,427.62 121.48,428.88 121.88,429.58 122.28,430.67 122.68,426.39 123.08,425.12 123.48,423.17 123.88,426.38 124.29,426.30 124.69,428.22 125.09,425.81 125.49,423.13 125.89,426.08 126.29,423.16 126.69,422.58 127.10,424.24 127.50,428.11 127.90,424.04 128.30,424.54 128.70,425.58 129.10,424.25 129.50,423.47 129.91,421.09 130.31,424.20 130.71,421.89 131.11,420.03 131.51,419.06 131.91,421.34 132.31,423.37 132.71,421.21 133.12,421.61 133.52,421.70 133.92,419.37 134.32,421.07 134.72,425.16 135.12,423.63 135.52,425.20 135.93,421.09 136.33,419.69 136.73,420.39 137.13,419.47 137.53,417.31 137.93,417.33 138.33,414.93 138.74,415.94 139.14,414.29 139.54,412.62 139.94,411.74 140.34,415.30 140.74,414.38 141.14,418.75 141.55,419.56 141.95,421.52 142.35,417.21 142.75,419.09 143.15,417.91 143.55,417.64 143.95,417.24 144.36,418.03 144.76,416.99 145.16,413.76 145.56,415.22 145.96,415.10 146.36,414.24 146.76,415.91 147.17,418.62 147.57,418.75 147.97,415.98 148.37,419.37 148.77,419.24 149.17,416.38 149.57,415.33 149.98,416.20 150.38,415.25 150.78,415.90 151.18,418.59 151.58,420.62 151.98,420.03 152.38,417.02 152.78,418.12 153.19,419.45 153.59,419.97 153.99,421.66 154.39,420.13 154.79,421.31 155.19,419.30 155.59,423.16 156.00,420.48 156.40,420.93 156.80,423.53 157.20,420.26 157.60,420.46 158.00,424.08 158.40,423.62 158.81,421.44 159.21,421.76 159.61,419.79 160.01,418.83 160.41,418.51 160.81,418.96 161.21,417.44 161.62,417.87 162.02,418.47 162.42,423.22 162.82,420.39 163.22,418.28 163.62,420.04 164.02,421.24 164.43,417.65 164.83,422.33 165.23,420.79 165.63,416.62 166.03,420.41 166.43,419.50 166.83,416.96 167.24,419.22 167.64,419.17 168.04,418.57 168.44,421.44 168.84,421.47 169.24,420.83 169.64,419.59 170.05,420.49 170.45,421.23 170.85,423.05 171.25,422.82 171.65,420.53 172.05,420.78 172.45,422.58 172.85,423.48 173.26,417.80 173.66,417.64 174.06,418.46 174.46,424.52 174.86,421.95 175.26,420.92 175.66,418.31 176.07,419.22 176.47,420.55 176.87,420.19 177.27,424.34 177.67,421.22 178.07,420.91 178.47,422.56 178.88,419.86 179.28,417.67 179.68,422.20 180.08,423.20 180.48,422.03 180.88,421.65 181.28,422.48 181.69,423.92 182.09,419.24 182.49,418.81 182.89,422.50 183.29,424.63 183.69,420.37 184.09,419.50 184.50,417.63 184.90,418.47 185.30,421.84 185.70,421.56 186.10,425.67 186.50,425.26 186.90,423.86 187.31,422.16 187.71,423.51 188.11,423.14 188.51,421.95 188.91,421.50 189.31,420.84 189.71,421.27 190.12,422.43 190.52,421.07 190.92,421.70 191.32,423.56 191.72,424.15 192.12,423.36 192.52,423.17 192.92,422.62 193.33,422.63 193.73,422.34 194.13,422.75 194.53,424.93 194.93,423.10 195.33,421.09 195.73,421.18 196.14,422.33 196.54,421.70 196.94,423.78 197.34,426.38 197.74,424.21 198.14,424.79 198.54,422.10 198.95,423.89 199.35,427.42 199.75,426.35 200.15,421.18 200.55,421.96 200.95,424.02 201.35,423.93 201.76,421.57 202.16,420.38 202.56,420.29 202.96,417.89 203.36,417.99 203.76,419.26 204.16,418.75 204.57,416.59 204.97,416.64 205.37,416.52 205.77,420.08 206.17,420.17 206.57,418.61 206.97,419.57 207.38,417.61 207.78,417.39 208.18,416.67 208.58,418.22 208.98,414.11 209.38,414.27 209.78,416.85 210.19,417.57 210.59,413.50 210.99,416.55 211.39,415.90 211.79,415.34 212.19,416.72 212.59,419.41 212.99,418.34 213.40,417.46 213.80,415.62 214.20,415.26 214.60,416.36 215.00,415.42 215.40,415.44 215.80,415.99 216.21,416.48 216.61,417.20 217.01,415.89 217.41,418.23 217.81,418.61 218.21,417.64 218.61,419.68 219.02,418.85 219.42,421.14 219.82,419.92 220.22,417.07 220.62,415.60 221.02,415.91 221.42,416.32 221.83,418.55 222.23,413.95 222.63,413.89 223.03,412.81 223.43,415.67 223.83,415.84 224.23,418.73 224.64,415.58 225.04,413.69 225.44,417.65 225.84,416.35 226.24,414.47 226.64,417.66 227.04,419.32 227.45,418.77 227.85,417.68 228.25,418.45 228.65,416.27 229.05,414.76 229.45,413.28 229.85,412.44 230.26,410.73 230.66,410.51 231.06,414.78 231.46,415.55 231.86,416.96 232.26,417.74 232.66,416.43 233.06,415.68 233.47,414.50 233.87,417.59 234.27,418.57 234.67,416.99 235.07,416.55 235.47,416.58 235.87,416.20 236.28,417.28 236.68,415.31 237.08,414.98 237.48,415.64 237.88,417.04 238.28,416.91 238.68,421.36 239.09,420.58 239.49,418.46 239.89,420.14 240.29,418.05 240.69,417.14 241.09,419.41 241.49,418.61 241.90,418.37 242.30,416.95 242.70,416.02 243.10,416.74 243.50,418.40 243.90,417.96 244.30,417.57 244.71,415.93 245.11,415.85 245.51,417.55 245.91,419.48 246.31,418.68 246.71,418.89 247.11,419.61 247.52,418.19 247.92,418.11 248.32,416.98 248.72,415.65 249.12,416.59 249.52,412.24 249.92,414.65 250.33,413.33 250.73,414.35 251.13,413.09 251.53,418.53 251.93,418.37 252.33,416.51 252.73,414.92 253.14,411.06 253.54,412.61 253.94,411.68 254.34,412.08 254.74,411.92 255.14,412.58 255.54,414.03 255.94,413.56 256.35,416.06 256.75,413.28 257.15,415.65 257.55,414.55 257.95,410.65 258.35,412.73 258.75,413.28 259.16,411.48 259.56,412.50 259.96,414.39 260.36,413.40 260.76,412.27 261.16,411.41 261.56,413.50 261.97,410.06 262.37,408.42 262.77,410.41 263.17,410.89 263.57,412.28 263.97,409.68 264.37,412.02 264.78,410.70 265.18,411.99 265.58,412.94 265.98,410.87 266.38,408.69 266.78,409.88 267.18,411.57 267.59,409.74 267.99,410.25 268.39,409.81 268.79,407.40 269.19,406.81 269.59,409.33 269.99,405.74 270.40,408.20 270.80,408.19 271.20,410.81 271.60,411.20 272.00,414.50 272.40,410.10 272.80,408.76 273.21,412.73 273.61,415.35 274.01,416.99 274.41,413.04 274.81,414.06 275.21,414.00 275.61,414.53 276.01,414.59 276.42,416.44 276.82,415.55 277.22,417.79 277.62,416.64 278.02,415.53 278.42,414.83 278.82,415.82 279.23,417.63 279.63,416.79 280.03,417.53 280.43,414.17 280.83,413.85 281.23,415.21 281.63,416.48 282.04,417.48 282.44,418.36 282.84,417.75 283.24,416.28 283.64,415.13 284.04,414.43 284.44,411.37 284.85,414.71 285.25,415.09 285.65,410.39 286.05,416.16 286.45,416.66 286.85,415.67 287.25,415.17 287.66,414.44 288.06,415.18 288.46,414.46 288.86,414.61 289.26,413.40 289.66,417.42 290.06,417.63 290.47,416.13 290.87,417.13 291.27,417.61 291.67,414.87 292.07,415.69 292.47,413.81 292.87,412.63 293.28,412.75 293.68,412.42 294.08,413.27 294.48,415.94 294.88,414.81 295.28,413.35 295.68,414.29 296.08,413.96 296.49,412.27 296.89,414.22 297.29,412.49 297.69,409.44 298.09,412.09 298.49,412.15 298.89,412.65 299.30,409.89 299.70,410.61 300.10,409.90 300.50,412.28 300.90,412.24 301.30,412.16 301.70,415.16 302.11,410.99 302.51,409.80 302.91,413.79 303.31,411.38 303.71,411.66 304.11,410.73 304.51,410.37 304.92,413.40 305.32,412.62 305.72,409.20 306.12,411.05 306.52,412.72 306.92,414.24 307.32,414.86 307.73,412.51 308.13,409.03 308.53,409.56 308.93,410.21 309.33,407.12 309.73,410.45 310.13,412.46 310.54,411.42 310.94,410.93 311.34,413.48 311.74,415.09 312.14,413.40 312.54,412.70 312.94,415.13 313.35,414.48 313.75,414.81 314.15,413.29 314.55,413.60 314.95,413.76 315.35,414.38 315.75,412.29 316.15,410.71 316.56,413.07 316.96,412.23 317.36,414.72 317.76,414.61 318.16,413.46" fill="none" stroke="#ec2434" stroke-width="1.05" stroke-linejoin="round"/>
</g>
<rect x="28.45" y="399.7" width="308.35" height="89.5" fill="none" stroke="#3d3d3d" stroke-width="1.1"/>
<line x1="24.45" y1="485.6" x2="28.45" y2="485.6" stroke="#333" stroke-width="0.9"/>
<text x="22.4" y="488.5" font-size="9" text-anchor="end" fill="#222">0</text>
<line x1="24.45" y1="453.8" x2="28.45" y2="453.8" stroke="#333" stroke-width="0.9"/>
<text x="22.4" y="456.7" font-size="9" text-anchor="end" fill="#222">2</text>
<line x1="24.45" y1="422.0" x2="28.45" y2="422.0" stroke="#333" stroke-width="0.9"/>
<text x="22.4" y="424.9" font-size="9" text-anchor="end" fill="#222">4</text>
<line x1="42.4" y1="489.2" x2="42.4" y2="493.2" stroke="#333" stroke-width="0.9"/>
<text x="42.4" y="502.6" font-size="9" text-anchor="middle" fill="#222">0</text>
<line x1="109.3" y1="489.2" x2="109.3" y2="493.2" stroke="#333" stroke-width="0.9"/>
<text x="109.3" y="502.6" font-size="9" text-anchor="middle" fill="#222">200</text>
<line x1="176.2" y1="489.2" x2="176.2" y2="493.2" stroke="#333" stroke-width="0.9"/>
<text x="176.2" y="502.6" font-size="9" text-anchor="middle" fill="#222">400</text>
<line x1="243.1" y1="489.2" x2="243.1" y2="493.2" stroke="#333" stroke-width="0.9"/>
<text x="243.1" y="502.6" font-size="9" text-anchor="middle" fill="#222">600</text>
<line x1="310.0" y1="489.2" x2="310.0" y2="493.2" stroke="#333" stroke-width="0.9"/>
<text x="310.0" y="502.6" font-size="9" text-anchor="middle" fill="#222">800</text>
<line x1="75.8" y1="489.2" x2="75.8" y2="493.2" stroke="#555" stroke-width="0.9"/>
<line x1="142.8" y1="489.2" x2="142.8" y2="493.2" stroke="#555" stroke-width="0.9"/>
<line x1="209.7" y1="489.2" x2="209.7" y2="493.2" stroke="#555" stroke-width="0.9"/>
<line x1="276.6" y1="489.2" x2="276.6" y2="493.2" stroke="#555" stroke-width="0.9"/>
<text x="162.7" y="513.5" font-size="9.7" fill="#222"><tspan font-style="italic">Time</tspan> (ns)</text>
<text x="11.4" y="444.4" font-size="9.8" text-anchor="middle" fill="#222" font-style="italic" transform="rotate(-90 11.4 444.4)">RMSD (Å)</text>
<line x1="182.5" y1="478.2" x2="193.2" y2="478.2" stroke="#2b3b9b" stroke-width="1.2"/>
<text x="196.0" y="481.1" font-size="8.2" text-anchor="start" fill="#222">CTR1</text>
<line x1="245" y1="478.2" x2="256" y2="478.2" stroke="#ec2434" stroke-width="1.2"/>
<text x="259.0" y="481.1" font-size="8.2" text-anchor="start" fill="#222">CTR1 (M150L)</text>
<text x="-0.4" y="402.4" font-size="9" text-anchor="start" fill="#111" font-weight="bold">c</text>
<rect x="421.1" y="266.0" width="25.7" height="89.80000000000001" fill="#cfd0d2"/>
<rect x="516.7" y="266.0" width="25.2" height="89.80000000000001" fill="#cfd0d2"/>
<rect x="610.7" y="266.0" width="25.9" height="89.80000000000001" fill="#cfd0d2"/>
<rect x="476" y="266.0" width="7.7" height="89.80000000000001" fill="#e3e5e5"/>
<rect x="570.2" y="266.0" width="7.3" height="89.80000000000001" fill="#e3e5e5"/>
<rect x="664.2" y="266.0" width="7.5" height="89.80000000000001" fill="#e3e5e5"/>
<clipPath id="clipe"><rect x="376.4" y="266.0" width="307.9" height="89.80000000000001"/></clipPath>
<g clip-path="url(#clipe)">
<polyline points="390.60,332.80 391.27,338.92 391.94,342.51 392.62,343.12 393.29,341.54 393.96,336.55 394.63,339.54 395.30,341.64 395.98,345.74 396.65,342.10 397.32,341.87 397.99,338.10 398.66,341.21 399.34,342.23 400.01,341.39 400.68,343.11 401.35,346.22 402.02,345.27 402.70,347.55 403.37,345.57 404.04,348.27 404.71,347.50 405.38,349.36 406.06,348.08 406.73,346.88 407.40,347.30 408.07,349.70 408.74,350.72 409.42,348.26 410.09,350.15 410.76,350.39 411.43,348.47 412.10,350.84 412.78,348.20 413.45,347.79 414.12,349.06 414.79,350.17 415.46,349.24 416.14,346.99 416.81,348.50 417.48,347.02 418.15,348.38 418.82,348.14 419.50,347.91 420.17,347.83 420.84,347.46 421.51,345.84 422.18,344.47 422.86,345.23 423.53,345.31 424.20,344.02 424.87,343.06 425.54,343.15 426.22,339.28 426.89,338.95 427.56,327.76 428.23,325.83 428.90,330.39 429.58,329.20 430.25,332.77 430.92,330.31 431.59,330.72 432.26,326.44 432.94,330.71 433.61,327.91 434.28,328.53 434.95,326.64 435.62,327.69 436.30,319.59 436.97,321.31 437.64,309.71 438.31,314.65 438.98,320.17 439.66,328.82 440.33,326.87 441.00,321.76 441.67,309.65 442.34,318.29 443.02,318.32 443.69,331.77 444.36,338.24 445.03,340.72 445.70,346.06 446.38,345.33 447.05,345.53 447.72,345.45 448.39,346.74 449.06,344.55 449.74,344.89 450.41,345.78 451.08,347.36 451.75,346.52 452.42,344.68 453.10,345.08 453.77,346.47 454.44,348.00 455.11,345.13 455.78,344.88 456.46,345.03 457.13,344.57 457.80,345.37 458.47,347.37 459.14,348.93 459.82,346.95 460.49,347.05 461.16,348.23 461.83,347.63 462.50,345.55 463.18,348.82 463.85,347.86 464.52,348.84 465.19,344.77 465.86,347.69 466.54,345.36 467.21,346.14 467.88,347.85 468.55,346.19 469.22,346.66 469.90,346.26 470.57,346.56 471.24,345.96 471.91,345.58 472.58,346.87 473.26,344.52 473.93,346.04 474.60,346.28 475.27,344.70 475.94,343.78 476.62,341.94 477.29,340.91 477.96,336.91 478.63,333.58 479.30,333.02 479.98,326.02 480.65,322.38 481.32,317.84 481.99,312.04 482.66,326.21 483.34,340.46 484.01,348.06" fill="none" stroke="#ec2434" stroke-width="0.95" stroke-linejoin="round"/>
<polyline points="484.75,341.55 485.42,343.04 486.09,343.28 486.77,337.15 487.44,328.80 488.11,322.27 488.78,332.36 489.45,345.13 490.13,338.84 490.80,342.50 491.47,340.40 492.14,345.57 492.81,343.32 493.49,343.29 494.16,343.95 494.83,343.81 495.50,345.73 496.17,346.78 496.85,346.78 497.52,349.62 498.19,345.79 498.86,347.26 499.53,348.58 500.21,346.76 500.88,349.90 501.55,351.98 502.22,348.58 502.89,350.13 503.57,349.27 504.24,350.01 504.91,349.73 505.58,350.64 506.25,349.40 506.93,348.33 507.60,348.72 508.27,346.94 508.94,348.30 509.61,348.47 510.29,348.66 510.96,348.09 511.63,348.83 512.30,350.12 512.97,349.69 513.65,350.48 514.32,348.36 514.99,347.77 515.66,346.80 516.33,345.44 517.01,346.92 517.68,348.53 518.35,346.17 519.02,344.30 519.69,345.64 520.37,343.76 521.04,342.56 521.71,337.58 522.38,337.28 523.05,338.15 523.73,336.47 524.40,334.16 525.07,332.42 525.74,330.79 526.41,331.91 527.09,330.01 527.76,323.00 528.43,324.62 529.10,319.99 529.77,320.95 530.45,318.33 531.12,316.38 531.79,314.65 532.46,306.54 533.13,304.19 533.81,311.19 534.48,314.66 535.15,314.60 535.82,325.94 536.49,325.80 537.17,329.70 537.84,333.63 538.51,338.25 539.18,343.18 539.85,343.21 540.53,346.76 541.20,345.69 541.87,346.94 542.54,346.44 543.21,348.83 543.89,348.18 544.56,347.72 545.23,347.71 545.90,347.25 546.57,346.09 547.25,349.57 547.92,348.30 548.59,350.49 549.26,346.89 549.93,344.93 550.61,345.97 551.28,343.98 551.95,342.18 552.62,346.03 553.29,347.24 553.97,347.19 554.64,349.34 555.31,349.93 555.98,348.89 556.65,349.49 557.33,347.63 558.00,351.24 558.67,350.98 559.34,350.69 560.01,348.05 560.69,348.59 561.36,348.45 562.03,348.62 562.70,348.72 563.37,349.06 564.05,347.75 564.72,348.23 565.39,347.53 566.06,347.40 566.73,346.58 567.41,346.03 568.08,342.88 568.75,342.26 569.42,342.82 570.09,345.07 570.77,340.38 571.44,337.81 572.11,337.44 572.78,338.02 573.45,334.10 574.13,326.47 574.80,325.74 575.47,323.57 576.14,313.72 576.81,327.87 577.49,341.53 578.16,349.90" fill="none" stroke="#ec2434" stroke-width="0.95" stroke-linejoin="round"/>
<polyline points="578.90,342.87 579.57,342.47 580.24,347.45 580.92,342.71 581.59,341.04 582.26,340.68 582.93,342.55 583.60,344.07 584.28,345.62 584.95,346.04 585.62,346.09 586.29,345.89 586.96,342.21 587.64,341.42 588.31,343.17 588.98,343.56 589.65,345.70 590.32,346.16 591.00,345.04 591.67,345.90 592.34,346.29 593.01,347.09 593.68,347.37 594.36,349.43 595.03,347.73 595.70,350.95 596.37,348.67 597.04,348.62 597.72,348.65 598.39,351.76 599.06,348.25 599.73,350.95 600.40,352.45 601.08,349.44 601.75,349.31 602.42,351.23 603.09,348.69 603.76,349.21 604.44,349.01 605.11,350.42 605.78,347.67 606.45,348.40 607.12,348.65 607.80,349.67 608.47,348.98 609.14,348.27 609.81,349.29 610.48,347.05 611.16,343.50 611.83,344.34 612.50,343.26 613.17,341.30 613.84,337.33 614.52,334.50 615.19,337.00 615.86,339.25 616.53,339.20 617.20,337.61 617.88,337.72 618.55,335.45 619.22,334.01 619.89,331.57 620.56,330.94 621.24,330.61 621.91,327.30 622.58,326.40 623.25,323.46 623.92,317.28 624.60,316.70 625.27,313.96 625.94,307.60 626.61,297.14 627.28,287.73 627.96,298.12 628.63,306.00 629.30,317.00 629.97,315.66 630.64,315.89 631.32,329.21 631.99,331.32 632.66,341.09 633.33,342.72 634.00,342.79 634.68,347.58 635.35,347.42 636.02,345.67 636.69,347.85 637.36,347.00 638.04,345.25 638.71,349.68 639.38,346.88 640.05,346.07 640.72,348.44 641.40,348.58 642.07,347.36 642.74,347.56 643.41,345.74 644.08,348.59 644.76,346.22 645.43,344.13 646.10,344.00 646.77,346.97 647.44,347.38 648.12,347.61 648.79,349.47 649.46,350.70 650.13,348.26 650.80,348.53 651.48,348.10 652.15,347.82 652.82,349.45 653.49,349.07 654.16,346.77 654.84,349.05 655.51,349.62 656.18,349.40 656.85,347.35 657.52,345.49 658.20,346.49 658.87,349.71 659.54,347.72 660.21,348.03 660.88,345.54 661.56,345.67 662.23,345.63 662.90,345.66 663.57,342.57 664.24,344.49 664.92,341.59 665.59,340.92 666.26,336.67 666.93,337.68 667.60,340.37 668.28,341.28 668.95,338.88 669.62,337.47 670.29,331.43 670.96,339.12 671.64,347.78 672.31,347.22" fill="none" stroke="#ec2434" stroke-width="0.95" stroke-linejoin="round"/>
<polyline points="390.60,332.58 391.27,340.83 391.94,345.98 392.62,342.75 393.29,342.58 393.96,341.99 394.63,343.31 395.30,342.13 395.98,343.79 396.65,344.17 397.32,343.32 397.99,341.60 398.66,344.94 399.34,344.71 400.01,345.69 400.68,344.60 401.35,345.58 402.02,345.74 402.70,348.67 403.37,346.72 404.04,347.66 404.71,348.31 405.38,348.39 406.06,347.57 406.73,351.10 407.40,348.35 408.07,348.97 408.74,348.67 409.42,347.16 410.09,350.81 410.76,349.39 411.43,349.72 412.10,349.36 412.78,348.47 413.45,348.63 414.12,349.44 414.79,348.44 415.46,348.35 416.14,348.71 416.81,349.57 417.48,347.56 418.15,348.59 418.82,348.80 419.50,348.84 420.17,348.68 420.84,345.47 421.51,346.43 422.18,346.85 422.86,346.57 423.53,345.45 424.20,344.86 424.87,343.29 425.54,345.23 426.22,343.00 426.89,342.38 427.56,340.53 428.23,341.17 428.90,339.44 429.58,339.89 430.25,333.98 430.92,336.13 431.59,334.40 432.26,328.17 432.94,332.26 433.61,333.64 434.28,323.71 434.95,320.52 435.62,318.37 436.30,316.42 436.97,309.68 437.64,314.43 438.31,313.86 438.98,312.95 439.66,311.86 440.33,310.99 441.00,309.48 441.67,308.34 442.34,307.30 443.02,317.56 443.69,324.93 444.36,330.10 445.03,337.89 445.70,342.46 446.38,346.41 447.05,346.13 447.72,346.70 448.39,345.86 449.06,346.82 449.74,348.29 450.41,348.23 451.08,346.72 451.75,347.72 452.42,346.98 453.10,348.76 453.77,347.58 454.44,348.37 455.11,348.60 455.78,348.95 456.46,345.83 457.13,344.14 457.80,343.24 458.47,346.23 459.14,348.34 459.82,349.87 460.49,348.20 461.16,349.29 461.83,349.11 462.50,349.62 463.18,348.79 463.85,348.69 464.52,350.06 465.19,347.85 465.86,348.14 466.54,346.67 467.21,346.90 467.88,347.98 468.55,346.41 469.22,348.69 469.90,350.51 470.57,348.03 471.24,348.40 471.91,348.67 472.58,348.46 473.26,344.27 473.93,346.78 474.60,345.41 475.27,344.74 475.94,342.16 476.62,340.50 477.29,337.98 477.96,340.10 478.63,336.96 479.30,336.25 479.98,332.70 480.65,329.10 481.32,322.55 481.99,311.86 482.66,332.41 483.34,343.00 484.01,347.02" fill="none" stroke="#2b3b9b" stroke-width="0.95" stroke-linejoin="round"/>
<polyline points="484.75,343.63 485.42,346.82 486.09,343.99 486.77,341.82 487.44,335.08 488.11,333.38 488.78,338.27 489.45,341.47 490.13,334.10 490.80,338.50 491.47,344.24 492.14,345.99 492.81,345.52 493.49,339.19 494.16,340.61 494.83,344.07 495.50,343.97 496.17,343.44 496.85,347.45 497.52,348.77 498.19,347.28 498.86,347.21 499.53,347.48 500.21,345.89 500.88,350.48 501.55,348.11 502.22,349.74 502.89,351.18 503.57,349.38 504.24,348.50 504.91,348.77 505.58,349.53 506.25,348.06 506.93,349.25 507.60,348.13 508.27,348.97 508.94,348.92 509.61,350.25 510.29,348.60 510.96,348.39 511.63,347.07 512.30,347.98 512.97,349.58 513.65,346.78 514.32,347.31 514.99,347.15 515.66,348.41 516.33,347.21 517.01,346.65 517.68,346.71 518.35,345.27 519.02,346.29 519.69,345.28 520.37,341.77 521.04,343.55 521.71,338.81 522.38,339.93 523.05,339.65 523.73,336.30 524.40,337.74 525.07,333.30 525.74,335.58 526.41,330.50 527.09,332.34 527.76,331.69 528.43,325.82 529.10,324.36 529.77,326.32 530.45,323.92 531.12,325.02 531.79,319.92 532.46,314.69 533.13,315.43 533.81,317.13 534.48,322.59 535.15,317.63 535.82,324.79 536.49,324.54 537.17,327.07 537.84,334.31 538.51,338.79 539.18,342.37 539.85,344.25 540.53,347.52 541.20,347.39 541.87,350.18 542.54,347.14 543.21,348.75 543.89,346.74 544.56,349.20 545.23,348.23 545.90,348.07 546.57,348.38 547.25,346.75 547.92,348.52 548.59,348.39 549.26,347.23 549.93,347.09 550.61,345.44 551.28,346.73 551.95,344.07 552.62,348.75 553.29,348.80 553.97,349.55 554.64,349.24 555.31,348.50 555.98,348.42 556.65,348.14 557.33,350.18 558.00,346.38 558.67,348.48 559.34,348.79 560.01,349.03 560.69,347.13 561.36,349.67 562.03,348.35 562.70,347.66 563.37,348.74 564.05,349.13 564.72,349.32 565.39,347.17 566.06,347.20 566.73,345.39 567.41,344.89 568.08,343.83 568.75,346.85 569.42,343.41 570.09,344.02 570.77,342.47 571.44,340.81 572.11,338.43 572.78,334.65 573.45,333.46 574.13,331.42 574.80,330.53 575.47,315.73 576.14,314.21 576.81,329.05 577.49,341.82 578.16,348.24" fill="none" stroke="#2b3b9b" stroke-width="0.95" stroke-linejoin="round"/>
<polyline points="578.90,339.66 579.57,341.81 580.24,348.96 580.92,344.11 581.59,343.54 582.26,339.82 582.93,341.35 583.60,344.01 584.28,345.20 584.95,345.45 585.62,342.76 586.29,345.26 586.96,343.14 587.64,345.83 588.31,342.70 588.98,344.10 589.65,345.68 590.32,346.09 591.00,346.08 591.67,347.56 592.34,347.34 593.01,345.99 593.68,346.47 594.36,346.97 595.03,349.58 595.70,347.55 596.37,348.67 597.04,349.47 597.72,349.22 598.39,348.09 599.06,349.71 599.73,350.38 600.40,350.06 601.08,348.84 601.75,350.28 602.42,349.81 603.09,349.13 603.76,349.10 604.44,351.72 605.11,349.85 605.78,348.56 606.45,347.56 607.12,348.23 607.80,348.87 608.47,349.31 609.14,347.96 609.81,346.19 610.48,344.62 611.16,343.92 611.83,344.99 612.50,342.15 613.17,337.37 613.84,335.08 614.52,332.83 615.19,333.95 615.86,335.69 616.53,335.96 617.20,333.02 617.88,334.07 618.55,331.09 619.22,328.29 619.89,328.61 620.56,324.78 621.24,322.42 621.91,319.43 622.58,315.01 623.25,312.71 623.92,311.63 624.60,307.10 625.27,307.22 625.94,298.47 626.61,308.38 627.28,306.18 627.96,313.12 628.63,311.50 629.30,312.98 629.97,317.54 630.64,322.98 631.32,329.29 631.99,333.55 632.66,336.41 633.33,341.03 634.00,344.76 634.68,345.01 635.35,347.20 636.02,347.57 636.69,348.85 637.36,347.73 638.04,345.90 638.71,349.96 639.38,348.56 640.05,347.23 640.72,349.45 641.40,348.11 642.07,346.06 642.74,349.23 643.41,346.64 644.08,344.83 644.76,344.89 645.43,347.60 646.10,344.95 646.77,346.47 647.44,348.66 648.12,349.15 648.79,348.52 649.46,349.00 650.13,348.90 650.80,348.63 651.48,349.17 652.15,348.89 652.82,346.14 653.49,347.47 654.16,348.27 654.84,350.04 655.51,348.93 656.18,347.11 656.85,348.90 657.52,348.40 658.20,348.23 658.87,348.47 659.54,347.32 660.21,346.37 660.88,348.34 661.56,346.13 662.23,345.86 662.90,346.43 663.57,346.51 664.24,341.60 664.92,342.54 665.59,339.82 666.26,337.59 666.93,334.87 667.60,333.62 668.28,334.24 668.95,333.33 669.62,332.02 670.29,317.24 670.96,335.36 671.64,343.94 672.31,349.55" fill="none" stroke="#2b3b9b" stroke-width="0.95" stroke-linejoin="round"/>
</g>
<line x1="376.4" y1="266.0" x2="684.3" y2="266.0" stroke="#8c8c8c" stroke-width="1.5"/>
<line x1="376.4" y1="355.8" x2="684.3" y2="355.8" stroke="#8c8c8c" stroke-width="1.5"/>
<line x1="376.4" y1="265.3" x2="376.4" y2="356.5" stroke="#3a3a3a" stroke-width="1.0"/>
<line x1="684.3" y1="265.3" x2="684.3" y2="356.5" stroke="#222" stroke-width="1.3"/>
<line x1="372.4" y1="338.0" x2="376.4" y2="338.0" stroke="#333" stroke-width="0.9"/>
<text x="370.4" y="340.9" font-size="9" text-anchor="end" fill="#222">2</text>
<line x1="372.4" y1="317.2" x2="376.4" y2="317.2" stroke="#333" stroke-width="0.9"/>
<text x="370.4" y="320.1" font-size="9" text-anchor="end" fill="#222">4</text>
<line x1="372.4" y1="296.4" x2="376.4" y2="296.4" stroke="#333" stroke-width="0.9"/>
<text x="370.4" y="299.3" font-size="9" text-anchor="end" fill="#222">6</text>
<line x1="372.4" y1="275.6" x2="376.4" y2="275.6" stroke="#333" stroke-width="0.9"/>
<text x="370.4" y="278.5" font-size="9" text-anchor="end" fill="#222">8</text>
<line x1="390.6" y1="355.8" x2="390.6" y2="360.8" stroke="#333" stroke-width="0.9"/>
<line x1="397.3" y1="355.8" x2="397.3" y2="359.0" stroke="#666" stroke-width="0.8"/>
<line x1="404.0" y1="355.8" x2="404.0" y2="359.0" stroke="#666" stroke-width="0.8"/>
<line x1="410.8" y1="355.8" x2="410.8" y2="359.0" stroke="#666" stroke-width="0.8"/>
<line x1="417.5" y1="355.8" x2="417.5" y2="359.0" stroke="#666" stroke-width="0.8"/>
<line x1="424.2" y1="355.8" x2="424.2" y2="360.8" stroke="#333" stroke-width="0.9"/>
<line x1="430.9" y1="355.8" x2="430.9" y2="359.0" stroke="#666" stroke-width="0.8"/>
<line x1="437.6" y1="355.8" x2="437.6" y2="359.0" stroke="#666" stroke-width="0.8"/>
<line x1="444.4" y1="355.8" x2="444.4" y2="359.0" stroke="#666" stroke-width="0.8"/>
<line x1="451.1" y1="355.8" x2="451.1" y2="359.0" stroke="#666" stroke-width="0.8"/>
<line x1="457.8" y1="355.8" x2="457.8" y2="360.8" stroke="#333" stroke-width="0.9"/>
<line x1="464.5" y1="355.8" x2="464.5" y2="359.0" stroke="#666" stroke-width="0.8"/>
<line x1="471.2" y1="355.8" x2="471.2" y2="359.0" stroke="#666" stroke-width="0.8"/>
<line x1="478.0" y1="355.8" x2="478.0" y2="359.0" stroke="#666" stroke-width="0.8"/>
<text x="390.6" y="369.6" font-size="9" text-anchor="middle" fill="#222">50</text>
<text x="424.2" y="369.6" font-size="9" text-anchor="middle" fill="#222">100</text>
<text x="457.8" y="369.6" font-size="9" text-anchor="middle" fill="#222">150</text>
<line x1="484.8" y1="355.8" x2="484.8" y2="360.8" stroke="#333" stroke-width="0.9"/>
<line x1="491.5" y1="355.8" x2="491.5" y2="359.0" stroke="#666" stroke-width="0.8"/>
<line x1="498.2" y1="355.8" x2="498.2" y2="359.0" stroke="#666" stroke-width="0.8"/>
<line x1="504.9" y1="355.8" x2="504.9" y2="359.0" stroke="#666" stroke-width="0.8"/>
<line x1="511.6" y1="355.8" x2="511.6" y2="359.0" stroke="#666" stroke-width="0.8"/>
<line x1="518.4" y1="355.8" x2="518.4" y2="360.8" stroke="#333" stroke-width="0.9"/>
<line x1="525.1" y1="355.8" x2="525.1" y2="359.0" stroke="#666" stroke-width="0.8"/>
<line x1="531.8" y1="355.8" x2="531.8" y2="359.0" stroke="#666" stroke-width="0.8"/>
<line x1="538.5" y1="355.8" x2="538.5" y2="359.0" stroke="#666" stroke-width="0.8"/>
<line x1="545.2" y1="355.8" x2="545.2" y2="359.0" stroke="#666" stroke-width="0.8"/>
<line x1="552.0" y1="355.8" x2="552.0" y2="360.8" stroke="#333" stroke-width="0.9"/>
<line x1="558.7" y1="355.8" x2="558.7" y2="359.0" stroke="#666" stroke-width="0.8"/>
<line x1="565.4" y1="355.8" x2="565.4" y2="359.0" stroke="#666" stroke-width="0.8"/>
<line x1="572.1" y1="355.8" x2="572.1" y2="359.0" stroke="#666" stroke-width="0.8"/>
<text x="484.8" y="369.6" font-size="9" text-anchor="middle" fill="#222">50</text>
<text x="518.4" y="369.6" font-size="9" text-anchor="middle" fill="#222">100</text>
<text x="552.0" y="369.6" font-size="9" text-anchor="middle" fill="#222">150</text>
<line x1="578.9" y1="355.8" x2="578.9" y2="360.8" stroke="#333" stroke-width="0.9"/>
<line x1="585.6" y1="355.8" x2="585.6" y2="359.0" stroke="#666" stroke-width="0.8"/>
<line x1="592.3" y1="355.8" x2="592.3" y2="359.0" stroke="#666" stroke-width="0.8"/>
<line x1="599.1" y1="355.8" x2="599.1" y2="359.0" stroke="#666" stroke-width="0.8"/>
<line x1="605.8" y1="355.8" x2="605.8" y2="359.0" stroke="#666" stroke-width="0.8"/>
<line x1="612.5" y1="355.8" x2="612.5" y2="360.8" stroke="#333" stroke-width="0.9"/>
<line x1="619.2" y1="355.8" x2="619.2" y2="359.0" stroke="#666" stroke-width="0.8"/>
<line x1="625.9" y1="355.8" x2="625.9" y2="359.0" stroke="#666" stroke-width="0.8"/>
<line x1="632.7" y1="355.8" x2="632.7" y2="359.0" stroke="#666" stroke-width="0.8"/>
<line x1="639.4" y1="355.8" x2="639.4" y2="359.0" stroke="#666" stroke-width="0.8"/>
<line x1="646.1" y1="355.8" x2="646.1" y2="360.8" stroke="#333" stroke-width="0.9"/>
<line x1="652.8" y1="355.8" x2="652.8" y2="359.0" stroke="#666" stroke-width="0.8"/>
<line x1="659.5" y1="355.8" x2="659.5" y2="359.0" stroke="#666" stroke-width="0.8"/>
<line x1="666.3" y1="355.8" x2="666.3" y2="359.0" stroke="#666" stroke-width="0.8"/>
<text x="578.9" y="369.6" font-size="9" text-anchor="middle" fill="#222">50</text>
<text x="612.5" y="369.6" font-size="9" text-anchor="middle" fill="#222">100</text>
<text x="646.1" y="369.6" font-size="9" text-anchor="middle" fill="#222">150</text>
<g stroke="#111" stroke-width="1.15"><line x1="387.0" y1="374.8" x2="387.0" y2="381.40000000000003"/><line x1="481.8" y1="374.8" x2="481.8" y2="381.40000000000003"/><line x1="387.0" y1="378.3" x2="408.2" y2="378.3"/><line x1="461.0" y1="378.3" x2="481.8" y2="378.3"/></g>
<text x="434.4" y="380.6" font-size="9.7" text-anchor="middle" fill="#222">Subunit A</text>
<g stroke="#111" stroke-width="1.15"><line x1="484.2" y1="374.8" x2="484.2" y2="381.40000000000003"/><line x1="576.6" y1="374.8" x2="576.6" y2="381.40000000000003"/><line x1="484.2" y1="378.3" x2="504.2" y2="378.3"/><line x1="556.8" y1="378.3" x2="576.6" y2="378.3"/></g>
<text x="530.4" y="380.6" font-size="9.7" text-anchor="middle" fill="#222">Subunit B</text>
<g stroke="#111" stroke-width="1.15"><line x1="579.2" y1="374.8" x2="579.2" y2="381.40000000000003"/><line x1="673.0" y1="374.8" x2="673.0" y2="381.40000000000003"/><line x1="579.2" y1="378.3" x2="599.9" y2="378.3"/><line x1="652.5" y1="378.3" x2="673.0" y2="378.3"/></g>
<text x="626.1" y="380.6" font-size="9.7" text-anchor="middle" fill="#222">Subunit C</text>
<text x="530.5" y="392.2" font-size="9.6" text-anchor="middle" fill="#222" font-style="italic">Residue index</text>
<text x="357.6" y="310.4" font-size="9.9" text-anchor="middle" fill="#222" font-style="italic" transform="rotate(-90 357.6 310.4)">RMSF (Å)</text>
<text x="462.0" y="312.2" font-size="8.2" text-anchor="middle" fill="#222">(M150L)</text>
<line x1="458.5" y1="322.8" x2="458.5" y2="335.8" stroke="#222" stroke-width="0.8" stroke-dasharray="1.2,1"/>
<path d="M456.5,334.8 L460.5,334.8 L458.5,338.8 Z" fill="#111"/>
<text x="553.8" y="312.2" font-size="8.2" text-anchor="middle" fill="#222">(M150L)</text>
<line x1="552.6" y1="322.8" x2="552.6" y2="335.8" stroke="#222" stroke-width="0.8" stroke-dasharray="1.2,1"/>
<path d="M550.6,334.8 L554.6,334.8 L552.6,338.8 Z" fill="#111"/>
<text x="647.5" y="312.2" font-size="8.2" text-anchor="middle" fill="#222">(M150L)</text>
<line x1="646.8" y1="322.8" x2="646.8" y2="335.8" stroke="#222" stroke-width="0.8" stroke-dasharray="1.2,1"/>
<path d="M644.8,334.8 L648.8,334.8 L646.8,338.8 Z" fill="#111"/>
<line x1="531.6" y1="273.9" x2="542.2" y2="273.9" stroke="#2b3b9b" stroke-width="1.2"/>
<text x="545.2" y="276.8" font-size="8.2" text-anchor="start" fill="#222">CTR1 + Cu</text>
<line x1="594" y1="273.9" x2="604.6" y2="273.9" stroke="#ec2434" stroke-width="1.2"/>
<text x="607.6" y="276.8" font-size="8.2" text-anchor="start" fill="#222">CTR1 (M150L) + Cu</text>
<text x="348.4" y="269.0" font-size="9" text-anchor="start" fill="#111" font-weight="bold">e</text>
<rect x="422.5" y="400.0" width="25.8" height="89.30000000000001" fill="#cfd0d2"/>
<rect x="517" y="400.0" width="25.7" height="89.30000000000001" fill="#cfd0d2"/>
<rect x="611.5" y="400.0" width="25.7" height="89.30000000000001" fill="#cfd0d2"/>
<rect x="476" y="400.0" width="8.0" height="89.30000000000001" fill="#e3e5e5"/>
<rect x="570.8" y="400.0" width="7.0" height="89.30000000000001" fill="#e3e5e5"/>
<rect x="664.7" y="400.0" width="8.1" height="89.30000000000001" fill="#e3e5e5"/>
<clipPath id="clipf"><rect x="376.4" y="400.0" width="307.9" height="89.30000000000001"/></clipPath>
<g clip-path="url(#clipf)">
<polyline points="391.50,471.94 392.17,476.58 392.84,477.94 393.52,474.49 394.19,476.32 394.86,476.51 395.53,478.48 396.20,478.40 396.88,481.16 397.55,478.19 398.22,478.99 398.89,480.36 399.56,480.58 400.24,478.51 400.91,477.76 401.58,478.62 402.25,480.43 402.92,479.43 403.60,478.70 404.27,482.24 404.94,482.05 405.61,482.90 406.28,481.59 406.96,482.89 407.63,483.06 408.30,482.19 408.97,484.82 409.64,484.25 410.32,483.89 410.99,485.56 411.66,483.99 412.33,485.13 413.00,483.36 413.68,480.12 414.35,481.18 415.02,483.25 415.69,480.49 416.36,483.05 417.04,481.44 417.71,484.25 418.38,481.92 419.05,484.26 419.72,480.70 420.40,480.49 421.07,483.12 421.74,480.47 422.41,477.10 423.08,476.01 423.76,472.24 424.43,467.00 425.10,463.35 425.77,465.51 426.44,454.42 427.12,460.47 427.79,460.10 428.46,464.02 429.13,458.08 429.80,453.75 430.48,451.50 431.15,456.75 431.82,460.03 432.49,460.92 433.16,456.21 433.84,453.23 434.51,452.82 435.18,454.52 435.85,454.99 436.52,455.58 437.20,455.12 437.87,449.49 438.54,446.48 439.21,447.48 439.88,446.35 440.56,442.66 441.23,446.34 441.90,452.38 442.57,457.57 443.24,461.38 443.92,467.53 444.59,475.60 445.26,472.45 445.93,476.11 446.60,477.82 447.28,477.96 447.95,479.38 448.62,479.53 449.29,480.03 449.96,478.85 450.64,480.41 451.31,478.95 451.98,480.30 452.65,478.76 453.32,481.11 454.00,479.08 454.67,480.65 455.34,478.57 456.01,478.94 456.68,476.65 457.36,475.91 458.03,475.75 458.70,476.41 459.37,477.51 460.04,479.96 460.72,477.86 461.39,481.06 462.06,479.15 462.73,479.39 463.40,477.00 464.08,477.65 464.75,477.06 465.42,479.84 466.09,478.41 466.76,480.72 467.44,476.52 468.11,480.07 468.78,481.77 469.45,477.51 470.12,478.91 470.80,478.64 471.47,479.05 472.14,478.26 472.81,479.46 473.48,479.45 474.16,476.85 474.83,479.96 475.50,478.42 476.17,478.80 476.84,475.59 477.52,474.90 478.19,473.74 478.86,470.27 479.53,471.03 480.20,469.59 480.88,469.20 481.55,464.70 482.22,458.97 482.89,460.28 483.56,465.79 484.24,477.59 484.91,482.70" fill="none" stroke="#ec2434" stroke-width="0.95" stroke-linejoin="round"/>
<polyline points="485.65,471.44 486.32,476.90 486.99,478.81 487.67,478.87 488.34,477.53 489.01,475.52 489.68,477.38 490.35,480.24 491.03,479.83 491.70,476.26 492.37,479.72 493.04,481.46 493.71,480.93 494.39,476.86 495.06,479.29 495.73,478.93 496.40,478.90 497.07,480.59 497.75,479.89 498.42,480.91 499.09,480.61 499.76,482.53 500.43,483.56 501.11,481.44 501.78,483.98 502.45,483.22 503.12,482.36 503.79,484.33 504.47,483.13 505.14,484.00 505.81,483.46 506.48,484.79 507.15,484.00 507.83,483.30 508.50,482.73 509.17,483.64 509.84,482.94 510.51,484.51 511.19,479.82 511.86,482.57 512.53,482.65 513.20,483.07 513.87,481.08 514.55,479.57 515.22,483.60 515.89,481.44 516.56,479.42 517.23,476.65 517.91,473.24 518.58,471.59 519.25,468.94 519.92,466.71 520.59,468.19 521.27,461.60 521.94,458.49 522.61,459.46 523.28,458.55 523.95,453.34 524.63,456.01 525.30,450.97 525.97,448.73 526.64,446.21 527.31,441.86 527.99,443.42 528.66,435.67 529.33,437.14 530.00,445.27 530.67,447.58 531.35,437.48 532.02,435.37 532.69,433.51 533.36,435.80 534.03,428.18 534.71,418.82 535.38,424.29 536.05,441.38 536.72,450.53 537.39,462.96 538.07,465.23 538.74,471.54 539.41,473.97 540.08,477.61 540.75,476.76 541.43,478.34 542.10,480.33 542.77,480.66 543.44,481.01 544.11,480.04 544.79,483.86 545.46,480.74 546.13,479.71 546.80,482.02 547.47,482.72 548.15,483.99 548.82,480.33 549.49,482.63 550.16,479.54 550.83,479.67 551.51,479.41 552.18,476.77 552.85,478.27 553.52,479.18 554.19,482.11 554.87,482.46 555.54,483.93 556.21,481.00 556.88,481.12 557.55,481.99 558.23,483.27 558.90,481.48 559.57,481.08 560.24,480.25 560.91,480.46 561.59,484.18 562.26,481.51 562.93,482.36 563.60,482.28 564.27,483.34 564.95,480.53 565.62,480.62 566.29,483.14 566.96,482.22 567.63,479.17 568.31,479.95 568.98,480.36 569.65,477.02 570.32,478.90 570.99,476.29 571.67,476.82 572.34,473.40 573.01,472.50 573.68,462.80 574.35,461.67 575.03,454.44 575.70,445.29 576.37,427.08 577.04,423.85 577.71,449.73 578.39,470.63 579.06,481.48" fill="none" stroke="#ec2434" stroke-width="0.95" stroke-linejoin="round"/>
<polyline points="579.80,476.35 580.47,475.06 581.14,479.66 581.82,473.96 582.49,474.96 583.16,470.81 583.83,472.28 584.50,477.26 585.18,478.04 585.85,477.41 586.52,475.94 587.19,474.51 587.86,474.87 588.54,476.04 589.21,475.70 589.88,479.68 590.55,479.31 591.22,479.84 591.90,479.46 592.57,480.92 593.24,484.15 593.91,481.17 594.58,483.63 595.26,481.50 595.93,483.38 596.60,483.30 597.27,482.91 597.94,482.20 598.62,484.25 599.29,481.94 599.96,485.65 600.63,482.19 601.30,484.00 601.98,483.82 602.65,484.55 603.32,480.84 603.99,481.83 604.66,482.86 605.34,483.67 606.01,482.65 606.68,482.27 607.35,485.51 608.02,482.73 608.70,481.05 609.37,482.14 610.04,479.96 610.71,477.65 611.38,476.15 612.06,471.79 612.73,469.52 613.40,469.63 614.07,467.04 614.74,464.15 615.42,462.81 616.09,458.52 616.76,464.95 617.43,463.97 618.10,458.84 618.78,464.67 619.45,458.74 620.12,455.72 620.79,451.80 621.46,444.09 622.14,440.20 622.81,440.38 623.48,437.80 624.15,437.96 624.82,432.39 625.50,426.27 626.17,416.70 626.84,418.50 627.51,427.00 628.18,428.93 628.86,431.40 629.53,435.61 630.20,437.77 630.87,448.12 631.54,448.12 632.22,466.04 632.89,466.73 633.56,472.57 634.23,475.45 634.90,479.19 635.58,480.52 636.25,480.49 636.92,481.47 637.59,482.15 638.26,482.54 638.94,479.98 639.61,480.51 640.28,481.95 640.95,478.66 641.62,480.44 642.30,481.84 642.97,480.30 643.64,481.98 644.31,482.19 644.98,479.47 645.66,479.77 646.33,480.08 647.00,476.70 647.67,479.81 648.34,481.03 649.02,481.82 649.69,481.95 650.36,481.26 651.03,480.23 651.70,478.67 652.38,480.59 653.05,478.85 653.72,482.03 654.39,482.46 655.06,482.83 655.74,481.29 656.41,481.54 657.08,480.01 657.75,481.71 658.42,482.66 659.10,480.20 659.77,480.01 660.44,483.22 661.11,480.77 661.78,478.18 662.46,478.08 663.13,479.35 663.80,480.25 664.47,477.47 665.14,476.22 665.82,474.84 666.49,475.35 667.16,471.13 667.83,464.16 668.50,462.72 669.18,450.28 669.85,443.30 670.52,435.87 671.19,426.55 671.86,447.82 672.54,468.37 673.21,485.29" fill="none" stroke="#ec2434" stroke-width="0.95" stroke-linejoin="round"/>
<polyline points="391.50,469.84 392.17,474.49 392.84,478.75 393.52,476.87 394.19,475.38 394.86,472.68 395.53,474.92 396.20,476.54 396.88,477.94 397.55,479.51 398.22,478.75 398.89,476.00 399.56,475.83 400.24,475.39 400.91,477.23 401.58,479.06 402.25,478.37 402.92,479.20 403.60,480.11 404.27,480.65 404.94,482.25 405.61,482.46 406.28,484.68 406.96,481.64 407.63,484.51 408.30,484.05 408.97,483.40 409.64,483.86 410.32,482.05 410.99,484.41 411.66,485.65 412.33,485.27 413.00,483.92 413.68,484.70 414.35,483.73 415.02,486.40 415.69,484.62 416.36,482.05 417.04,484.71 417.71,482.13 418.38,483.67 419.05,482.70 419.72,482.54 420.40,483.34 421.07,483.06 421.74,482.03 422.41,481.17 423.08,476.92 423.76,472.30 424.43,469.61 425.10,467.44 425.77,464.35 426.44,460.59 427.12,455.21 427.79,456.58 428.46,442.64 429.13,445.93 429.80,459.27 430.48,450.38 431.15,456.79 431.82,454.07 432.49,446.33 433.16,444.48 433.84,433.69 434.51,442.60 435.18,433.70 435.85,434.68 436.52,434.50 437.20,442.98 437.87,436.42 438.54,439.41 439.21,439.87 439.88,439.94 440.56,419.53 441.23,438.36 441.90,444.48 442.57,457.16 443.24,465.65 443.92,472.88 444.59,475.52 445.26,479.08 445.93,481.37 446.60,481.58 447.28,483.02 447.95,483.94 448.62,486.39 449.29,483.09 449.96,484.96 450.64,483.34 451.31,483.54 451.98,484.51 452.65,485.89 453.32,485.10 454.00,485.76 454.67,486.69 455.34,484.92 456.01,485.18 456.68,483.27 457.36,479.59 458.03,482.02 458.70,481.75 459.37,481.66 460.04,484.90 460.72,484.06 461.39,485.97 462.06,483.72 462.73,485.47 463.40,483.36 464.08,482.91 464.75,482.31 465.42,484.56 466.09,484.66 466.76,485.08 467.44,482.53 468.11,483.08 468.78,485.37 469.45,482.90 470.12,483.49 470.80,483.49 471.47,483.97 472.14,484.08 472.81,481.36 473.48,482.47 474.16,480.62 474.83,482.21 475.50,479.10 476.17,478.21 476.84,474.51 477.52,473.69 478.19,473.56 478.86,470.09 479.53,466.26 480.20,460.23 480.88,449.53 481.55,445.95 482.22,441.71 482.89,428.81 483.56,453.18 484.24,469.13 484.91,482.79" fill="none" stroke="#2b3b9b" stroke-width="0.95" stroke-linejoin="round"/>
<polyline points="485.65,477.67 486.32,481.49 486.99,479.45 487.67,477.08 488.34,480.20 489.01,478.63 489.68,479.39 490.35,477.91 491.03,477.35 491.70,480.18 492.37,481.82 493.04,481.24 493.71,481.00 494.39,477.82 495.06,478.01 495.73,479.82 496.40,479.23 497.07,482.60 497.75,479.75 498.42,479.63 499.09,483.07 499.76,483.18 500.43,482.25 501.11,486.59 501.78,484.04 502.45,483.84 503.12,482.02 503.79,482.66 504.47,483.38 505.14,482.25 505.81,481.43 506.48,484.19 507.15,483.34 507.83,483.06 508.50,484.24 509.17,484.07 509.84,483.04 510.51,482.73 511.19,484.91 511.86,483.16 512.53,483.13 513.20,482.43 513.87,483.59 514.55,483.00 515.22,482.89 515.89,479.59 516.56,479.11 517.23,476.19 517.91,474.16 518.58,475.70 519.25,471.18 519.92,472.33 520.59,471.63 521.27,468.33 521.94,471.27 522.61,468.49 523.28,469.04 523.95,465.61 524.63,463.53 525.30,466.31 525.97,466.45 526.64,463.66 527.31,462.19 527.99,458.68 528.66,456.58 529.33,455.00 530.00,458.19 530.67,450.89 531.35,455.83 532.02,453.10 532.69,455.63 533.36,448.36 534.03,447.46 534.71,452.08 535.38,441.82 536.05,450.09 536.72,462.49 537.39,466.69 538.07,473.02 538.74,474.31 539.41,477.26 540.08,478.05 540.75,477.74 541.43,480.75 542.10,481.72 542.77,484.38 543.44,481.23 544.11,484.44 544.79,483.52 545.46,482.44 546.13,483.10 546.80,481.71 547.47,483.07 548.15,486.19 548.82,485.13 549.49,481.83 550.16,483.11 550.83,482.48 551.51,482.67 552.18,484.15 552.85,477.71 553.52,481.08 554.19,484.79 554.87,482.31 555.54,481.50 556.21,482.44 556.88,483.88 557.55,484.12 558.23,485.83 558.90,482.66 559.57,484.47 560.24,484.03 560.91,482.59 561.59,480.16 562.26,479.81 562.93,482.92 563.60,483.81 564.27,484.03 564.95,483.08 565.62,481.60 566.29,482.93 566.96,483.13 567.63,479.95 568.31,477.98 568.98,478.30 569.65,478.71 570.32,477.59 570.99,477.63 571.67,475.56 572.34,473.96 573.01,470.09 573.68,471.30 574.35,474.52 575.03,475.01 575.70,470.96 576.37,462.74 577.04,464.02 577.71,473.10 578.39,479.95 579.06,483.36" fill="none" stroke="#2b3b9b" stroke-width="0.95" stroke-linejoin="round"/>
<polyline points="579.80,476.86 580.47,478.44 581.14,477.07 581.82,480.47 582.49,477.51 583.16,477.39 583.83,478.85 584.50,479.13 585.18,479.17 585.85,479.37 586.52,479.41 587.19,479.45 587.86,481.46 588.54,478.49 589.21,476.13 589.88,478.35 590.55,479.07 591.22,481.47 591.90,481.38 592.57,480.73 593.24,480.35 593.91,480.04 594.58,482.68 595.26,481.19 595.93,481.02 596.60,482.91 597.27,481.15 597.94,481.70 598.62,483.51 599.29,482.21 599.96,481.45 600.63,482.47 601.30,480.73 601.98,482.08 602.65,481.55 603.32,484.02 603.99,482.49 604.66,483.57 605.34,482.20 606.01,482.01 606.68,479.55 607.35,483.59 608.02,481.09 608.70,481.18 609.37,482.02 610.04,480.39 610.71,480.35 611.38,477.77 612.06,476.70 612.73,471.82 613.40,466.95 614.07,467.53 614.74,468.53 615.42,469.07 616.09,468.03 616.76,462.52 617.43,456.99 618.10,453.57 618.78,461.47 619.45,453.91 620.12,444.51 620.79,437.46 621.46,430.77 622.14,430.44 622.81,429.71 623.48,434.34 624.15,442.22 624.82,449.62 625.50,446.61 626.17,441.82 626.84,439.30 627.51,439.09 628.18,444.15 628.86,450.96 629.53,451.14 630.20,456.99 630.87,460.13 631.54,465.66 632.22,472.35 632.89,477.22 633.56,479.73 634.23,480.76 634.90,483.49 635.58,485.73 636.25,484.65 636.92,484.24 637.59,482.36 638.26,481.52 638.94,479.69 639.61,481.19 640.28,483.25 640.95,480.60 641.62,480.63 642.30,484.10 642.97,482.30 643.64,480.99 644.31,481.88 644.98,481.57 645.66,479.36 646.33,481.41 647.00,478.06 647.67,480.41 648.34,482.65 649.02,480.47 649.69,481.45 650.36,481.46 651.03,482.40 651.70,483.59 652.38,481.72 653.05,482.96 653.72,482.80 654.39,483.28 655.06,483.61 655.74,480.61 656.41,480.52 657.08,481.77 657.75,481.62 658.42,481.46 659.10,481.65 659.77,479.55 660.44,483.81 661.11,479.56 661.78,482.65 662.46,480.73 663.13,477.08 663.80,479.90 664.47,479.02 665.14,476.80 665.82,475.29 666.49,471.83 667.16,473.07 667.83,474.34 668.50,470.23 669.18,471.04 669.85,466.09 670.52,461.84 671.19,454.19 671.86,470.44 672.54,480.10 673.21,480.89" fill="none" stroke="#2b3b9b" stroke-width="0.95" stroke-linejoin="round"/>
</g>
<line x1="376.4" y1="400.0" x2="684.3" y2="400.0" stroke="#8c8c8c" stroke-width="1.5"/>
<line x1="376.4" y1="489.3" x2="684.3" y2="489.3" stroke="#8c8c8c" stroke-width="1.5"/>
<line x1="376.4" y1="399.3" x2="376.4" y2="490.0" stroke="#3a3a3a" stroke-width="1.0"/>
<line x1="684.3" y1="399.3" x2="684.3" y2="490.0" stroke="#222" stroke-width="1.3"/>
<line x1="372.4" y1="472.0" x2="376.4" y2="472.0" stroke="#333" stroke-width="0.9"/>
<text x="370.4" y="474.9" font-size="9" text-anchor="end" fill="#222">2</text>
<line x1="372.4" y1="451.3" x2="376.4" y2="451.3" stroke="#333" stroke-width="0.9"/>
<text x="370.4" y="454.2" font-size="9" text-anchor="end" fill="#222">4</text>
<line x1="372.4" y1="430.5" x2="376.4" y2="430.5" stroke="#333" stroke-width="0.9"/>
<text x="370.4" y="433.4" font-size="9" text-anchor="end" fill="#222">6</text>
<line x1="372.4" y1="409.8" x2="376.4" y2="409.8" stroke="#333" stroke-width="0.9"/>
<text x="370.4" y="412.7" font-size="9" text-anchor="end" fill="#222">8</text>
<line x1="391.5" y1="489.3" x2="391.5" y2="494.3" stroke="#333" stroke-width="0.9"/>
<line x1="398.2" y1="489.3" x2="398.2" y2="492.5" stroke="#666" stroke-width="0.8"/>
<line x1="404.9" y1="489.3" x2="404.9" y2="492.5" stroke="#666" stroke-width="0.8"/>
<line x1="411.7" y1="489.3" x2="411.7" y2="492.5" stroke="#666" stroke-width="0.8"/>
<line x1="418.4" y1="489.3" x2="418.4" y2="492.5" stroke="#666" stroke-width="0.8"/>
<line x1="425.1" y1="489.3" x2="425.1" y2="494.3" stroke="#333" stroke-width="0.9"/>
<line x1="431.8" y1="489.3" x2="431.8" y2="492.5" stroke="#666" stroke-width="0.8"/>
<line x1="438.5" y1="489.3" x2="438.5" y2="492.5" stroke="#666" stroke-width="0.8"/>
<line x1="445.3" y1="489.3" x2="445.3" y2="492.5" stroke="#666" stroke-width="0.8"/>
<line x1="452.0" y1="489.3" x2="452.0" y2="492.5" stroke="#666" stroke-width="0.8"/>
<line x1="458.7" y1="489.3" x2="458.7" y2="494.3" stroke="#333" stroke-width="0.9"/>
<line x1="465.4" y1="489.3" x2="465.4" y2="492.5" stroke="#666" stroke-width="0.8"/>
<line x1="472.1" y1="489.3" x2="472.1" y2="492.5" stroke="#666" stroke-width="0.8"/>
<line x1="478.9" y1="489.3" x2="478.9" y2="492.5" stroke="#666" stroke-width="0.8"/>
<text x="391.5" y="503.8" font-size="9" text-anchor="middle" fill="#222">50</text>
<text x="425.1" y="503.8" font-size="9" text-anchor="middle" fill="#222">100</text>
<text x="458.7" y="503.8" font-size="9" text-anchor="middle" fill="#222">150</text>
<line x1="485.6" y1="489.3" x2="485.6" y2="494.3" stroke="#333" stroke-width="0.9"/>
<line x1="492.4" y1="489.3" x2="492.4" y2="492.5" stroke="#666" stroke-width="0.8"/>
<line x1="499.1" y1="489.3" x2="499.1" y2="492.5" stroke="#666" stroke-width="0.8"/>
<line x1="505.8" y1="489.3" x2="505.8" y2="492.5" stroke="#666" stroke-width="0.8"/>
<line x1="512.5" y1="489.3" x2="512.5" y2="492.5" stroke="#666" stroke-width="0.8"/>
<line x1="519.2" y1="489.3" x2="519.2" y2="494.3" stroke="#333" stroke-width="0.9"/>
<line x1="526.0" y1="489.3" x2="526.0" y2="492.5" stroke="#666" stroke-width="0.8"/>
<line x1="532.7" y1="489.3" x2="532.7" y2="492.5" stroke="#666" stroke-width="0.8"/>
<line x1="539.4" y1="489.3" x2="539.4" y2="492.5" stroke="#666" stroke-width="0.8"/>
<line x1="546.1" y1="489.3" x2="546.1" y2="492.5" stroke="#666" stroke-width="0.8"/>
<line x1="552.9" y1="489.3" x2="552.9" y2="494.3" stroke="#333" stroke-width="0.9"/>
<line x1="559.6" y1="489.3" x2="559.6" y2="492.5" stroke="#666" stroke-width="0.8"/>
<line x1="566.3" y1="489.3" x2="566.3" y2="492.5" stroke="#666" stroke-width="0.8"/>
<line x1="573.0" y1="489.3" x2="573.0" y2="492.5" stroke="#666" stroke-width="0.8"/>
<text x="485.6" y="503.8" font-size="9" text-anchor="middle" fill="#222">50</text>
<text x="519.2" y="503.8" font-size="9" text-anchor="middle" fill="#222">100</text>
<text x="552.9" y="503.8" font-size="9" text-anchor="middle" fill="#222">150</text>
<line x1="579.8" y1="489.3" x2="579.8" y2="494.3" stroke="#333" stroke-width="0.9"/>
<line x1="586.5" y1="489.3" x2="586.5" y2="492.5" stroke="#666" stroke-width="0.8"/>
<line x1="593.2" y1="489.3" x2="593.2" y2="492.5" stroke="#666" stroke-width="0.8"/>
<line x1="600.0" y1="489.3" x2="600.0" y2="492.5" stroke="#666" stroke-width="0.8"/>
<line x1="606.7" y1="489.3" x2="606.7" y2="492.5" stroke="#666" stroke-width="0.8"/>
<line x1="613.4" y1="489.3" x2="613.4" y2="494.3" stroke="#333" stroke-width="0.9"/>
<line x1="620.1" y1="489.3" x2="620.1" y2="492.5" stroke="#666" stroke-width="0.8"/>
<line x1="626.8" y1="489.3" x2="626.8" y2="492.5" stroke="#666" stroke-width="0.8"/>
<line x1="633.6" y1="489.3" x2="633.6" y2="492.5" stroke="#666" stroke-width="0.8"/>
<line x1="640.3" y1="489.3" x2="640.3" y2="492.5" stroke="#666" stroke-width="0.8"/>
<line x1="647.0" y1="489.3" x2="647.0" y2="494.3" stroke="#333" stroke-width="0.9"/>
<line x1="653.7" y1="489.3" x2="653.7" y2="492.5" stroke="#666" stroke-width="0.8"/>
<line x1="660.4" y1="489.3" x2="660.4" y2="492.5" stroke="#666" stroke-width="0.8"/>
<line x1="667.2" y1="489.3" x2="667.2" y2="492.5" stroke="#666" stroke-width="0.8"/>
<text x="579.8" y="503.8" font-size="9" text-anchor="middle" fill="#222">50</text>
<text x="613.4" y="503.8" font-size="9" text-anchor="middle" fill="#222">100</text>
<text x="647.0" y="503.8" font-size="9" text-anchor="middle" fill="#222">150</text>
<g stroke="#111" stroke-width="1.15"><line x1="387.9" y1="509.0" x2="387.9" y2="515.6"/><line x1="482.7" y1="509.0" x2="482.7" y2="515.6"/><line x1="387.9" y1="512.5" x2="409.09999999999997" y2="512.5"/><line x1="461.9" y1="512.5" x2="482.7" y2="512.5"/></g>
<text x="435.3" y="514.8" font-size="9.7" text-anchor="middle" fill="#222">Subunit A</text>
<g stroke="#111" stroke-width="1.15"><line x1="485.09999999999997" y1="509.0" x2="485.09999999999997" y2="515.6"/><line x1="577.5" y1="509.0" x2="577.5" y2="515.6"/><line x1="485.09999999999997" y1="512.5" x2="505.09999999999997" y2="512.5"/><line x1="557.6999999999999" y1="512.5" x2="577.5" y2="512.5"/></g>
<text x="531.3" y="514.8" font-size="9.7" text-anchor="middle" fill="#222">Subunit B</text>
<g stroke="#111" stroke-width="1.15"><line x1="580.1" y1="509.0" x2="580.1" y2="515.6"/><line x1="673.9" y1="509.0" x2="673.9" y2="515.6"/><line x1="580.1" y1="512.5" x2="600.8" y2="512.5"/><line x1="653.4" y1="512.5" x2="673.9" y2="512.5"/></g>
<text x="627.0" y="514.8" font-size="9.7" text-anchor="middle" fill="#222">Subunit C</text>
<text x="530.5" y="525.0" font-size="9.6" text-anchor="middle" fill="#222" font-style="italic">Residue index</text>
<text x="357.6" y="444.1" font-size="9.9" text-anchor="middle" fill="#222" font-style="italic" transform="rotate(-90 357.6 444.1)">RMSF (Å)</text>
<text x="462.0" y="446.5" font-size="8.2" text-anchor="middle" fill="#222">(M150L)</text>
<line x1="458.5" y1="457.8" x2="458.5" y2="471.4" stroke="#222" stroke-width="0.8" stroke-dasharray="1.2,1"/>
<path d="M456.5,470.4 L460.5,470.4 L458.5,474.4 Z" fill="#111"/>
<text x="553.8" y="446.5" font-size="8.2" text-anchor="middle" fill="#222">(M150L)</text>
<line x1="552.6" y1="457.8" x2="552.6" y2="471.4" stroke="#222" stroke-width="0.8" stroke-dasharray="1.2,1"/>
<path d="M550.6,470.4 L554.6,470.4 L552.6,474.4 Z" fill="#111"/>
<text x="647.5" y="446.5" font-size="8.2" text-anchor="middle" fill="#222">(M150L)</text>
<line x1="646.8" y1="457.8" x2="646.8" y2="471.4" stroke="#222" stroke-width="0.8" stroke-dasharray="1.2,1"/>
<path d="M644.8,470.4 L648.8,470.4 L646.8,474.4 Z" fill="#111"/>
<line x1="530" y1="408.4" x2="541" y2="408.4" stroke="#2b3b9b" stroke-width="1.2"/>
<text x="544.0" y="411.3" font-size="8.2" text-anchor="start" fill="#222">CTR1</text>
<line x1="592.6" y1="408.4" x2="603" y2="408.4" stroke="#ec2434" stroke-width="1.2"/>
<text x="606.0" y="411.3" font-size="8.2" text-anchor="start" fill="#222">CTR1 (M150L)</text>
<text x="348.4" y="401.9" font-size="9" text-anchor="start" fill="#111" font-weight="bold">f</text>
</svg></body></html>
